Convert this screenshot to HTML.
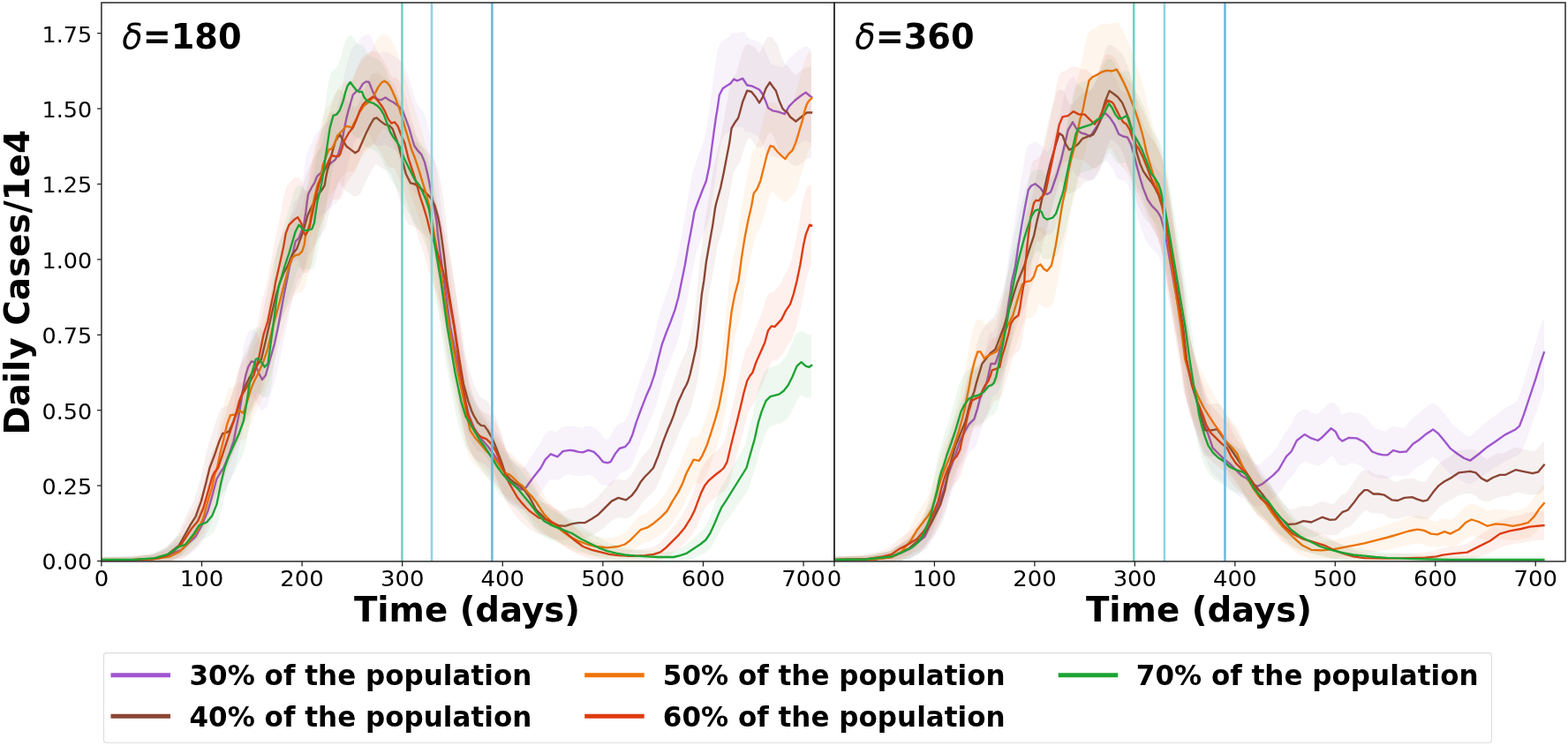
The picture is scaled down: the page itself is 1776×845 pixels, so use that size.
<!DOCTYPE html>
<html><head><meta charset="utf-8"><title>Daily Cases</title>
<style>html,body{margin:0;padding:0;background:#fff;width:1776px;height:845px;overflow:hidden}svg{display:block}</style>
</head><body>
<svg width="1776" height="845" viewBox="0 0 1776 845">
<rect width="100%" height="100%" fill="#fff"/>
<defs><clipPath id="cl"><rect x="114.92" y="3" width="830.03" height="632.9"/></clipPath><clipPath id="cr"><rect x="944.95" y="3" width="828.05" height="632.9"/></clipPath></defs>
<g clip-path="url(#cl)">
<path d="M114.9,634.5 160.0,634.0 180.0,632.3 190.0,629.5 195.3,626.6 205.3,622.8 221.6,607.8 227.9,596.5 235.4,578.9 240.4,561.4 245.4,542.5 250.5,533.8 253.2,530.0 259.6,514.5 264.6,499.6 268.3,480.9 270.8,468.5 273.3,453.6 275.8,437.4 278.3,425.0 281.0,416.0 284.7,409.5 288.0,410.0 293.4,423.2 297.0,430.0 300.9,425.0 305.9,407.0 310.9,389.6 314.6,372.2 318.3,352.3 322.0,332.4 324.5,320.0 328.0,302.0 331.0,289.6 334.7,273.4 338.5,269.7 341.5,262.0 344.5,252.0 346.4,240.0 347.8,228.3 349.2,219.8 352.8,212.7 356.3,207.0 359.1,199.9 362.0,197.0 368.6,190.8 374.8,184.6 379.8,180.9 383.5,173.4 386.0,164.7 387.9,157.2 389.7,147.3 392.2,134.9 394.7,124.9 397.2,116.2 399.8,107.3 403.6,103.6 407.3,101.1 411.0,94.9 414.7,92.4 417.9,93.0 419.7,97.3 422.2,103.6 425.9,111.0 429.7,113.5 433.4,112.3 436.5,110.4 440.9,113.5 445.8,116.0 450.8,119.7 455.8,124.7 459.5,134.6 463.2,144.6 466.5,156.0 469.2,165.0 473.6,171.2 477.3,174.9 481.0,183.6 484.1,196.1 486.6,208.5 489.1,222.2 492.2,237.1 494.7,252.0 495.8,265.0 499.0,290.0 502.9,317.5 510.0,370.0 516.0,400.0 520.5,422.0 526.0,450.0 531.0,470.0 537.0,485.0 545.0,497.0 553.0,506.0 560.0,516.0 566.0,525.0 571.0,534.0 577.2,544.6 584.7,550.8 590.9,554.5 595.9,552.0 602.1,543.3 607.0,537.1 612.5,530.0 617.6,520.6 623.8,514.3 631.4,517.4 637.6,511.2 645.2,509.9 650.2,510.5 655.2,511.8 660.2,512.4 666.5,509.9 672.7,511.8 677.8,516.8 682.8,523.1 687.8,524.3 691.6,523.1 696.6,514.3 701.6,508.0 707.9,506.2 712.9,500.5 716.6,491.7 720.4,479.2 725.4,465.4 731.7,449.1 736.7,437.8 740.5,426.5 741.4,424.0 745.8,405.8 749.6,390.7 754.6,377.0 759.6,364.4 764.6,350.6 768.4,336.8 770.9,324.3 772.2,318.0 775.9,299.8 779.7,277.2 783.5,257.2 786.6,239.6 789.7,231.0 794.7,217.8 799.8,205.3 803.5,187.7 806.0,168.9 808.5,150.1 811.0,132.5 812.3,125.0 814.8,107.8 818.6,100.2 822.3,97.7 827.4,94.6 831.1,89.6 834.9,91.5 841.2,88.9 846.2,96.5 852.4,97.7 860.0,101.5 863.7,106.5 867.5,115.3 870.0,122.2 875.0,125.3 881.3,126.6 888.8,129.1 893.8,120.3 900.1,114.0 906.4,109.0 912.6,104.6 917.7,109.0 920.2,110.3" fill="none" stroke="#a056cf" stroke-width="2.35" stroke-linejoin="round" stroke-linecap="butt"/>
<path d="M114.9,631.3 116.9,631.3 118.9,631.2 120.9,631.2 122.9,631.1 124.9,631.1 126.9,631.0 128.9,631.0 130.9,630.9 132.9,630.9 134.9,630.8 136.9,630.8 138.9,630.7 140.9,630.7 142.9,630.6 144.9,630.6 146.9,630.5 148.9,630.5 150.9,630.4 152.9,630.4 154.9,630.4 156.9,630.3 158.9,630.1 160.9,629.8 162.9,629.4 164.9,629.1 166.9,628.8 168.9,628.5 170.9,628.1 172.9,627.8 174.9,627.5 176.9,627.2 178.9,626.6 180.9,625.7 182.9,624.8 184.9,623.9 186.9,623.0 188.9,621.8 190.9,620.2 192.9,618.6 194.9,617.5 196.9,616.4 198.9,615.3 200.9,614.3 202.9,613.3 204.9,611.1 206.9,608.7 208.9,606.3 210.9,604.0 212.9,601.6 214.9,599.3 216.9,597.0 218.9,594.8 220.9,591.1 222.9,586.8 224.9,582.5 226.9,577.6 228.9,572.1 230.9,566.6 232.9,561.2 234.9,553.8 236.9,545.8 238.9,537.7 240.9,529.2 242.9,520.8 244.9,515.8 246.9,512.0 248.9,508.4 250.9,505.2 252.9,500.2 254.9,494.9 256.9,489.5 258.9,483.4 260.9,476.9 262.9,469.7 264.9,458.6 266.9,447.7 268.9,436.8 270.9,423.9 272.9,410.2 274.9,398.0 276.9,388.4 278.9,381.3 280.9,377.3 282.9,374.0 284.9,374.0 286.9,374.0 288.9,374.3 290.9,376.9 292.9,382.1 294.9,387.3 296.9,391.7 298.9,390.6 300.9,382.9 302.9,375.1 304.9,367.6 306.9,360.1 308.9,352.7 310.9,342.7 312.9,332.4 314.9,321.0 316.9,309.5 318.9,298.1 320.9,287.1 322.9,276.5 324.9,265.6 326.9,255.7 328.9,247.0 330.9,237.8 332.9,229.3 334.9,227.2 336.9,224.5 338.9,219.1 340.9,212.5 342.9,204.3 344.9,189.9 346.9,175.0 348.9,169.5 350.9,165.4 352.9,162.0 354.9,158.0 356.9,152.7 358.9,150.3 360.9,148.2 362.9,146.3 364.9,144.3 366.9,142.3 368.9,140.2 370.9,138.1 372.9,136.0 374.9,134.5 376.9,132.9 378.9,129.9 380.9,125.6 382.9,119.3 384.9,111.5 386.9,101.6 388.9,90.8 390.9,81.1 392.9,72.9 394.9,65.6 396.9,58.4 398.9,54.1 400.9,52.1 402.9,50.4 404.9,49.0 406.9,46.0 408.9,42.5 410.9,40.9 412.9,39.7 414.9,39.7 416.9,39.7 418.9,40.1 420.9,42.8 422.9,47.9 424.9,52.8 426.9,57.0 428.9,59.8 430.9,60.6 432.9,59.5 434.9,58.8 436.9,58.8 438.9,58.8 440.9,60.2 442.9,61.7 444.9,62.8 446.9,63.8 448.9,65.2 450.9,66.7 452.9,68.3 454.9,70.4 456.9,72.5 458.9,76.5 460.9,82.1 462.9,87.7 464.9,93.4 466.9,100.4 468.9,107.5 470.9,114.5 472.9,118.1 474.9,121.0 476.9,123.4 478.9,125.5 480.9,129.9 482.9,134.8 484.9,143.1 486.9,152.3 488.9,162.9 490.9,174.4 492.9,184.7 494.9,195.6 496.9,209.4 498.9,229.7 500.9,246.2 502.9,261.1 504.9,276.1 506.9,291.7 508.9,307.4 510.9,323.1 512.9,336.6 514.9,347.2 516.9,357.9 518.9,368.5 520.9,379.0 522.9,389.5 524.9,400.5 526.9,411.4 528.9,421.4 530.9,430.0 532.9,438.7 534.9,444.3 536.9,449.7 538.9,455.1 540.9,458.5 542.9,461.8 544.9,465.0 546.9,468.3 548.9,470.8 550.9,473.3 552.9,475.7 554.9,478.2 556.9,481.3 558.9,484.5 560.9,487.6 562.9,490.8 564.9,494.1 566.9,497.4 568.9,501.0 570.9,505.0 572.9,509.0 574.9,512.8 576.9,516.6 578.9,520.4 580.9,522.6 582.9,524.4 584.9,526.3 586.9,528.1 588.9,529.4 590.9,530.8 592.9,529.9 594.9,527.7 596.9,524.6 598.9,521.4 600.9,518.4 602.9,515.6 604.9,512.8 606.9,509.9 608.9,507.1 610.9,504.0 612.9,499.9 614.9,495.8 616.9,492.9 618.9,490.7 620.9,488.5 622.9,487.9 624.9,487.9 626.9,487.9 628.9,488.8 630.9,489.2 632.9,487.0 634.9,484.8 636.9,483.8 638.9,483.4 640.9,483.0 642.9,482.7 644.9,482.7 646.9,482.7 648.9,482.8 650.9,483.1 652.9,483.5 654.9,484.0 656.9,484.6 658.9,484.9 660.9,484.2 662.9,483.3 664.9,482.8 666.9,482.8 668.9,482.8 670.9,483.4 672.9,484.1 674.9,484.9 676.9,487.1 678.9,489.2 680.9,491.7 682.9,494.5 684.9,497.2 686.9,497.7 688.9,497.4 690.9,494.6 692.9,490.7 694.9,487.0 696.9,484.3 698.9,481.5 700.9,480.1 702.9,479.5 704.9,478.9 706.9,477.3 708.9,474.8 710.9,472.3 712.9,467.1 714.9,461.6 716.9,454.5 718.9,447.6 720.9,441.6 722.9,435.6 724.9,429.9 726.9,424.3 728.9,418.7 730.9,413.6 732.9,408.7 734.9,403.7 736.9,397.3 738.9,391.0 740.9,382.8 742.9,374.0 744.9,365.3 746.9,356.8 748.9,350.1 750.9,344.2 752.9,338.4 754.9,333.1 756.9,327.7 758.9,322.0 760.9,316.1 762.9,310.0 764.9,302.3 766.9,293.9 768.9,283.3 770.9,272.9 772.9,262.5 774.9,251.0 776.9,238.5 778.9,226.8 780.9,215.7 782.9,204.0 784.9,193.0 786.9,187.2 788.9,181.5 790.9,175.9 792.9,170.4 794.9,165.3 796.9,160.1 798.9,152.3 800.9,142.3 802.9,128.3 804.9,112.6 806.9,97.0 808.9,82.3 810.9,69.4 812.9,55.5 814.9,51.4 816.9,47.6 818.9,46.2 820.9,44.8 822.9,43.6 824.9,42.3 826.9,39.9 828.9,37.0 830.9,37.0 832.9,37.0 834.9,37.7 836.9,37.0 838.9,36.1 840.9,36.1 842.9,36.1 844.9,38.7 846.9,41.9 848.9,44.1 850.9,44.5 852.9,44.9 854.9,45.5 856.9,46.5 858.9,47.6 860.9,48.6 862.9,50.4 864.9,53.3 866.9,57.3 868.9,62.1 870.9,67.6 872.9,71.4 874.9,72.7 876.9,74.0 878.9,74.4 880.9,74.9 882.9,75.3 884.9,75.9 886.9,76.6 888.9,74.1 890.9,70.5 892.9,67.7 894.9,65.6 896.9,63.5 898.9,61.6 900.9,59.9 902.9,58.2 904.9,56.6 906.9,55.1 908.9,53.7 910.9,52.7 912.9,52.7 914.9,52.7 916.9,54.5 918.9,56.3 L918.9,161.6 916.9,161.6 914.9,160.3 912.9,158.7 910.9,159.3 908.9,160.7 906.9,162.1 904.9,163.7 902.9,165.2 900.9,166.9 898.9,168.8 896.9,170.7 894.9,173.3 892.9,176.7 890.9,180.0 888.9,180.0 886.9,180.0 884.9,179.6 882.9,179.0 880.9,178.3 878.9,177.7 876.9,177.3 874.9,176.9 872.9,176.5 870.9,175.3 868.9,174.1 866.9,170.7 864.9,165.7 862.9,161.3 860.9,157.6 858.9,155.0 856.9,153.3 854.9,152.3 852.9,151.4 850.9,150.4 848.9,149.9 846.9,149.6 844.9,149.2 842.9,147.2 840.9,144.3 838.9,143.5 836.9,144.3 834.9,144.3 832.9,144.3 830.9,145.3 828.9,147.5 826.9,148.7 824.9,149.8 822.9,151.1 820.9,152.4 818.9,155.8 816.9,159.7 814.9,172.3 812.9,184.1 810.9,197.5 808.9,211.7 806.9,226.0 804.9,238.8 802.9,247.8 800.9,254.9 798.9,259.5 796.9,264.2 794.9,269.2 792.9,274.2 790.9,279.3 788.9,284.5 786.9,294.5 784.9,305.0 782.9,315.0 780.9,325.4 778.9,336.7 776.9,346.9 774.9,356.2 772.9,365.3 770.9,374.7 768.9,382.2 766.9,389.0 764.9,394.4 762.9,399.6 760.9,404.6 758.9,409.3 756.9,414.0 754.9,419.1 752.9,424.2 750.9,430.1 748.9,437.5 746.9,445.1 744.9,452.7 742.9,459.8 740.9,465.2 738.9,470.7 736.9,475.0 734.9,479.2 732.9,483.6 730.9,488.4 728.9,493.1 726.9,497.9 724.9,503.0 722.9,508.0 720.9,513.8 718.9,519.8 716.9,524.4 714.9,528.7 712.9,530.7 710.9,532.8 708.9,534.1 706.9,534.6 704.9,535.1 702.9,536.3 700.9,538.5 698.9,540.8 696.9,543.8 694.9,547.0 692.9,549.3 690.9,549.8 688.9,549.9 686.9,549.9 684.9,549.9 682.9,549.5 680.9,549.1 678.9,546.9 676.9,544.6 674.9,542.6 672.9,540.8 670.9,539.1 668.9,538.4 666.9,537.8 664.9,538.5 662.9,539.2 660.9,539.3 658.9,539.3 656.9,539.3 654.9,539.1 652.9,538.8 650.9,538.4 648.9,537.9 646.9,537.6 644.9,537.5 642.9,537.8 640.9,538.2 638.9,539.0 636.9,540.8 634.9,542.6 632.9,543.8 630.9,543.8 628.9,543.8 626.9,543.0 624.9,542.3 622.9,543.8 620.9,545.6 618.9,548.0 616.9,551.3 614.9,554.6 612.9,557.1 610.9,559.4 608.9,561.7 606.9,563.9 604.9,566.1 602.9,568.5 600.9,571.0 598.9,573.5 596.9,575.1 594.9,576.0 592.9,576.9 590.9,576.9 588.9,576.9 586.9,575.9 584.9,574.8 582.9,573.8 580.9,572.3 578.9,570.9 576.9,569.4 574.9,567.7 572.9,564.7 570.9,561.7 568.9,558.6 566.9,555.4 564.9,552.2 562.9,549.3 560.9,546.6 558.9,543.9 556.9,541.3 554.9,538.7 552.9,536.1 550.9,533.6 548.9,531.5 546.9,529.5 544.9,527.4 542.9,525.4 540.9,522.7 538.9,519.9 536.9,517.2 534.9,514.4 532.9,509.8 530.9,505.2 528.9,500.5 526.9,493.2 524.9,485.8 522.9,477.4 520.9,468.0 518.9,458.5 516.9,449.4 514.9,440.3 512.9,431.1 510.9,421.8 508.9,412.4 506.9,400.6 504.9,386.7 502.9,372.9 500.9,358.9 498.9,345.7 496.9,332.3 494.9,317.5 492.9,299.3 490.9,286.9 488.9,277.0 486.9,267.8 484.9,257.4 482.9,247.8 480.9,239.4 478.9,231.9 476.9,227.4 474.9,223.5 472.9,221.6 470.9,219.4 468.9,216.7 466.9,213.5 464.9,207.1 462.9,200.6 460.9,194.2 458.9,189.1 456.9,183.9 454.9,178.8 452.9,175.1 450.9,173.2 448.9,171.3 446.9,169.9 444.9,168.5 442.9,167.2 440.9,166.3 438.9,165.3 436.9,164.0 434.9,164.3 432.9,164.9 430.9,164.9 428.9,164.9 426.9,164.8 424.9,163.5 422.9,161.0 420.9,157.2 418.9,152.7 416.9,148.0 414.9,146.3 412.9,147.7 410.9,150.9 408.9,153.7 406.9,155.0 404.9,156.5 402.9,158.4 400.9,162.3 398.9,168.9 396.9,175.5 394.9,183.1 392.9,191.9 390.9,201.8 388.9,210.8 386.9,217.8 384.9,223.6 382.9,227.5 380.9,230.2 378.9,231.6 376.9,233.0 374.9,234.9 372.9,236.8 370.9,238.7 368.9,240.5 366.9,242.3 364.9,244.1 362.9,245.9 360.9,248.1 358.9,252.9 356.9,256.6 354.9,259.7 352.9,263.4 350.9,268.3 348.9,281.8 346.9,294.7 344.9,302.1 342.9,308.0 340.9,312.9 338.9,315.3 336.9,317.2 334.9,324.8 332.9,333.0 330.9,340.8 328.9,349.7 326.9,359.4 324.9,368.8 322.9,378.5 320.9,388.6 318.9,398.7 316.9,408.8 314.9,417.7 312.9,426.5 310.9,433.0 308.9,439.5 306.9,446.1 304.9,452.7 302.9,459.4 300.9,461.8 298.9,463.9 296.9,463.9 294.9,463.9 292.9,460.4 290.9,456.6 288.9,452.1 286.9,447.5 284.9,448.0 282.9,451.4 280.9,457.6 278.9,465.8 276.9,476.3 274.9,488.0 272.9,499.0 270.9,508.1 268.9,517.3 266.9,526.5 264.9,532.5 262.9,537.8 260.9,542.9 258.9,547.2 256.9,551.5 254.9,555.6 252.9,558.1 250.9,561.0 248.9,564.1 246.9,568.0 244.9,574.7 242.9,581.3 240.9,587.5 238.9,593.5 236.9,599.0 234.9,602.9 232.9,606.8 230.9,610.7 228.9,614.1 226.9,617.0 224.9,619.8 222.9,622.1 220.9,623.5 218.9,624.9 216.9,626.3 214.9,627.7 212.9,629.0 210.9,630.3 208.9,631.5 206.9,632.6 204.9,633.1 202.9,633.6 200.9,634.1 198.9,634.5 196.9,635.0 194.9,635.6 192.9,635.9 190.9,635.9 188.9,635.9 186.9,635.9 184.9,635.9 182.9,635.9 180.9,635.9 178.9,635.9 176.9,635.9 174.9,635.9 172.9,635.9 170.9,635.9 168.9,635.9 166.9,635.9 164.9,635.9 162.9,635.9 160.9,635.9 158.9,635.9 156.9,635.9 154.9,635.9 152.9,635.9 150.9,635.9 148.9,635.9 146.9,635.9 144.9,635.9 142.9,635.9 140.9,635.9 138.9,635.9 136.9,635.9 134.9,635.9 132.9,635.9 130.9,635.9 128.9,635.9 126.9,635.9 124.9,635.9 122.9,635.9 120.9,635.9 118.9,635.9 116.9,635.9 114.9,635.9 Z" fill="#a056cf" fill-opacity="0.075" stroke="none"/>
<path d="M114.9,634.5 150.0,634.2 175.0,632.8 190.0,628.0 202.8,617.8 215.3,595.2 221.6,585.2 227.9,567.6 232.9,548.8 237.5,530.0 243.4,514.5 248.4,499.6 252.2,490.9 255.9,490.3 259.6,488.4 264.6,477.2 269.6,462.3 273.3,448.6 277.0,438.7 282.0,428.7 286.0,422.0 291.0,414.0 296.0,407.0 300.9,385.9 304.6,369.7 309.0,350.0 313.0,333.0 317.0,320.0 321.0,310.0 326.0,300.8 331.0,288.3 336.0,282.1 339.7,272.2 343.4,262.2 345.9,253.5 348.4,244.0 350.9,238.6 354.0,232.0 357.5,226.0 361.5,219.0 364.8,214.8 367.7,209.8 369.1,201.3 370.5,194.2 372.6,187.1 374.1,180.0 376.5,172.0 379.9,160.0 384.9,152.0 388.6,159.5 392.4,165.7 397.3,169.4 402.3,173.2 406.0,170.7 409.8,162.0 414.7,150.8 419.7,140.9 423.4,134.6 426.6,133.4 430.9,137.1 435.9,140.9 440.9,142.1 444.6,145.8 448.3,155.8 451.5,165.0 456.2,183.6 459.9,197.3 464.9,207.3 469.8,208.5 476.0,213.0 482.3,218.4 487.2,223.4 492.2,232.1 495.9,244.6 498.4,257.0 500.3,270.0 503.0,290.0 506.0,317.5 514.7,370.0 520.0,405.0 525.0,435.0 530.4,454.6 534.0,465.0 536.2,470.0 541.2,478.7 544.9,481.8 548.6,482.4 552.3,487.4 557.3,496.1 561.0,504.8 564.8,514.7 568.5,524.7 572.2,535.9 577.2,542.1 583.4,547.1 589.6,550.8 594.6,555.8 599.6,563.0 607.5,577.7 617.6,587.7 625.1,592.7 632.6,595.2 640.1,595.8 647.7,593.3 655.2,592.1 662.7,592.1 670.2,587.7 677.8,582.7 685.3,575.2 692.8,567.6 700.3,563.9 709.1,566.4 715.4,561.4 720.4,555.1 725.4,546.3 730.4,540.0 735.5,535.0 740.0,530.0 745.8,515.6 750.5,501.8 753.4,494.2 756.8,485.5 759.6,479.2 763.1,470.4 765.9,461.6 768.1,455.4 772.2,446.6 774.3,441.6 777.2,436.5 779.4,431.5 781.6,424.0 784.7,410.8 788.5,393.3 791.0,371.9 792.9,353.1 794.7,334.3 797.3,318.0 799.8,297.3 803.5,276.0 807.3,254.6 809.8,237.1 811.0,231.0 816.1,212.8 819.8,195.2 823.6,175.2 826.1,162.6 828.6,145.1 832.4,138.8 836.1,133.8 838.6,125.0 841.2,115.3 846.2,102.7 851.2,104.0 856.2,110.3 860.0,116.5 863.7,110.3 867.5,100.2 871.9,93.3 875.0,97.7 878.8,102.7 882.5,114.0 886.3,122.8 888.8,125.5 891.3,126.6 895.1,132.5 901.4,137.5 907.6,132.5 913.9,127.5 920.2,127.5" fill="none" stroke="#8b4535" stroke-width="2.35" stroke-linejoin="round" stroke-linecap="butt"/>
<path d="M114.9,631.4 116.9,631.3 118.9,631.3 120.9,631.2 122.9,631.2 124.9,631.2 126.9,631.1 128.9,631.1 130.9,631.0 132.9,631.0 134.9,631.0 136.9,630.9 138.9,630.9 140.9,630.8 142.9,630.8 144.9,630.8 146.9,630.7 148.9,630.6 150.9,630.4 152.9,630.1 154.9,629.9 156.9,629.7 158.9,629.4 160.9,629.2 162.9,629.0 164.9,628.8 166.9,628.6 168.9,628.4 170.9,628.2 172.9,628.0 174.9,626.9 176.9,625.8 178.9,624.8 180.9,623.7 182.9,622.8 184.9,621.8 186.9,620.8 188.9,619.3 190.9,617.0 192.9,614.8 194.9,612.7 196.9,610.6 198.9,608.5 200.9,606.3 202.9,601.7 204.9,597.2 206.9,592.7 208.9,588.3 210.9,584.0 212.9,579.7 214.9,575.8 216.9,572.1 218.9,568.4 220.9,562.9 222.9,556.5 224.9,550.1 226.9,542.6 228.9,534.2 230.9,525.7 232.9,516.6 234.9,507.5 236.9,500.7 238.9,494.9 240.9,489.1 242.9,482.8 244.9,476.2 246.9,470.1 248.9,465.1 250.9,461.7 252.9,461.4 254.9,460.6 256.9,459.5 258.9,455.9 260.9,451.1 262.9,446.0 264.9,439.5 266.9,433.0 268.9,425.6 270.9,417.6 272.9,411.4 274.9,405.6 276.9,401.2 278.9,396.9 280.9,392.9 282.9,389.3 284.9,385.8 286.9,382.4 288.9,379.0 290.9,375.9 292.9,372.9 294.9,367.1 296.9,357.9 298.9,348.7 300.9,339.4 302.9,330.0 304.9,320.5 306.9,311.0 308.9,301.9 310.9,292.9 312.9,285.9 314.9,279.0 316.9,273.7 318.9,268.4 320.9,264.4 322.9,260.5 324.9,256.0 326.9,250.7 328.9,245.4 330.9,242.7 332.9,240.1 334.9,236.1 336.9,230.5 338.9,224.8 340.9,219.1 342.9,212.2 344.9,204.5 346.9,197.4 348.9,192.8 350.9,188.3 352.9,184.2 354.9,180.6 356.9,177.0 358.9,173.3 360.9,170.3 362.9,167.6 364.9,164.0 366.9,154.9 368.9,144.8 370.9,137.2 372.9,128.5 374.9,121.4 376.9,114.0 378.9,108.7 380.9,105.3 382.9,102.0 384.9,102.0 386.9,102.0 388.9,106.2 390.9,110.3 392.9,113.7 394.9,116.7 396.9,118.3 398.9,119.9 400.9,121.4 402.9,122.3 404.9,119.4 406.9,114.6 408.9,109.8 410.9,105.0 412.9,100.3 414.9,96.1 416.9,92.0 418.9,88.2 420.9,84.6 422.9,83.2 424.9,82.8 426.9,82.8 428.9,82.8 430.9,84.6 432.9,86.4 434.9,88.0 436.9,89.5 438.9,90.6 440.9,91.1 442.9,91.6 444.9,93.7 446.9,96.3 448.9,102.0 450.9,107.7 452.9,113.8 454.9,121.4 456.9,129.7 458.9,137.8 460.9,145.5 462.9,151.5 464.9,155.7 466.9,159.9 468.9,160.4 470.9,160.9 472.9,162.0 474.9,163.5 476.9,165.1 478.9,166.7 480.9,168.5 482.9,170.3 484.9,172.2 486.9,174.4 488.9,176.5 490.9,179.9 492.9,183.6 494.9,188.5 496.9,195.6 498.9,204.3 500.9,215.8 502.9,230.6 504.9,246.2 506.9,265.4 508.9,281.8 510.9,294.6 512.9,307.4 514.9,320.2 516.9,333.2 518.9,347.3 520.9,361.4 522.9,374.9 524.9,387.8 526.9,400.7 528.9,408.7 530.9,416.6 532.9,424.0 534.9,430.3 536.9,435.9 538.9,440.4 540.9,444.2 542.9,448.0 544.9,450.1 546.9,451.9 548.9,452.3 550.9,453.0 552.9,456.0 554.9,459.2 556.9,462.9 558.9,466.7 560.9,471.6 562.9,476.8 564.9,482.5 566.9,488.2 568.9,494.1 570.9,500.3 572.9,507.0 574.9,512.3 576.9,515.0 578.9,517.8 580.9,519.8 582.9,521.6 584.9,523.4 586.9,524.8 588.9,526.1 590.9,527.5 592.9,529.4 594.9,531.7 596.9,534.1 598.9,537.3 600.9,540.6 602.9,544.4 604.9,548.7 606.9,552.9 608.9,557.2 610.9,560.1 612.9,562.3 614.9,564.6 616.9,566.9 618.9,569.2 620.9,571.0 622.9,572.6 624.9,574.2 626.9,575.7 628.9,576.6 630.9,577.4 632.9,578.2 634.9,578.9 636.9,579.1 638.9,579.2 640.9,578.5 642.9,577.7 644.9,576.9 646.9,576.4 648.9,576.0 650.9,575.6 652.9,575.2 654.9,575.2 656.9,575.2 658.9,575.2 660.9,575.0 662.9,573.7 664.9,572.3 666.9,570.9 668.9,569.5 670.9,568.0 672.9,566.4 674.9,564.9 676.9,563.0 678.9,560.6 680.9,558.3 682.9,556.0 684.9,553.7 686.9,551.4 688.9,549.1 690.9,546.9 692.9,545.7 694.9,544.6 696.9,543.5 698.9,542.9 700.9,542.9 702.9,542.9 704.9,543.6 706.9,544.2 708.9,543.9 710.9,542.1 712.9,540.3 714.9,537.7 716.9,534.9 718.9,531.8 720.9,527.8 722.9,523.9 724.9,520.8 726.9,518.0 728.9,515.3 730.9,513.2 732.9,511.0 734.9,508.6 736.9,506.1 738.9,502.3 740.9,496.8 742.9,491.3 744.9,485.3 746.9,478.9 748.9,472.6 750.9,466.9 752.9,461.2 754.9,455.7 756.9,450.8 758.9,445.5 760.9,440.1 762.9,433.4 764.9,427.0 766.9,421.5 768.9,416.8 770.9,412.0 772.9,407.3 774.9,403.5 776.9,398.8 778.9,392.1 780.9,383.6 782.9,374.4 784.9,364.5 786.9,353.0 788.9,334.7 790.9,313.8 792.9,292.5 794.9,279.2 796.9,262.6 798.9,248.0 800.9,235.8 802.9,223.9 804.9,212.0 806.9,197.9 808.9,185.4 810.9,177.7 812.9,170.2 814.9,161.7 816.9,151.7 818.9,141.1 820.9,130.1 822.9,119.4 824.9,107.2 826.9,94.2 828.9,90.7 830.9,87.4 832.9,84.6 834.9,80.0 836.9,72.5 838.9,64.8 840.9,59.1 842.9,53.8 844.9,50.6 846.9,50.6 848.9,50.6 850.9,51.2 852.9,51.7 854.9,54.0 856.9,56.6 858.9,59.6 860.9,59.8 862.9,55.0 864.9,49.5 866.9,45.5 868.9,42.2 870.9,42.1 872.9,42.1 874.9,42.1 876.9,45.1 878.9,47.8 880.9,50.7 882.9,57.1 884.9,63.2 886.9,68.0 888.9,72.1 890.9,74.3 892.9,75.2 894.9,78.0 896.9,81.2 898.9,83.1 900.9,84.7 902.9,83.8 904.9,82.1 906.9,80.5 908.9,78.8 910.9,77.2 912.9,76.3 914.9,76.3 916.9,76.3 918.9,76.3 L918.9,178.7 916.9,178.7 914.9,179.4 912.9,180.9 910.9,182.5 908.9,184.0 906.9,185.5 904.9,187.1 902.9,187.8 900.9,187.8 898.9,187.8 896.9,186.3 894.9,184.8 892.9,183.1 890.9,180.2 888.9,177.6 886.9,176.8 884.9,174.8 882.9,171.1 880.9,166.7 878.9,161.1 876.9,155.3 874.9,152.6 872.9,150.1 870.9,150.5 868.9,154.1 866.9,159.2 864.9,163.5 862.9,166.7 860.9,166.7 858.9,166.7 856.9,166.4 854.9,163.3 852.9,160.7 850.9,158.3 848.9,156.1 846.9,158.1 844.9,162.9 842.9,168.1 840.9,175.2 838.9,182.0 836.9,186.2 834.9,188.8 832.9,191.8 830.9,195.0 828.9,206.8 826.9,217.9 824.9,227.7 822.9,237.7 820.9,247.2 818.9,256.3 816.9,264.0 814.9,270.7 812.9,277.7 810.9,288.9 808.9,301.7 806.9,312.3 804.9,323.1 802.9,333.9 800.9,346.9 798.9,361.8 796.9,373.6 794.9,392.4 792.9,410.8 790.9,426.8 788.9,436.8 786.9,445.4 784.9,453.4 782.9,460.7 780.9,466.5 778.9,470.5 776.9,473.8 774.9,477.8 772.9,482.0 770.9,485.9 768.9,490.6 766.9,496.1 764.9,501.7 762.9,506.3 760.9,510.7 758.9,514.8 756.9,519.5 754.9,524.2 752.9,528.9 750.9,534.1 748.9,539.4 746.9,544.3 744.9,548.8 742.9,553.2 740.9,556.3 738.9,558.3 736.9,560.2 734.9,561.9 732.9,563.7 730.9,565.8 728.9,568.0 726.9,570.5 724.9,573.6 722.9,576.7 720.9,579.1 718.9,581.3 716.9,583.3 714.9,584.6 712.9,586.0 710.9,587.2 708.9,587.2 706.9,587.2 704.9,586.7 702.9,586.2 700.9,585.7 698.9,586.5 696.9,587.4 694.9,588.2 692.9,589.9 690.9,591.7 688.9,593.4 686.9,595.2 684.9,596.9 682.9,598.6 680.9,600.2 678.9,601.7 676.9,602.8 674.9,603.9 672.9,605.0 670.9,606.0 668.9,607.0 666.9,607.9 664.9,608.9 662.9,609.0 660.9,609.0 658.9,609.0 656.9,609.1 654.9,609.3 652.9,609.6 650.9,609.8 648.9,610.2 646.9,610.8 644.9,611.3 642.9,611.8 640.9,612.0 638.9,612.0 636.9,612.0 634.9,611.8 632.9,611.7 630.9,611.6 628.9,611.1 626.9,610.5 624.9,610.0 622.9,609.4 620.9,608.3 618.9,607.2 616.9,606.1 614.9,604.8 612.9,603.1 610.9,601.5 608.9,599.8 606.9,598.1 604.9,596.0 602.9,592.8 600.9,589.6 598.9,586.4 596.9,583.4 594.9,580.9 592.9,578.4 590.9,576.5 588.9,574.8 586.9,573.3 584.9,572.2 582.9,571.2 580.9,570.0 578.9,568.6 576.9,567.2 574.9,565.6 572.9,563.5 570.9,561.3 568.9,557.0 566.9,551.6 564.9,546.6 562.9,541.8 560.9,537.0 558.9,532.4 556.9,528.1 554.9,524.1 552.9,520.9 550.9,517.7 548.9,515.1 546.9,512.6 544.9,512.0 542.9,511.7 540.9,510.1 538.9,508.4 536.9,505.2 534.9,502.0 532.9,498.2 530.9,493.4 528.9,488.1 526.9,481.7 524.9,475.0 522.9,468.1 520.9,457.0 518.9,445.9 516.9,434.1 514.9,421.8 512.9,409.4 510.9,398.0 508.9,386.7 506.9,375.4 504.9,364.1 502.9,349.4 500.9,332.3 498.9,318.3 496.9,305.1 494.9,294.8 492.9,286.9 490.9,280.5 488.9,276.1 486.9,272.8 484.9,269.7 482.9,267.7 480.9,265.8 478.9,264.1 476.9,262.5 474.9,260.8 472.9,259.3 470.9,258.0 468.9,256.6 466.9,255.6 464.9,255.1 462.9,254.7 460.9,250.9 458.9,247.1 456.9,241.7 454.9,234.6 452.9,227.2 450.9,219.7 448.9,212.8 446.9,207.3 444.9,202.1 442.9,196.9 440.9,194.5 438.9,192.6 436.9,192.1 434.9,191.7 432.9,190.7 430.9,189.3 428.9,187.8 426.9,186.2 424.9,186.3 422.9,189.5 420.9,193.0 418.9,196.7 416.9,200.5 414.9,204.8 412.9,209.2 410.9,213.5 408.9,217.9 406.9,220.6 404.9,221.9 402.9,221.9 400.9,221.9 398.9,221.2 396.9,219.8 394.9,218.3 392.9,216.9 390.9,215.5 388.9,212.8 386.9,209.7 384.9,205.9 382.9,208.1 380.9,213.0 378.9,219.8 376.9,226.2 374.9,234.1 372.9,240.9 370.9,250.1 368.9,258.4 366.9,261.6 364.9,264.1 362.9,266.8 360.9,270.1 358.9,273.4 356.9,276.7 354.9,280.4 352.9,284.4 350.9,288.5 348.9,294.9 346.9,301.8 344.9,308.0 342.9,313.1 340.9,318.2 338.9,323.3 336.9,326.8 334.9,329.2 332.9,331.7 330.9,336.4 328.9,341.1 326.9,345.1 324.9,348.6 322.9,352.1 320.9,356.8 318.9,361.6 316.9,367.7 314.9,373.9 312.9,381.9 310.9,389.9 308.9,398.3 306.9,406.7 304.9,414.9 302.9,423.1 300.9,431.1 298.9,439.1 296.9,444.1 294.9,446.7 292.9,449.4 290.9,452.3 288.9,455.3 286.9,458.3 284.9,461.5 282.9,464.9 280.9,468.6 278.9,472.3 276.9,477.3 274.9,482.6 272.9,489.4 270.9,495.7 268.9,501.2 266.9,506.7 264.9,511.0 262.9,515.0 260.9,518.0 258.9,519.0 256.9,519.6 254.9,519.9 252.9,522.7 250.9,526.8 248.9,531.9 246.9,537.3 244.9,542.5 242.9,547.2 240.9,551.9 238.9,557.4 236.9,564.7 234.9,571.9 232.9,578.5 230.9,585.0 228.9,590.7 226.9,595.5 224.9,600.2 222.9,604.2 220.9,606.9 218.9,609.5 216.9,612.1 214.9,615.1 212.9,618.0 210.9,620.8 208.9,623.6 206.9,626.3 204.9,629.0 202.9,630.2 200.9,631.3 198.9,632.3 196.9,633.4 194.9,634.4 192.9,635.3 190.9,635.9 188.9,635.9 186.9,635.9 184.9,635.9 182.9,635.9 180.9,635.9 178.9,635.9 176.9,635.9 174.9,635.9 172.9,635.9 170.9,635.9 168.9,635.9 166.9,635.9 164.9,635.9 162.9,635.9 160.9,635.9 158.9,635.9 156.9,635.9 154.9,635.9 152.9,635.9 150.9,635.9 148.9,635.9 146.9,635.9 144.9,635.9 142.9,635.9 140.9,635.9 138.9,635.9 136.9,635.9 134.9,635.9 132.9,635.9 130.9,635.9 128.9,635.9 126.9,635.9 124.9,635.9 122.9,635.9 120.9,635.9 118.9,635.9 116.9,635.9 114.9,635.9 Z" fill="#8b4535" fill-opacity="0.075" stroke="none"/>
<path d="M114.9,634.5 150.0,634.2 175.0,633.0 192.8,630.3 202.8,625.3 212.8,615.3 224.1,600.2 230.4,586.4 235.4,567.6 240.4,551.3 242.9,538.8 245.9,530.0 249.7,512.0 253.4,497.1 257.1,480.9 260.9,470.4 264.6,469.7 267.1,470.4 270.8,464.8 275.8,467.9 279.5,456.1 284.5,439.9 288.2,431.2 291.5,425.0 298.4,409.5 303.4,394.6 308.4,372.2 313.3,354.8 318.3,336.2 322.4,320.0 327.3,302.0 331.0,292.1 334.7,289.0 338.5,288.3 342.2,284.6 344.7,277.2 345.9,267.2 348.4,261.0 350.9,252.3 352.8,240.0 356.3,222.6 359.9,208.4 363.6,199.5 365.5,187.1 368.0,181.0 372.3,169.7 376.0,168.4 378.5,163.4 382.3,153.5 387.2,148.5 392.2,142.9 395.9,143.6 398.4,145.0 399.8,142.1 403.6,134.6 407.3,127.2 412.3,119.7 417.2,116.0 421.0,112.3 424.7,106.0 428.4,98.6 432.2,93.6 435.3,91.8 438.4,93.6 441.5,97.3 444.6,103.6 448.3,112.3 452.0,122.2 455.8,134.6 459.5,147.1 463.2,159.5 466.0,169.0 469.8,178.7 474.8,193.6 478.5,206.0 482.3,218.4 486.0,232.1 488.5,245.8 491.0,259.5 493.0,272.0 496.5,292.0 500.5,317.5 508.5,370.0 518.6,422.2 525.5,454.6 530.0,476.0 532.5,487.4 537.4,494.9 543.6,502.3 549.9,509.8 556.1,516.0 562.3,522.2 567.3,529.7 572.2,535.9 577.2,537.7 582.2,542.1 587.2,547.1 592.1,550.8 597.1,557.0 602.1,562.0 607.5,569.0 616.3,582.7 625.1,591.5 635.1,600.2 645.2,607.8 655.2,612.8 665.2,616.5 675.3,619.0 687.8,620.3 700.3,619.0 707.9,616.5 712.9,612.8 719.2,606.5 725.4,600.2 732.9,597.7 740.5,592.7 748.0,586.4 755.5,578.9 761.8,567.6 768.1,557.6 773.1,547.6 776.8,537.5 780.6,530.0 785.6,520.6 791.9,521.8 795.7,515.6 800.7,504.3 805.7,489.2 810.7,472.9 814.5,459.1 818.2,440.3 821.1,424.0 823.6,399.5 826.1,374.4 828.6,353.1 832.4,333.1 836.5,318.0 839.9,292.3 843.7,268.4 847.4,249.6 851.2,233.3 853.7,219.1 857.5,214.0 861.2,205.3 865.0,190.2 868.7,175.2 872.5,165.1 876.3,166.4 881.3,172.7 885.1,176.4 889.4,180.2 892.6,175.2 897.6,170.2 901.4,161.4 905.1,148.8 908.9,136.3 911.4,125.3 913.9,117.8 916.4,114.0 920.2,110.3" fill="none" stroke="#ef7404" stroke-width="2.35" stroke-linejoin="round" stroke-linecap="butt"/>
<path d="M114.9,631.4 116.9,631.3 118.9,631.3 120.9,631.2 122.9,631.2 124.9,631.2 126.9,631.1 128.9,631.1 130.9,631.0 132.9,631.0 134.9,631.0 136.9,630.9 138.9,630.9 140.9,630.8 142.9,630.8 144.9,630.8 146.9,630.7 148.9,630.6 150.9,630.4 152.9,630.2 154.9,630.0 156.9,629.8 158.9,629.6 160.9,629.4 162.9,629.2 164.9,629.0 166.9,628.9 168.9,628.7 170.9,628.5 172.9,628.3 174.9,627.8 176.9,627.3 178.9,626.7 180.9,626.2 182.9,625.7 184.9,625.2 186.9,624.7 188.9,624.2 190.9,623.7 192.9,622.2 194.9,620.7 196.9,619.2 198.9,617.8 200.9,616.3 202.9,613.6 204.9,610.9 206.9,608.3 208.9,605.7 210.9,603.1 212.9,599.8 214.9,596.5 216.9,593.2 218.9,589.9 220.9,586.7 222.9,582.7 224.9,577.5 226.9,572.4 228.9,566.3 230.9,557.7 232.9,549.1 234.9,541.4 236.9,534.0 238.9,525.7 240.9,514.5 242.9,508.0 244.9,499.5 246.9,489.1 248.9,479.6 250.9,470.8 252.9,461.4 254.9,451.9 256.9,445.5 258.9,439.5 260.9,439.1 262.9,438.9 264.9,438.9 266.9,436.6 268.9,433.5 270.9,433.5 272.9,433.5 274.9,433.0 276.9,426.1 278.9,419.2 280.9,412.2 282.9,405.6 284.9,400.5 286.9,395.8 288.9,391.8 290.9,387.2 292.9,382.4 294.9,377.6 296.9,372.4 298.9,366.0 300.9,359.6 302.9,350.8 304.9,341.3 306.9,332.2 308.9,324.7 310.9,317.1 312.9,309.3 314.9,301.4 316.9,293.4 318.9,285.0 320.9,276.8 322.9,269.0 324.9,261.2 326.9,255.1 328.9,249.5 330.9,247.5 332.9,245.9 334.9,245.5 336.9,244.8 338.9,242.7 340.9,239.1 342.9,231.7 344.9,220.3 346.9,214.6 348.9,207.2 350.9,193.8 352.9,183.3 354.9,173.5 356.9,165.2 358.9,158.5 360.9,153.5 362.9,142.8 364.9,135.1 366.9,129.9 368.9,124.3 370.9,120.3 372.9,119.5 374.9,117.2 376.9,112.8 378.9,107.3 380.9,102.9 382.9,100.8 384.9,98.6 386.9,96.3 388.9,94.0 390.9,92.6 392.9,92.6 394.9,92.6 396.9,93.0 398.9,89.3 400.9,85.2 402.9,81.0 404.9,76.9 406.9,73.5 408.9,70.4 410.9,67.7 412.9,66.1 414.9,64.6 416.9,62.6 418.9,60.6 420.9,57.1 422.9,53.5 424.9,49.3 426.9,45.5 428.9,42.7 430.9,40.5 432.9,39.3 434.9,39.3 436.9,39.3 438.9,40.0 440.9,41.5 442.9,44.0 444.9,47.8 446.9,52.1 448.9,57.0 450.9,62.1 452.9,67.7 454.9,73.9 456.9,80.7 458.9,87.6 460.9,94.7 462.9,101.7 464.9,108.8 466.9,115.8 468.9,122.2 470.9,127.5 472.9,133.4 474.9,139.6 476.9,145.9 478.9,152.9 480.9,159.9 482.9,166.8 484.9,173.9 486.9,181.7 488.9,191.2 490.9,202.7 492.9,214.2 494.9,227.3 496.9,239.4 498.9,251.8 500.9,265.3 502.9,278.8 504.9,292.7 506.9,306.7 508.9,320.6 510.9,334.0 512.9,345.0 514.9,356.0 516.9,367.1 518.9,378.2 520.9,389.1 522.9,399.2 524.9,409.3 526.9,419.4 528.9,429.6 530.9,439.9 532.9,450.1 534.9,458.7 536.9,462.0 538.9,465.4 540.9,468.2 542.9,470.8 544.9,473.4 546.9,476.0 548.9,478.6 550.9,481.2 552.9,483.6 554.9,485.8 556.9,488.0 558.9,490.2 560.9,492.4 562.9,494.6 564.9,497.1 566.9,500.5 568.9,503.8 570.9,506.7 572.9,509.5 574.9,511.6 576.9,512.4 578.9,513.2 580.9,515.0 582.9,516.9 584.9,519.0 586.9,521.2 588.9,523.5 590.9,525.2 592.9,526.9 594.9,529.1 596.9,531.8 598.9,534.6 600.9,536.9 602.9,539.2 604.9,541.7 606.9,544.7 608.9,547.6 610.9,551.0 612.9,554.5 614.9,558.1 616.9,561.7 618.9,564.9 620.9,567.2 622.9,569.6 624.9,571.9 626.9,574.2 628.9,576.3 630.9,578.4 632.9,580.4 634.9,582.5 636.9,584.6 638.9,586.4 640.9,588.2 642.9,590.0 644.9,591.9 646.9,593.7 648.9,595.0 650.9,596.3 652.9,597.5 654.9,598.7 656.9,600.0 658.9,601.0 660.9,601.9 662.9,602.8 664.9,603.8 666.9,604.7 668.9,605.4 670.9,606.0 672.9,606.6 674.9,607.3 676.9,607.9 678.9,608.3 680.9,608.5 682.9,608.8 684.9,609.1 686.9,609.4 688.9,609.3 690.9,609.1 692.9,608.8 694.9,608.5 696.9,608.2 698.9,607.8 700.9,606.9 702.9,606.1 704.9,605.3 706.9,603.9 708.9,602.0 710.9,600.2 712.9,597.7 714.9,595.2 716.9,592.8 718.9,590.3 720.9,587.8 722.9,585.4 724.9,584.2 726.9,583.4 728.9,582.6 730.9,581.8 732.9,580.2 734.9,578.7 736.9,577.1 738.9,575.5 740.9,573.5 742.9,571.6 744.9,569.6 746.9,567.5 748.9,565.2 750.9,562.8 752.9,560.5 754.9,557.0 756.9,552.8 758.9,548.7 760.9,544.9 762.9,541.3 764.9,537.7 766.9,533.8 768.9,529.3 770.9,524.8 772.9,518.9 774.9,512.9 776.9,508.5 778.9,504.2 780.9,500.0 782.9,495.8 784.9,494.7 786.9,494.7 788.9,494.7 790.9,493.9 792.9,490.3 794.9,485.9 796.9,480.9 798.9,475.8 800.9,469.2 802.9,462.6 804.9,455.7 806.9,448.6 808.9,441.5 810.9,433.6 812.9,425.1 814.9,414.1 816.9,402.8 818.9,390.7 820.9,370.6 822.9,349.3 824.9,329.2 826.9,312.1 828.9,301.0 830.9,290.6 832.9,282.8 834.9,273.4 836.9,257.4 838.9,242.8 840.9,229.5 842.9,217.8 844.9,207.1 846.9,197.6 848.9,188.6 850.9,177.1 852.9,170.6 854.9,167.8 856.9,163.5 858.9,158.6 860.9,150.7 862.9,142.4 864.9,133.9 866.9,125.7 868.9,120.1 870.9,115.8 872.9,115.8 874.9,115.8 876.9,116.5 878.9,117.8 880.9,120.5 882.9,123.1 884.9,125.3 886.9,127.3 888.9,129.0 890.9,125.9 892.9,123.8 894.9,121.7 896.9,117.9 898.9,113.0 900.9,106.4 902.9,99.3 904.9,92.4 906.9,85.5 908.9,76.3 910.9,69.3 912.9,64.6 914.9,61.7 916.9,59.7 918.9,59.7 L918.9,165.3 916.9,168.0 914.9,172.3 912.9,178.7 910.9,187.1 908.9,193.3 906.9,199.6 904.9,206.1 902.9,212.1 900.9,216.5 898.9,220.1 896.9,222.0 894.9,223.9 892.9,226.7 890.9,228.5 888.9,228.5 886.9,228.5 884.9,226.8 882.9,225.1 880.9,223.3 878.9,221.3 876.9,218.9 874.9,216.5 872.9,218.6 870.9,223.6 868.9,231.1 866.9,238.8 864.9,246.4 862.9,253.5 860.9,257.9 858.9,261.8 856.9,264.4 854.9,270.2 852.9,280.6 850.9,288.7 848.9,297.2 846.9,306.8 844.9,317.4 842.9,329.3 840.9,342.3 838.9,356.6 836.9,365.0 834.9,371.9 832.9,381.0 830.9,390.9 828.9,406.0 826.9,423.6 824.9,442.1 822.9,459.5 820.9,469.9 818.9,479.7 816.9,489.0 814.9,496.2 812.9,502.9 810.9,508.9 808.9,514.9 806.9,520.6 804.9,526.1 802.9,531.6 800.9,535.8 798.9,539.9 796.9,543.5 794.9,546.4 792.9,547.7 790.9,547.7 788.9,547.7 786.9,548.0 784.9,551.4 782.9,554.7 780.9,558.2 778.9,561.7 776.9,566.5 774.9,571.2 772.9,574.7 770.9,578.2 768.9,581.3 766.9,584.0 764.9,586.8 762.9,589.7 760.9,592.8 758.9,595.8 756.9,598.5 754.9,600.2 752.9,601.8 750.9,603.5 748.9,605.1 746.9,606.5 744.9,607.8 742.9,609.2 740.9,610.4 738.9,611.5 736.9,612.5 734.9,613.6 732.9,614.1 730.9,614.7 728.9,615.2 726.9,616.0 724.9,617.6 722.9,619.3 720.9,620.8 718.9,622.4 716.9,623.9 714.9,625.4 712.9,626.5 710.9,627.6 708.9,628.4 706.9,628.9 704.9,629.3 702.9,629.8 700.9,630.0 698.9,630.2 696.9,630.3 694.9,630.5 692.9,630.6 690.9,630.8 688.9,630.8 686.9,630.8 684.9,630.8 682.9,630.6 680.9,630.5 678.9,630.4 676.9,630.2 674.9,630.1 672.9,629.9 670.9,629.5 668.9,629.2 666.9,628.8 664.9,628.5 662.9,628.1 660.9,627.5 658.9,627.0 656.9,626.5 654.9,625.9 652.9,625.3 650.9,624.6 648.9,623.8 646.9,623.0 644.9,622.3 642.9,621.4 640.9,620.3 638.9,619.1 636.9,617.9 634.9,616.7 632.9,615.5 630.9,614.1 628.9,612.7 626.9,611.2 624.9,609.8 622.9,608.4 620.9,606.7 618.9,605.0 616.9,603.4 614.9,601.7 612.9,599.3 610.9,596.7 608.9,594.0 606.9,591.4 604.9,588.8 602.9,586.6 600.9,584.3 598.9,582.4 596.9,580.7 594.9,578.9 592.9,576.7 590.9,574.5 588.9,572.9 586.9,571.5 584.9,570.1 582.9,568.4 580.9,566.6 578.9,565.0 576.9,563.4 574.9,562.0 572.9,561.3 570.9,560.7 568.9,559.0 566.9,556.8 564.9,554.4 562.9,551.7 560.9,549.1 558.9,547.0 556.9,545.2 554.9,543.4 552.9,541.6 550.9,539.8 548.9,538.0 546.9,536.0 544.9,533.9 542.9,531.7 540.9,529.6 538.9,527.4 536.9,525.2 534.9,522.9 532.9,520.1 530.9,517.3 528.9,510.1 526.9,501.6 524.9,492.9 522.9,484.2 520.9,475.5 518.9,466.8 516.9,458.1 514.9,448.7 512.9,439.1 510.9,429.4 508.9,419.8 506.9,410.1 504.9,398.4 502.9,386.1 500.9,373.8 498.9,361.4 496.9,349.3 494.9,337.3 492.9,326.3 490.9,315.4 488.9,303.7 486.9,293.3 484.9,282.9 482.9,274.4 480.9,267.3 478.9,260.9 476.9,254.7 474.9,248.3 472.9,242.0 470.9,236.3 468.9,230.6 466.9,225.3 464.9,220.4 462.9,214.7 460.9,208.2 458.9,201.8 456.9,195.4 454.9,189.0 452.9,182.6 450.9,176.4 448.9,170.8 446.9,165.7 444.9,161.0 442.9,156.5 440.9,152.5 438.9,149.1 436.9,146.8 434.9,145.9 432.9,147.9 430.9,150.4 428.9,153.9 426.9,157.7 424.9,161.1 422.9,164.2 420.9,166.1 418.9,167.9 416.9,169.3 414.9,170.8 412.9,173.2 410.9,176.1 408.9,179.1 406.9,183.0 404.9,186.8 402.9,190.5 400.9,194.4 398.9,194.6 396.9,194.6 394.9,194.6 392.9,194.8 390.9,196.9 388.9,199.0 386.9,200.9 384.9,202.9 382.9,206.9 380.9,211.9 378.9,216.0 376.9,218.0 374.9,218.7 372.9,222.4 370.9,227.4 368.9,232.2 366.9,239.2 364.9,248.9 362.9,253.4 360.9,259.5 358.9,267.0 356.9,275.8 354.9,285.2 352.9,297.4 350.9,304.0 348.9,309.1 346.9,319.4 344.9,326.0 342.9,329.1 340.9,331.0 338.9,331.7 336.9,332.0 334.9,333.5 332.9,335.3 330.9,340.3 328.9,345.7 326.9,352.6 324.9,359.6 322.9,366.9 320.9,374.3 318.9,381.4 316.9,388.4 314.9,395.3 312.9,402.0 310.9,408.6 308.9,416.5 306.9,424.9 304.9,432.6 302.9,438.1 300.9,443.7 298.9,448.2 296.9,452.3 294.9,456.5 292.9,460.5 290.9,463.9 288.9,468.0 286.9,472.3 284.9,478.0 282.9,484.0 280.9,489.9 278.9,495.7 276.9,498.5 274.9,498.5 272.9,498.5 270.9,498.8 268.9,501.2 266.9,501.2 264.9,501.2 262.9,501.3 260.9,506.3 258.9,511.7 256.9,519.6 254.9,527.4 252.9,534.7 250.9,542.5 248.9,551.0 246.9,557.8 244.9,563.1 242.9,571.9 240.9,578.4 238.9,584.1 236.9,589.9 234.9,596.3 232.9,602.7 230.9,607.0 228.9,610.6 226.9,614.2 224.9,616.9 222.9,619.0 220.9,621.1 218.9,623.2 216.9,625.2 214.9,627.2 212.9,628.7 210.9,630.1 208.9,631.5 206.9,632.8 204.9,634.1 202.9,634.7 200.9,635.3 198.9,635.8 196.9,635.9 194.9,635.9 192.9,635.9 190.9,635.9 188.9,635.9 186.9,635.9 184.9,635.9 182.9,635.9 180.9,635.9 178.9,635.9 176.9,635.9 174.9,635.9 172.9,635.9 170.9,635.9 168.9,635.9 166.9,635.9 164.9,635.9 162.9,635.9 160.9,635.9 158.9,635.9 156.9,635.9 154.9,635.9 152.9,635.9 150.9,635.9 148.9,635.9 146.9,635.9 144.9,635.9 142.9,635.9 140.9,635.9 138.9,635.9 136.9,635.9 134.9,635.9 132.9,635.9 130.9,635.9 128.9,635.9 126.9,635.9 124.9,635.9 122.9,635.9 120.9,635.9 118.9,635.9 116.9,635.9 114.9,635.9 Z" fill="#ef7404" fill-opacity="0.075" stroke="none"/>
<path d="M114.9,634.5 150.0,634.2 175.0,633.0 190.0,629.0 197.0,624.0 205.3,616.5 217.8,597.7 224.1,590.2 230.4,575.2 235.4,557.6 240.4,540.0 242.9,535.0 247.0,530.0 252.2,514.5 257.1,499.6 262.1,484.7 267.1,469.7 270.8,454.8 273.3,448.6 279.5,438.7 284.5,430.0 287.5,425.0 293.4,404.5 298.4,379.7 303.4,363.5 307.1,344.9 310.9,327.5 312.0,320.0 317.3,297.0 321.1,279.6 323.6,264.7 327.3,254.8 333.5,248.6 337.2,246.1 341.0,252.3 343.4,262.2 345.9,266.0 348.4,262.2 350.9,256.0 352.5,248.0 354.2,240.0 357.7,222.6 361.3,208.4 365.5,197.8 369.1,189.2 373.6,179.6 376.0,175.9 379.8,177.1 383.5,177.1 385.5,174.0 389.9,159.5 394.9,150.8 399.8,144.6 403.6,135.9 407.3,125.9 411.0,118.5 414.7,114.7 418.5,112.3 422.2,109.8 425.3,111.0 428.4,114.7 432.2,119.7 435.9,125.9 439.6,134.6 443.3,139.6 447.1,138.4 450.8,143.3 454.5,153.3 458.3,162.0 462.4,178.7 466.1,189.9 469.8,201.0 472.9,212.2 476.0,223.4 479.8,234.6 483.5,247.0 487.2,262.0 491.0,272.0 496.7,290.0 504.8,317.5 514.2,370.0 521.7,422.2 527.3,454.6 530.0,470.0 535.0,482.4 539.9,491.1 544.9,494.9 551.1,497.3 556.1,502.3 561.0,509.8 564.8,518.5 568.5,528.4 572.2,537.1 576.0,545.8 580.9,554.5 585.9,563.2 590.9,569.4 595.9,575.0 600.0,578.9 610.0,586.4 620.1,588.9 630.1,594.0 640.1,602.7 650.2,611.5 660.2,619.0 670.2,622.8 680.3,625.3 690.3,627.8 700.3,629.1 710.4,629.7 720.4,629.7 730.4,629.1 740.5,627.8 748.0,625.3 754.3,620.3 761.8,612.8 769.3,605.3 775.6,597.7 781.9,587.7 786.9,577.7 790.6,567.6 794.4,557.6 798.2,550.1 803.2,543.8 810.7,537.5 816.0,533.5 819.8,530.0 823.6,523.1 827.4,506.8 831.1,491.7 834.9,476.7 838.6,461.6 842.4,445.3 846.2,431.5 849.5,425.5 852.4,422.0 856.2,410.8 861.2,399.5 866.2,388.2 870.0,374.4 873.8,369.4 877.5,370.1 885.1,361.9 890.1,351.9 895.1,344.3 898.8,333.1 902.6,318.0 906.4,299.8 910.1,277.2 912.6,265.9 917.0,254.6 920.2,255.9" fill="none" stroke="#df3b12" stroke-width="2.35" stroke-linejoin="round" stroke-linecap="butt"/>
<path d="M114.9,631.4 116.9,631.3 118.9,631.3 120.9,631.2 122.9,631.2 124.9,631.2 126.9,631.1 128.9,631.1 130.9,631.0 132.9,631.0 134.9,631.0 136.9,630.9 138.9,630.9 140.9,630.8 142.9,630.8 144.9,630.8 146.9,630.7 148.9,630.6 150.9,630.4 152.9,630.2 154.9,630.0 156.9,629.8 158.9,629.6 160.9,629.4 162.9,629.2 164.9,629.0 166.9,628.9 168.9,628.7 170.9,628.5 172.9,628.3 174.9,627.4 176.9,626.5 178.9,625.6 180.9,624.7 182.9,623.9 184.9,623.1 186.9,622.2 188.9,620.8 190.9,618.8 192.9,616.8 194.9,614.8 196.9,612.4 198.9,610.0 200.9,607.6 202.9,605.3 204.9,601.8 206.9,598.0 208.9,594.3 210.9,590.7 212.9,587.0 214.9,583.4 216.9,580.3 218.9,577.4 220.9,574.6 222.9,570.7 224.9,565.2 226.9,559.7 228.9,553.6 230.9,545.5 232.9,537.6 234.9,529.7 236.9,521.8 238.9,514.8 240.9,510.3 242.9,507.6 244.9,504.9 246.9,498.5 248.9,491.9 250.9,485.3 252.9,478.7 254.9,472.0 256.9,465.5 258.9,459.0 260.9,452.5 262.9,445.9 264.9,439.4 266.9,430.9 268.9,422.4 270.9,417.0 272.9,413.2 274.9,409.8 276.9,406.3 278.9,402.7 280.9,398.9 282.9,395.2 284.9,391.7 286.9,385.4 288.9,377.9 290.9,370.5 292.9,360.7 294.9,350.1 296.9,340.4 298.9,333.5 300.9,326.6 302.9,316.9 304.9,306.2 306.9,296.4 308.9,286.6 310.9,274.6 312.9,265.4 314.9,256.2 316.9,246.6 318.9,237.0 320.9,224.7 322.9,216.6 324.9,211.0 326.9,208.2 328.9,206.1 330.9,204.0 332.9,202.3 334.9,200.9 336.9,200.9 338.9,200.9 340.9,203.6 342.9,207.1 344.9,215.5 346.9,216.3 348.9,211.1 350.9,200.7 352.9,190.6 354.9,180.2 356.9,171.0 358.9,162.7 360.9,156.8 362.9,151.5 364.9,146.4 366.9,141.4 368.9,136.9 370.9,132.4 372.9,128.8 374.9,127.3 376.9,127.3 378.9,127.3 380.9,127.9 382.9,126.0 384.9,120.2 386.9,113.3 388.9,108.0 390.9,104.3 392.9,100.7 394.9,98.1 396.9,95.4 398.9,91.6 400.9,86.8 402.9,81.4 404.9,75.8 406.9,71.3 408.9,67.1 410.9,64.9 412.9,62.8 414.9,61.5 416.9,60.2 418.9,58.8 420.9,58.1 422.9,58.1 424.9,58.1 426.9,58.9 428.9,61.1 430.9,63.6 432.9,66.4 434.9,69.4 436.9,72.9 438.9,77.1 440.9,82.0 442.9,85.6 444.9,87.8 446.9,87.8 448.9,87.8 450.9,90.2 452.9,93.1 454.9,98.8 456.9,104.3 458.9,109.1 460.9,115.0 462.9,123.5 464.9,131.5 466.9,137.9 468.9,144.2 470.9,150.5 472.9,157.5 474.9,165.1 476.9,172.7 478.9,179.6 480.9,185.8 482.9,192.5 484.9,199.5 486.9,207.6 488.9,216.2 490.9,222.2 492.9,227.7 494.9,234.3 496.9,241.0 498.9,247.7 500.9,254.9 502.9,262.0 504.9,269.2 506.9,276.6 508.9,288.5 510.9,300.3 512.9,312.2 514.9,324.1 516.9,337.0 518.9,351.8 520.9,366.7 522.9,381.6 524.9,395.0 526.9,407.5 528.9,419.9 530.9,432.3 532.9,441.5 534.9,446.9 536.9,452.3 538.9,456.2 540.9,460.1 542.9,462.9 544.9,464.5 546.9,466.2 548.9,467.0 550.9,467.9 552.9,468.7 554.9,470.8 556.9,473.0 558.9,475.6 560.9,479.0 562.9,482.3 564.9,487.3 566.9,492.4 568.9,498.3 570.9,504.0 572.9,509.3 574.9,514.4 576.9,519.5 578.9,524.1 580.9,528.1 582.9,532.1 584.9,536.0 586.9,540.0 588.9,543.3 590.9,546.1 592.9,549.0 594.9,551.5 596.9,554.1 598.9,556.5 600.9,558.6 602.9,560.6 604.9,562.3 606.9,564.1 608.9,565.8 610.9,567.6 612.9,568.8 614.9,569.4 616.9,569.9 618.9,570.5 620.9,571.1 622.9,571.9 624.9,573.1 626.9,574.3 628.9,575.5 630.9,576.7 632.9,578.2 634.9,580.3 636.9,582.4 638.9,584.4 640.9,586.5 642.9,588.6 644.9,590.7 646.9,592.9 648.9,595.0 650.9,597.1 652.9,599.2 654.9,601.1 656.9,603.0 658.9,604.9 660.9,606.8 662.9,608.4 664.9,609.4 666.9,610.4 668.9,611.4 670.9,612.4 672.9,613.3 674.9,614.0 676.9,614.6 678.9,615.3 680.9,616.0 682.9,616.7 684.9,617.4 686.9,618.1 688.9,618.8 690.9,619.5 692.9,620.1 694.9,620.5 696.9,620.9 698.9,621.3 700.9,621.7 702.9,622.0 704.9,622.2 706.9,622.4 708.9,622.5 710.9,622.7 712.9,622.9 714.9,622.9 716.9,622.9 718.9,622.8 720.9,622.6 722.9,622.5 724.9,622.3 726.9,622.1 728.9,621.9 730.9,621.5 732.9,621.1 734.9,620.7 736.9,620.3 738.9,619.8 740.9,618.9 742.9,617.9 744.9,617.0 746.9,615.5 748.9,613.3 750.9,611.2 752.9,609.0 754.9,606.4 756.9,603.8 758.9,601.3 760.9,598.8 762.9,596.3 764.9,593.9 766.9,591.4 768.9,588.6 770.9,585.7 772.9,582.8 774.9,579.4 776.9,575.6 778.9,571.9 780.9,567.7 782.9,563.1 784.9,558.5 786.9,552.2 788.9,546.0 790.9,540.0 792.9,534.5 794.9,530.0 796.9,526.2 798.9,523.4 800.9,520.5 802.9,518.5 804.9,516.7 806.9,514.8 808.9,512.9 810.9,511.3 812.9,509.6 814.9,507.7 816.9,505.7 818.9,502.6 820.9,498.5 822.9,491.0 824.9,481.6 826.9,472.5 828.9,463.6 830.9,455.0 832.9,446.4 834.9,437.5 836.9,428.6 838.9,419.4 840.9,410.5 842.9,402.6 844.9,396.2 846.9,392.3 848.9,389.3 850.9,385.8 852.9,379.5 854.9,373.7 856.9,368.8 858.9,364.0 860.9,359.2 862.9,354.3 864.9,348.5 866.9,340.7 868.9,335.2 870.9,332.4 872.9,331.4 874.9,331.4 876.9,330.3 878.9,328.0 880.9,325.7 882.9,323.4 884.9,319.3 886.9,315.1 888.9,311.2 890.9,308.0 892.9,304.8 894.9,298.7 896.9,292.2 898.9,283.7 900.9,275.1 902.9,264.9 904.9,254.1 906.9,241.2 908.9,229.7 910.9,220.7 912.9,215.3 914.9,209.9 916.9,209.9 918.9,209.9 L918.9,300.3 916.9,304.7 914.9,309.5 912.9,317.5 910.9,327.9 908.9,339.4 906.9,349.0 904.9,358.1 902.9,365.8 900.9,373.2 898.9,379.0 896.9,384.4 894.9,387.3 892.9,390.1 890.9,393.5 888.9,397.3 886.9,400.8 884.9,402.9 882.9,404.9 880.9,406.9 878.9,408.2 876.9,408.2 874.9,408.8 872.9,411.2 870.9,416.1 868.9,422.8 866.9,427.9 864.9,432.2 862.9,436.4 860.9,440.6 858.9,444.8 856.9,449.8 854.9,455.3 852.9,458.3 850.9,460.9 848.9,464.3 846.9,469.8 844.9,476.5 842.9,484.1 840.9,492.0 838.9,499.6 836.9,507.0 834.9,514.2 832.9,521.4 830.9,528.8 828.9,536.3 826.9,544.0 824.9,550.2 822.9,553.4 820.9,556.0 818.9,557.6 816.9,559.1 814.9,560.4 812.9,561.8 810.9,563.2 808.9,564.7 806.9,566.2 804.9,567.8 802.9,570.0 800.9,572.3 798.9,575.3 796.9,578.7 794.9,583.0 792.9,587.6 790.9,592.3 788.9,596.9 786.9,600.3 784.9,603.7 782.9,606.7 780.9,609.3 778.9,611.9 776.9,614.3 774.9,616.2 772.9,618.1 770.9,620.0 768.9,621.5 766.9,623.1 764.9,624.6 762.9,626.1 760.9,627.6 758.9,629.0 756.9,630.4 754.9,631.6 752.9,632.7 750.9,633.7 748.9,634.3 746.9,634.7 744.9,635.1 742.9,635.5 740.9,635.7 738.9,635.8 736.9,635.9 734.9,635.9 732.9,635.9 730.9,635.9 728.9,635.9 726.9,635.9 724.9,635.9 722.9,635.9 720.9,635.9 718.9,635.9 716.9,635.9 714.9,635.9 712.9,635.9 710.9,635.9 708.9,635.9 706.9,635.9 704.9,635.9 702.9,635.9 700.9,635.9 698.9,635.9 696.9,635.9 694.9,635.9 692.9,635.9 690.9,635.8 688.9,635.6 686.9,635.4 684.9,635.1 682.9,634.8 680.9,634.5 678.9,634.2 676.9,633.9 674.9,633.6 672.9,633.3 670.9,633.0 668.9,632.6 666.9,632.2 664.9,631.7 662.9,631.2 660.9,630.7 658.9,630.1 656.9,629.3 654.9,628.2 652.9,627.1 650.9,626.0 648.9,624.9 646.9,623.6 644.9,622.3 642.9,620.9 640.9,619.5 638.9,618.2 636.9,616.8 634.9,615.4 632.9,614.0 630.9,612.6 628.9,611.1 626.9,610.1 624.9,609.2 622.9,608.4 620.9,607.5 618.9,606.7 616.9,606.1 614.9,605.7 612.9,605.3 610.9,604.9 608.9,604.5 606.9,603.6 604.9,602.3 602.9,601.1 600.9,599.8 598.9,598.5 596.9,597.1 594.9,595.5 592.9,593.7 590.9,591.8 588.9,589.8 586.9,587.7 584.9,585.6 582.9,583.0 580.9,579.9 578.9,576.9 576.9,573.8 574.9,570.7 572.9,567.0 570.9,563.0 568.9,558.8 566.9,554.6 564.9,550.0 562.9,545.2 560.9,541.0 558.9,537.0 556.9,534.2 554.9,531.4 552.9,529.2 550.9,527.4 548.9,525.7 546.9,525.0 544.9,524.3 542.9,523.6 540.9,522.2 538.9,520.8 536.9,518.5 534.9,515.3 532.9,512.0 530.9,507.5 528.9,502.9 526.9,495.1 524.9,484.6 522.9,474.0 520.9,463.3 518.9,451.7 516.9,438.7 514.9,425.8 512.9,412.8 510.9,401.4 508.9,391.0 506.9,380.5 504.9,370.0 502.9,359.5 500.9,352.9 498.9,346.5 496.9,340.1 494.9,333.7 492.9,327.7 490.9,321.7 488.9,315.8 486.9,310.8 484.9,305.4 482.9,297.7 480.9,290.4 478.9,284.1 476.9,278.1 474.9,272.5 472.9,266.2 470.9,259.3 468.9,252.5 466.9,246.1 464.9,240.4 462.9,234.7 460.9,228.9 458.9,221.7 456.9,213.9 454.9,208.5 452.9,204.2 450.9,199.2 448.9,194.0 446.9,191.3 444.9,189.7 442.9,189.7 440.9,189.7 438.9,187.1 436.9,183.9 434.9,179.4 432.9,175.5 430.9,172.3 428.9,169.6 426.9,167.1 424.9,164.7 422.9,162.8 420.9,163.9 418.9,165.1 416.9,166.3 414.9,168.2 412.9,170.3 410.9,174.1 408.9,178.2 406.9,183.3 404.9,188.2 402.9,192.6 400.9,196.1 398.9,198.5 396.9,200.9 394.9,204.2 392.9,207.5 390.9,212.3 388.9,218.6 386.9,223.9 384.9,226.0 382.9,226.0 380.9,226.0 378.9,226.0 376.9,226.4 374.9,229.8 372.9,233.8 370.9,237.9 368.9,242.5 366.9,247.1 364.9,251.9 362.9,257.2 360.9,264.7 358.9,273.0 356.9,282.4 354.9,291.5 352.9,300.9 350.9,305.6 348.9,308.9 346.9,308.9 344.9,308.9 342.9,308.9 340.9,304.8 338.9,297.2 336.9,294.1 334.9,294.4 332.9,296.3 330.9,298.2 328.9,300.8 326.9,305.8 324.9,313.1 322.9,324.1 320.9,332.7 318.9,341.3 316.9,349.4 314.9,357.6 312.9,368.4 310.9,377.0 308.9,385.6 306.9,395.1 304.9,403.6 302.9,409.7 300.9,415.8 298.9,424.2 296.9,433.5 294.9,442.0 292.9,448.5 290.9,454.9 288.9,460.3 286.9,463.4 284.9,466.6 282.9,469.8 280.9,473.0 278.9,475.9 276.9,478.9 274.9,482.1 272.9,486.7 270.9,494.0 268.9,501.2 266.9,506.7 264.9,512.1 262.9,517.6 260.9,523.0 258.9,528.4 256.9,533.9 254.9,539.4 252.9,544.8 250.9,550.2 248.9,555.3 246.9,557.5 244.9,559.7 242.9,563.2 240.9,568.8 238.9,575.0 236.9,581.1 234.9,587.3 232.9,593.3 230.9,597.9 228.9,601.9 226.9,605.9 224.9,608.6 222.9,610.6 220.9,612.5 218.9,614.7 216.9,617.1 214.9,619.5 212.9,621.8 210.9,624.1 208.9,626.4 206.9,628.4 204.9,629.7 202.9,631.0 200.9,632.2 198.9,633.3 196.9,634.2 194.9,635.1 192.9,635.9 190.9,635.9 188.9,635.9 186.9,635.9 184.9,635.9 182.9,635.9 180.9,635.9 178.9,635.9 176.9,635.9 174.9,635.9 172.9,635.9 170.9,635.9 168.9,635.9 166.9,635.9 164.9,635.9 162.9,635.9 160.9,635.9 158.9,635.9 156.9,635.9 154.9,635.9 152.9,635.9 150.9,635.9 148.9,635.9 146.9,635.9 144.9,635.9 142.9,635.9 140.9,635.9 138.9,635.9 136.9,635.9 134.9,635.9 132.9,635.9 130.9,635.9 128.9,635.9 126.9,635.9 124.9,635.9 122.9,635.9 120.9,635.9 118.9,635.9 116.9,635.9 114.9,635.9 Z" fill="#df3b12" fill-opacity="0.075" stroke="none"/>
<path d="M114.9,634.0 152.6,633.9 175.2,632.2 190.3,627.8 202.8,619.3 210.3,616.5 219.1,605.3 225.4,595.2 234.2,591.5 240.4,583.9 245.4,571.4 248.0,558.8 250.5,546.3 254.4,530.0 259.6,515.7 264.6,504.6 270.8,490.9 275.8,477.2 278.3,462.3 280.7,447.4 282.6,435.0 284.6,425.0 289.7,407.0 292.2,405.8 297.2,412.0 299.7,415.7 303.4,412.0 305.9,394.6 308.4,375.9 310.9,357.3 313.3,338.6 315.8,323.7 317.1,320.0 322.3,302.0 327.3,287.1 331.0,274.7 334.7,262.2 338.5,254.8 342.2,258.5 344.7,261.0 348.4,261.0 353.4,259.1 355.9,252.3 357.7,239.9 359.6,227.4 362.1,217.5 364.1,208.4 366.1,197.0 368.3,180.0 370.0,169.4 373.7,144.6 377.5,130.9 381.2,129.7 384.9,124.7 388.6,114.7 391.1,104.8 393.6,97.3 396.7,93.0 399.8,97.3 403.6,102.3 407.3,104.2 409.8,103.6 412.3,109.8 416.0,114.7 419.7,116.0 423.4,117.2 427.2,119.7 430.9,123.4 434.6,129.7 438.4,139.6 442.1,149.6 445.8,155.8 449.6,160.7 453.3,167.0 457.4,178.7 463.6,191.1 469.8,203.5 474.8,209.7 478.5,217.2 482.3,225.9 486.0,237.1 488.5,252.0 490.5,265.0 494.5,290.0 499.2,317.5 506.5,370.0 515.5,422.2 522.3,454.6 527.5,472.0 532.5,480.0 537.4,488.6 543.6,498.6 549.9,507.3 556.1,517.2 562.3,527.2 568.5,535.9 574.7,543.3 580.9,548.3 587.2,554.5 593.4,562.0 599.6,569.4 607.5,580.2 616.3,590.2 625.1,595.2 637.6,600.2 647.7,604.0 657.7,610.3 667.7,615.3 677.8,620.3 687.8,624.1 697.8,626.6 707.9,628.5 720.4,629.7 732.9,630.3 745.5,631.0 763.1,631.0 770.6,629.1 778.1,626.6 785.6,621.6 793.2,616.5 799.4,611.5 804.4,604.0 809.5,592.7 813.2,583.9 817.0,575.2 822.0,567.6 833.0,550.0 845.5,530.0 849.9,514.3 854.9,496.7 858.7,479.2 862.5,466.6 867.5,454.1 872.5,449.1 882.5,446.6 887.6,442.8 892.6,436.5 897.6,426.5 902.6,414.6 907.6,410.2 912.6,414.6 916.4,415.8 920.2,413.3" fill="none" stroke="#1ca434" stroke-width="2.35" stroke-linejoin="round" stroke-linecap="butt"/>
<path d="M114.9,630.3 116.9,630.3 118.9,630.2 120.9,630.2 122.9,630.2 124.9,630.2 126.9,630.2 128.9,630.2 130.9,630.2 132.9,630.2 134.9,630.2 136.9,630.1 138.9,630.1 140.9,630.1 142.9,630.1 144.9,630.1 146.9,630.1 148.9,630.1 150.9,630.0 152.9,629.7 154.9,629.4 156.9,629.1 158.9,628.8 160.9,628.6 162.9,628.3 164.9,628.0 166.9,627.7 168.9,627.5 170.9,627.2 172.9,626.9 174.9,626.1 176.9,625.1 178.9,624.2 180.9,623.3 182.9,622.4 184.9,621.5 186.9,620.6 188.9,619.4 190.9,617.5 192.9,615.6 194.9,613.8 196.9,611.9 198.9,610.1 200.9,608.4 202.9,607.4 204.9,606.5 206.9,605.5 208.9,603.9 210.9,600.7 212.9,597.5 214.9,594.3 216.9,591.2 218.9,587.4 220.9,583.6 222.9,579.8 224.9,578.1 226.9,577.1 228.9,576.1 230.9,575.1 232.9,573.5 234.9,570.6 236.9,567.8 238.9,564.2 240.9,558.4 242.9,552.7 244.9,543.0 246.9,531.9 248.9,521.0 250.9,511.7 252.9,503.3 254.9,497.2 256.9,491.1 258.9,485.8 260.9,480.9 262.9,476.1 264.9,471.2 266.9,466.4 268.9,461.5 270.9,455.6 272.9,449.6 274.9,439.8 276.9,426.7 278.9,413.3 280.9,399.7 282.9,389.4 284.9,381.9 286.9,374.3 288.9,370.7 290.9,370.7 292.9,370.7 294.9,370.9 296.9,373.6 298.9,376.2 300.9,377.2 302.9,365.5 304.9,350.0 306.9,334.1 308.9,318.3 310.9,301.7 312.9,288.3 314.9,279.3 316.9,272.1 318.9,264.8 320.9,257.8 322.9,251.5 324.9,245.2 326.9,238.3 328.9,231.2 330.9,224.1 332.9,217.2 334.9,213.1 336.9,210.3 338.9,210.3 340.9,210.3 342.9,212.4 344.9,214.5 346.9,216.2 348.9,215.4 350.9,214.6 352.9,210.1 354.9,200.0 356.9,185.9 358.9,175.6 360.9,166.8 362.9,156.3 364.9,142.6 366.9,127.4 368.9,113.9 370.9,99.8 372.9,89.7 374.9,82.1 376.9,79.4 378.9,78.7 380.9,76.2 382.9,73.4 384.9,67.8 386.9,61.7 388.9,53.4 390.9,47.0 392.9,42.9 394.9,40.6 396.9,40.6 398.9,40.6 400.9,43.5 402.9,46.3 404.9,49.0 406.9,50.7 408.9,51.6 410.9,51.6 412.9,54.2 414.9,58.7 416.9,61.4 418.9,63.3 420.9,64.0 422.9,64.7 424.9,65.4 426.9,66.6 428.9,68.0 430.9,70.0 432.9,72.0 434.9,75.6 436.9,79.4 438.9,84.9 440.9,90.4 442.9,96.1 444.9,100.8 446.9,104.4 448.9,107.4 450.9,110.1 452.9,113.4 454.9,116.9 456.9,122.4 458.9,128.4 460.9,133.1 462.9,137.3 464.9,141.5 466.9,145.6 468.9,149.8 470.9,154.0 472.9,157.4 474.9,160.0 476.9,162.7 478.9,166.9 480.9,171.3 482.9,176.1 484.9,181.4 486.9,187.7 488.9,196.9 490.9,209.7 492.9,223.2 494.9,236.4 496.9,249.5 498.9,261.8 500.9,274.2 502.9,289.0 504.9,304.3 506.9,319.5 508.9,334.3 510.9,346.6 512.9,359.0 514.9,371.4 516.9,383.8 518.9,394.7 520.9,405.0 522.9,415.2 524.9,424.6 526.9,431.9 528.9,439.1 530.9,443.7 532.9,447.2 534.9,450.7 536.9,454.5 538.9,458.4 540.9,462.0 542.9,465.5 544.9,469.0 546.9,472.2 548.9,475.2 550.9,478.2 552.9,481.5 554.9,485.0 556.9,488.5 558.9,492.1 560.9,495.6 562.9,499.2 564.9,502.6 566.9,505.7 568.9,508.8 570.9,511.9 572.9,514.5 574.9,517.2 576.9,519.7 578.9,521.5 580.9,523.3 582.9,525.1 584.9,527.4 586.9,529.6 588.9,531.8 590.9,534.4 592.9,537.1 594.9,539.9 596.9,542.6 598.9,545.3 600.9,548.0 602.9,551.0 604.9,554.1 606.9,557.2 608.9,560.4 610.9,563.2 612.9,565.8 614.9,568.4 616.9,571.1 618.9,573.4 620.9,574.7 622.9,576.0 624.9,577.4 626.9,578.7 628.9,579.7 630.9,580.6 632.9,581.6 634.9,582.5 636.9,583.5 638.9,584.5 640.9,585.4 642.9,586.3 644.9,587.2 646.9,588.1 648.9,589.0 650.9,590.3 652.9,591.8 654.9,593.3 656.9,594.9 658.9,596.4 660.9,597.8 662.9,599.0 664.9,600.3 666.9,601.5 668.9,602.8 670.9,604.1 672.9,605.3 674.9,606.6 676.9,607.9 678.9,609.2 680.9,610.3 682.9,611.3 684.9,612.3 686.9,613.3 688.9,614.4 690.9,615.2 692.9,615.9 694.9,616.6 696.9,617.3 698.9,618.0 700.9,618.6 702.9,619.1 704.9,619.7 706.9,620.2 708.9,620.8 710.9,621.2 712.9,621.5 714.9,621.8 716.9,622.1 718.9,622.4 720.9,622.6 722.9,622.9 724.9,623.0 726.9,623.2 728.9,623.3 730.9,623.5 732.9,623.6 734.9,623.8 736.9,624.0 738.9,624.1 740.9,624.3 742.9,624.5 744.9,624.7 746.9,624.8 748.9,624.9 750.9,624.9 752.9,624.9 754.9,624.9 756.9,624.9 758.9,624.9 760.9,624.9 762.9,624.2 764.9,623.4 766.9,622.6 768.9,621.8 770.9,620.8 772.9,619.8 774.9,618.9 776.9,617.6 778.9,615.7 780.9,613.9 782.9,612.1 784.9,610.3 786.9,608.6 788.9,606.8 790.9,605.1 792.9,603.1 794.9,601.1 796.9,599.0 798.9,595.8 800.9,592.1 802.9,588.0 804.9,582.7 806.9,577.5 808.9,572.0 810.9,566.4 812.9,561.1 814.9,555.9 816.9,552.3 818.9,548.8 820.9,545.3 822.9,541.6 824.9,538.0 826.9,534.4 828.9,530.8 830.9,527.2 832.9,523.6 834.9,520.1 836.9,516.5 838.9,512.9 840.9,509.4 842.9,505.8 844.9,499.2 846.9,491.4 848.9,483.6 850.9,475.9 852.9,468.2 854.9,458.1 856.9,448.4 858.9,441.2 860.9,434.3 862.9,428.9 864.9,423.5 866.9,420.4 868.9,418.2 870.9,416.4 872.9,415.9 874.9,415.3 876.9,414.8 878.9,414.2 880.9,413.5 882.9,411.9 884.9,410.3 886.9,408.0 888.9,405.2 890.9,402.3 892.9,398.0 894.9,393.7 896.9,388.9 898.9,383.8 900.9,379.1 902.9,377.3 904.9,375.4 906.9,375.4 908.9,375.4 910.9,375.9 912.9,377.8 914.9,379.5 916.9,378.9 918.9,378.9 L918.9,450.6 916.9,450.6 914.9,450.6 912.9,450.5 910.9,449.9 908.9,448.4 906.9,447.9 904.9,449.5 902.9,453.5 900.9,457.9 898.9,462.1 896.9,465.8 894.9,469.5 892.9,472.0 890.9,474.4 888.9,476.4 886.9,477.7 884.9,479.1 882.9,479.8 880.9,480.2 878.9,480.7 876.9,481.1 874.9,481.6 872.9,483.2 870.9,485.0 868.9,487.7 866.9,492.3 864.9,496.9 862.9,502.6 860.9,508.7 858.9,516.9 856.9,525.2 854.9,531.6 852.9,538.0 850.9,544.4 848.9,550.8 846.9,556.1 844.9,558.9 842.9,561.8 840.9,564.6 838.9,567.4 836.9,570.3 834.9,573.1 832.9,575.9 830.9,578.7 828.9,581.5 826.9,584.3 824.9,587.0 822.9,589.7 820.9,592.3 818.9,595.0 816.9,598.9 814.9,602.8 812.9,606.8 810.9,610.6 808.9,614.2 806.9,617.8 804.9,620.4 802.9,622.7 800.9,624.8 798.9,626.0 796.9,627.2 794.9,628.3 792.9,629.3 790.9,630.2 788.9,631.1 786.9,632.0 784.9,632.9 782.9,633.8 780.9,634.6 778.9,635.1 776.9,635.5 774.9,635.9 772.9,635.9 770.9,635.9 768.9,635.9 766.9,635.9 764.9,635.9 762.9,635.9 760.9,635.9 758.9,635.9 756.9,635.9 754.9,635.9 752.9,635.9 750.9,635.9 748.9,635.9 746.9,635.9 744.9,635.9 742.9,635.9 740.9,635.9 738.9,635.9 736.9,635.9 734.9,635.9 732.9,635.9 730.9,635.9 728.9,635.9 726.9,635.9 724.9,635.9 722.9,635.9 720.9,635.9 718.9,635.9 716.9,635.9 714.9,635.9 712.9,635.9 710.9,635.9 708.9,635.9 706.9,635.9 704.9,635.8 702.9,635.6 700.9,635.4 698.9,635.2 696.9,635.0 694.9,634.8 692.9,634.5 690.9,634.2 688.9,633.9 686.9,633.5 684.9,633.1 682.9,632.7 680.9,632.2 678.9,631.7 676.9,631.1 674.9,630.5 672.9,629.9 670.9,629.1 668.9,628.4 666.9,627.7 664.9,627.0 662.9,626.3 660.9,625.5 658.9,624.8 656.9,624.0 654.9,623.2 652.9,622.2 650.9,621.2 648.9,620.2 646.9,619.2 644.9,618.4 642.9,617.8 640.9,617.2 638.9,616.6 636.9,616.0 634.9,615.4 632.9,614.7 630.9,614.1 628.9,613.4 626.9,612.8 624.9,612.1 622.9,611.5 620.9,610.5 618.9,609.6 616.9,608.7 614.9,607.7 612.9,606.1 610.9,604.2 608.9,602.3 606.9,600.4 604.9,598.4 602.9,596.0 600.9,593.7 598.9,591.4 596.9,589.1 594.9,587.1 592.9,585.0 590.9,582.9 588.9,580.8 586.9,578.7 584.9,576.6 582.9,574.9 580.9,573.2 578.9,571.5 576.9,570.0 574.9,568.6 572.9,567.2 570.9,565.1 568.9,563.0 566.9,560.9 564.9,558.5 562.9,556.0 560.9,553.5 558.9,550.7 556.9,547.8 554.9,544.9 552.9,542.0 550.9,539.2 548.9,536.3 546.9,533.6 544.9,531.1 542.9,528.6 540.9,525.9 538.9,523.0 536.9,520.1 534.9,517.1 532.9,513.9 530.9,510.7 528.9,507.7 526.9,504.8 524.9,500.9 522.9,494.7 520.9,488.6 518.9,480.6 516.9,471.8 514.9,463.0 512.9,453.6 510.9,442.8 508.9,432.0 506.9,421.2 504.9,410.4 502.9,397.4 500.9,384.0 498.9,370.4 496.9,357.3 494.9,346.3 492.9,335.2 490.9,323.6 488.9,311.8 486.9,299.5 484.9,288.1 482.9,279.8 480.9,274.1 478.9,269.3 476.9,265.0 474.9,261.0 472.9,257.2 470.9,254.7 468.9,252.4 466.9,249.4 464.9,245.6 462.9,241.8 460.9,237.9 458.9,234.1 456.9,230.3 454.9,226.1 452.9,220.7 450.9,215.7 448.9,212.4 446.9,209.5 444.9,207.0 442.9,204.2 440.9,201.0 438.9,196.7 436.9,191.5 434.9,186.5 432.9,181.5 430.9,178.0 428.9,174.8 426.9,172.8 424.9,171.0 422.9,169.8 420.9,168.7 418.9,168.1 416.9,167.4 414.9,166.7 412.9,165.1 410.9,162.5 408.9,158.4 406.9,156.2 404.9,156.2 402.9,155.2 400.9,153.7 398.9,151.2 396.9,148.6 394.9,151.8 392.9,157.7 390.9,165.3 388.9,170.8 386.9,176.0 384.9,178.6 382.9,180.9 380.9,181.5 378.9,184.0 376.9,190.9 374.9,200.1 372.9,212.9 370.9,225.2 368.9,239.0 366.9,251.4 364.9,260.9 362.9,268.9 360.9,278.1 358.9,290.8 356.9,299.9 354.9,304.0 352.9,304.7 350.9,305.4 348.9,305.6 346.9,305.6 344.9,305.6 342.9,305.6 340.9,303.9 338.9,302.7 336.9,306.4 334.9,312.5 332.9,318.9 330.9,325.2 328.9,331.4 326.9,337.0 324.9,342.7 322.9,348.9 320.9,355.4 318.9,361.8 316.9,369.8 314.9,381.7 312.9,396.3 310.9,410.2 308.9,424.2 306.9,437.7 304.9,447.8 302.9,449.7 300.9,449.7 298.9,449.7 296.9,449.7 294.9,447.0 292.9,444.7 290.9,445.3 288.9,451.9 286.9,458.4 284.9,467.3 282.9,478.9 280.9,490.4 278.9,501.5 276.9,509.7 274.9,514.7 272.9,519.7 270.9,523.8 268.9,527.8 266.9,531.8 264.9,535.8 262.9,539.8 260.9,544.1 258.9,549.1 256.9,554.0 254.9,560.8 252.9,568.2 250.9,576.7 248.9,585.3 246.9,592.6 244.9,596.9 242.9,601.1 240.9,603.7 238.9,605.8 236.9,607.8 234.9,609.0 232.9,609.7 230.9,610.4 228.9,611.0 226.9,612.2 224.9,614.8 222.9,617.4 220.9,619.9 218.9,621.9 216.9,623.8 214.9,625.7 212.9,627.6 210.9,628.5 208.9,629.1 206.9,629.6 204.9,630.1 202.9,631.0 200.9,632.0 198.9,632.9 196.9,633.7 194.9,634.6 192.9,635.3 190.9,635.8 188.9,635.9 186.9,635.9 184.9,635.9 182.9,635.9 180.9,635.9 178.9,635.9 176.9,635.9 174.9,635.9 172.9,635.9 170.9,635.9 168.9,635.9 166.9,635.9 164.9,635.9 162.9,635.9 160.9,635.9 158.9,635.9 156.9,635.9 154.9,635.9 152.9,635.9 150.9,635.9 148.9,635.9 146.9,635.9 144.9,635.9 142.9,635.9 140.9,635.9 138.9,635.9 136.9,635.9 134.9,635.9 132.9,635.9 130.9,635.9 128.9,635.9 126.9,635.9 124.9,635.9 122.9,635.9 120.9,635.9 118.9,635.9 116.9,635.9 114.9,635.9 Z" fill="#1ca434" fill-opacity="0.075" stroke="none"/>
</g>
<g clip-path="url(#cr)">
<path d="M945.0,634.3 990.0,633.5 1010.0,631.0 1030.0,622.0 1047.6,607.8 1058.0,585.0 1064.0,568.0 1069.0,555.1 1073.0,540.0 1076.7,530.0 1082.3,514.5 1087.3,499.6 1092.3,489.6 1097.2,480.9 1103.4,474.7 1107.2,462.3 1109.7,452.3 1112.2,446.1 1114.6,441.2 1117.1,434.9 1119.5,425.0 1122.3,412.0 1127.3,412.0 1131.0,402.0 1135.0,385.0 1138.5,369.7 1142.2,344.9 1144.7,330.0 1145.7,320.0 1149.9,302.0 1153.6,277.2 1157.3,254.8 1161.1,233.6 1164.8,215.0 1168.0,210.5 1172.4,208.2 1178.6,213.2 1182.0,218.0 1186.0,220.0 1189.5,218.0 1191.1,215.0 1197.3,197.0 1202.3,179.6 1206.0,163.4 1209.7,147.3 1215.0,138.3 1219.9,147.0 1224.9,150.7 1229.9,152.0 1234.9,154.5 1239.8,147.0 1244.8,139.6 1249.8,129.6 1252.3,128.4 1257.2,133.3 1262.2,140.8 1267.2,152.0 1272.2,154.5 1277.1,155.7 1280.9,163.2 1283.6,172.4 1287.4,187.3 1291.1,201.0 1294.8,213.4 1299.8,225.9 1304.8,233.3 1311.0,239.6 1314.7,245.8 1317.2,254.5 1319.7,265.0 1338.5,370.0 1343.0,407.0 1350.0,436.0 1356.0,456.0 1359.9,470.0 1363.7,479.9 1368.6,492.4 1373.6,507.3 1379.8,513.5 1386.0,519.7 1392.3,524.7 1399.7,532.2 1405.9,538.4 1412.2,542.1 1418.4,548.3 1424.6,550.8 1429.6,548.3 1435.8,543.3 1442.0,538.4 1448.2,532.2 1453.2,523.5 1456.9,517.2 1462.6,511.5 1468.8,499.0 1477.6,492.1 1485.2,496.4 1492.7,499.0 1497.7,495.2 1502.7,490.2 1507.7,485.2 1512.7,488.9 1516.5,496.4 1520.3,499.6 1527.8,495.8 1536.6,496.4 1544.1,500.2 1549.1,505.2 1554.1,511.5 1560.4,514.0 1566.7,515.3 1571.7,515.3 1578.0,510.2 1585.5,512.1 1593.0,511.5 1600.5,502.7 1608.1,497.7 1615.6,491.4 1623.1,486.4 1629.4,491.4 1635.7,499.0 1643.2,508.4 1650.7,514.0 1658.2,519.0 1665.1,521.7 1674.7,514.5 1684.4,506.4 1694.0,500.0 1704.4,492.6 1716.0,486.8 1721.0,482.7 1726.0,469.4 1732.6,449.5 1739.2,429.7 1744.2,413.1 1749.2,398.2" fill="none" stroke="#a056cf" stroke-width="2.35" stroke-linejoin="round" stroke-linecap="butt"/>
<path d="M945.0,630.9 947.0,630.8 949.0,630.7 951.0,630.6 953.0,630.5 955.0,630.5 957.0,630.4 959.0,630.3 961.0,630.2 963.0,630.2 965.0,630.1 967.0,630.0 969.0,629.9 971.0,629.9 973.0,629.8 975.0,629.7 977.0,629.7 979.0,629.6 981.0,629.5 983.0,629.4 985.0,629.4 987.0,629.3 989.0,629.0 991.0,628.6 993.0,628.1 995.0,627.7 997.0,627.2 999.0,626.8 1001.0,626.4 1003.0,625.9 1005.0,625.5 1007.0,625.1 1009.0,624.2 1011.0,622.8 1013.0,621.5 1015.0,620.1 1017.0,618.8 1019.0,617.6 1021.0,616.3 1023.0,615.1 1025.0,613.8 1027.0,612.6 1029.0,611.0 1031.0,608.9 1033.0,606.8 1035.0,604.7 1037.0,602.7 1039.0,600.6 1041.0,598.6 1043.0,596.6 1045.0,594.6 1047.0,590.4 1049.0,585.1 1051.0,579.9 1053.0,574.7 1055.0,569.6 1057.0,563.8 1059.0,557.2 1061.0,550.8 1063.0,544.6 1065.0,538.7 1067.0,532.9 1069.0,524.5 1071.0,516.1 1073.0,510.0 1075.0,504.0 1077.0,497.9 1079.0,491.8 1081.0,485.5 1083.0,479.0 1085.0,472.5 1087.0,467.7 1089.0,463.4 1091.0,459.2 1093.0,455.3 1095.0,451.4 1097.0,449.0 1099.0,446.9 1101.0,444.7 1103.0,438.7 1105.0,431.7 1107.0,423.2 1109.0,416.6 1111.0,411.6 1113.0,407.0 1115.0,401.6 1117.0,393.0 1119.0,383.4 1121.0,376.6 1123.0,376.6 1125.0,376.6 1127.0,371.9 1129.0,366.1 1131.0,357.1 1133.0,348.0 1135.0,338.7 1137.0,328.3 1139.0,314.0 1141.0,300.4 1143.0,286.6 1145.0,273.0 1147.0,264.0 1149.0,252.2 1151.0,238.1 1153.0,224.9 1155.0,212.1 1157.0,200.2 1159.0,188.4 1161.0,177.8 1163.0,167.8 1165.0,164.8 1167.0,162.8 1169.0,161.7 1171.0,161.3 1173.0,161.3 1175.0,161.3 1177.0,163.0 1179.0,164.7 1181.0,166.6 1183.0,169.6 1185.0,171.7 1187.0,171.5 1189.0,168.3 1191.0,162.4 1193.0,156.3 1195.0,150.2 1197.0,143.1 1199.0,135.8 1201.0,127.9 1203.0,118.7 1205.0,109.6 1207.0,100.5 1209.0,94.8 1211.0,91.3 1213.0,87.7 1215.0,87.7 1217.0,87.7 1219.0,91.2 1221.0,95.0 1223.0,97.5 1225.0,99.1 1227.0,100.6 1229.0,101.2 1231.0,101.7 1233.0,102.5 1235.0,101.3 1237.0,98.1 1239.0,94.9 1241.0,91.8 1243.0,88.7 1245.0,84.5 1247.0,80.3 1249.0,77.9 1251.0,77.9 1253.0,77.9 1255.0,78.0 1257.0,80.0 1259.0,82.1 1261.0,85.1 1263.0,88.3 1265.0,92.0 1267.0,96.7 1269.0,101.4 1271.0,102.9 1273.0,103.9 1275.0,104.8 1277.0,105.3 1279.0,105.8 1281.0,109.7 1283.0,113.9 1285.0,121.0 1287.0,128.9 1289.0,137.1 1291.0,145.0 1293.0,152.7 1295.0,159.8 1297.0,166.7 1299.0,172.0 1301.0,177.2 1303.0,181.2 1305.0,184.4 1307.0,187.4 1309.0,189.5 1311.0,191.7 1313.0,193.8 1315.0,197.3 1317.0,201.3 1319.0,208.6 1321.0,217.3 1323.0,228.0 1325.0,239.8 1327.0,251.5 1329.0,263.4 1331.0,275.2 1333.0,287.0 1335.0,298.8 1337.0,310.7 1339.0,322.6 1341.0,335.7 1343.0,353.3 1345.0,370.8 1347.0,379.9 1349.0,388.8 1351.0,397.7 1353.0,405.8 1355.0,413.0 1357.0,420.2 1359.0,427.6 1361.0,435.4 1363.0,442.1 1365.0,447.7 1367.0,453.3 1369.0,458.9 1371.0,464.6 1373.0,471.1 1375.0,477.6 1377.0,481.2 1379.0,483.4 1381.0,485.6 1383.0,487.8 1385.0,490.0 1387.0,492.2 1389.0,494.2 1391.0,496.0 1393.0,497.7 1395.0,499.6 1397.0,501.9 1399.0,504.1 1401.0,506.4 1403.0,508.6 1405.0,510.8 1407.0,513.0 1409.0,514.8 1411.0,516.1 1413.0,517.4 1415.0,519.1 1417.0,521.3 1419.0,523.5 1421.0,525.4 1423.0,526.3 1425.0,526.6 1427.0,525.5 1429.0,523.9 1431.0,522.1 1433.0,520.3 1435.0,518.5 1437.0,516.8 1439.0,515.0 1441.0,513.0 1443.0,510.8 1445.0,508.6 1447.0,505.8 1449.0,501.9 1451.0,498.1 1453.0,494.3 1455.0,490.6 1457.0,488.4 1459.0,486.2 1461.0,483.6 1463.0,479.2 1465.0,474.8 1467.0,470.5 1469.0,468.8 1471.0,467.1 1473.0,465.4 1475.0,463.7 1477.0,463.7 1479.0,463.7 1481.0,464.0 1483.0,465.2 1485.0,466.4 1487.0,467.7 1489.0,468.5 1491.0,469.3 1493.0,468.8 1495.0,467.1 1497.0,465.2 1499.0,463.0 1501.0,460.8 1503.0,458.6 1505.0,456.4 1507.0,456.4 1509.0,456.4 1511.0,456.6 1513.0,458.2 1515.0,460.2 1517.0,464.5 1519.0,468.2 1521.0,469.9 1523.0,468.8 1525.0,467.6 1527.0,467.3 1529.0,467.3 1531.0,467.3 1533.0,467.4 1535.0,467.6 1537.0,467.7 1539.0,468.0 1541.0,469.1 1543.0,470.2 1545.0,471.3 1547.0,472.9 1549.0,475.1 1551.0,477.3 1553.0,480.0 1555.0,482.8 1557.0,484.7 1559.0,485.6 1561.0,486.5 1563.0,487.2 1565.0,487.7 1567.0,488.2 1569.0,488.6 1571.0,487.4 1573.0,485.7 1575.0,483.9 1577.0,483.2 1579.0,483.2 1581.0,483.2 1583.0,483.8 1585.0,484.3 1587.0,484.7 1589.0,484.6 1591.0,484.4 1593.0,481.9 1595.0,479.3 1597.0,476.7 1599.0,474.4 1601.0,473.0 1603.0,471.5 1605.0,470.1 1607.0,468.5 1609.0,466.6 1611.0,464.8 1613.0,463.0 1615.0,461.4 1617.0,459.9 1619.0,458.5 1621.0,457.0 1623.0,457.0 1625.0,457.0 1627.0,458.5 1629.0,460.3 1631.0,462.0 1633.0,464.4 1635.0,467.0 1637.0,469.7 1639.0,472.4 1641.0,475.1 1643.0,477.9 1645.0,480.6 1647.0,482.4 1649.0,484.0 1651.0,485.7 1653.0,487.3 1655.0,488.8 1657.0,490.2 1659.0,491.7 1661.0,492.9 1663.0,493.8 1665.0,494.1 1667.0,492.4 1669.0,490.8 1671.0,489.1 1673.0,487.4 1675.0,485.6 1677.0,483.8 1679.0,481.9 1681.0,480.1 1683.0,478.4 1685.0,476.9 1687.0,475.5 1689.0,474.0 1691.0,472.5 1693.0,471.0 1695.0,469.5 1697.0,467.9 1699.0,466.4 1701.0,464.8 1703.0,463.4 1705.0,462.3 1707.0,461.2 1709.0,460.1 1711.0,459.0 1713.0,457.9 1715.0,456.5 1717.0,454.7 1719.0,452.9 1721.0,447.3 1723.0,441.5 1725.0,435.4 1727.0,428.8 1729.0,422.3 1731.0,415.8 1733.0,409.3 1735.0,402.9 1737.0,396.4 1739.0,389.4 1741.0,382.3 1743.0,375.4 1745.0,369.0 1747.0,362.7 1749.0,362.7 L1749.0,440.8 1747.0,446.3 1745.0,452.2 1743.0,458.4 1741.0,464.5 1739.0,470.0 1737.0,475.6 1735.0,481.1 1733.0,486.6 1731.0,492.2 1729.0,497.7 1727.0,502.9 1725.0,507.8 1723.0,512.5 1721.0,514.0 1719.0,515.5 1717.0,516.7 1715.0,517.6 1713.0,518.5 1711.0,519.4 1709.0,520.4 1707.0,521.3 1705.0,522.5 1703.0,523.7 1701.0,525.0 1699.0,526.3 1697.0,527.6 1695.0,528.9 1693.0,530.1 1691.0,531.3 1689.0,532.5 1687.0,533.7 1685.0,535.1 1683.0,536.6 1681.0,538.1 1679.0,539.6 1677.0,541.1 1675.0,542.5 1673.0,543.9 1671.0,545.2 1669.0,546.6 1667.0,547.7 1665.0,547.7 1663.0,547.7 1661.0,547.0 1659.0,546.3 1657.0,545.6 1655.0,544.6 1653.0,543.4 1651.0,542.2 1649.0,541.0 1647.0,539.7 1645.0,538.4 1643.0,537.0 1641.0,535.5 1639.0,533.3 1637.0,531.0 1635.0,528.7 1633.0,526.5 1631.0,524.3 1629.0,522.1 1627.0,520.1 1625.0,518.7 1623.0,517.2 1621.0,518.4 1619.0,519.6 1617.0,520.9 1615.0,522.4 1613.0,524.0 1611.0,525.5 1609.0,526.8 1607.0,528.0 1605.0,529.2 1603.0,530.4 1601.0,532.3 1599.0,534.4 1597.0,536.6 1595.0,538.6 1593.0,538.8 1591.0,538.9 1589.0,539.1 1587.0,539.1 1585.0,539.1 1583.0,539.0 1581.0,538.6 1579.0,538.2 1577.0,539.7 1575.0,541.1 1573.0,542.0 1571.0,542.0 1569.0,542.0 1567.0,542.0 1565.0,542.0 1563.0,541.7 1561.0,541.4 1559.0,541.0 1557.0,540.4 1555.0,539.6 1553.0,538.9 1551.0,537.3 1549.0,535.0 1547.0,532.8 1545.0,531.0 1543.0,529.2 1541.0,527.9 1539.0,527.0 1537.0,526.0 1535.0,525.1 1533.0,524.9 1531.0,524.7 1529.0,524.8 1527.0,525.7 1525.0,526.7 1523.0,527.6 1521.0,527.6 1519.0,527.6 1517.0,526.8 1515.0,525.3 1513.0,522.2 1511.0,518.6 1509.0,517.0 1507.0,517.3 1505.0,519.1 1503.0,520.9 1501.0,522.7 1499.0,524.4 1497.0,525.8 1495.0,527.2 1493.0,527.2 1491.0,527.2 1489.0,526.8 1487.0,526.1 1485.0,525.5 1483.0,524.8 1481.0,523.8 1479.0,522.8 1477.0,522.9 1475.0,524.4 1473.0,525.8 1471.0,527.2 1469.0,530.7 1467.0,534.4 1465.0,538.0 1463.0,540.1 1461.0,541.9 1459.0,543.7 1457.0,546.7 1455.0,549.8 1453.0,552.9 1451.0,556.0 1449.0,558.3 1447.0,560.1 1445.0,561.9 1443.0,563.4 1441.0,564.8 1439.0,566.2 1437.0,567.6 1435.0,569.1 1433.0,570.5 1431.0,571.7 1429.0,572.6 1427.0,573.5 1425.0,573.5 1423.0,573.5 1421.0,573.1 1419.0,572.4 1417.0,571.6 1415.0,570.2 1413.0,568.4 1411.0,566.6 1409.0,565.3 1407.0,564.3 1405.0,563.2 1403.0,561.9 1401.0,560.1 1399.0,558.3 1397.0,556.5 1395.0,554.7 1393.0,552.9 1391.0,551.1 1389.0,549.5 1387.0,548.1 1385.0,546.7 1383.0,545.1 1381.0,543.3 1379.0,541.5 1377.0,539.7 1375.0,537.9 1373.0,536.1 1371.0,533.1 1369.0,527.7 1367.0,522.3 1365.0,517.5 1363.0,512.9 1361.0,508.2 1359.0,503.4 1357.0,497.8 1355.0,491.2 1353.0,484.8 1351.0,478.7 1349.0,472.5 1347.0,465.6 1345.0,457.9 1343.0,450.2 1341.0,442.3 1339.0,427.0 1337.0,411.7 1335.0,400.1 1333.0,389.6 1331.0,379.2 1329.0,368.7 1327.0,358.2 1325.0,347.6 1323.0,337.1 1321.0,326.6 1319.0,316.0 1317.0,306.4 1315.0,298.6 1313.0,292.0 1311.0,288.4 1309.0,285.3 1307.0,283.4 1305.0,281.4 1303.0,279.5 1301.0,276.8 1299.0,274.0 1297.0,270.3 1295.0,265.6 1293.0,260.8 1291.0,254.6 1289.0,248.2 1287.0,241.1 1285.0,234.0 1283.0,226.5 1281.0,219.4 1279.0,212.9 1277.0,209.1 1275.0,205.5 1273.0,205.1 1271.0,204.6 1269.0,203.8 1267.0,202.9 1265.0,201.5 1263.0,197.2 1261.0,193.0 1259.0,189.6 1257.0,186.7 1255.0,184.0 1253.0,182.1 1251.0,182.3 1249.0,186.1 1247.0,189.9 1245.0,192.8 1243.0,195.7 1241.0,198.5 1239.0,201.4 1237.0,204.4 1235.0,204.4 1233.0,204.4 1231.0,203.5 1229.0,202.5 1227.0,201.8 1225.0,201.3 1223.0,200.8 1221.0,199.4 1219.0,198.0 1217.0,195.7 1215.0,192.3 1213.0,195.5 1211.0,200.7 1209.0,209.0 1207.0,217.3 1205.0,225.6 1203.0,232.8 1201.0,239.4 1199.0,245.9 1197.0,251.4 1195.0,256.9 1193.0,262.3 1191.0,265.1 1189.0,266.2 1187.0,266.2 1185.0,266.2 1183.0,266.2 1181.0,265.3 1179.0,263.4 1177.0,260.8 1175.0,259.0 1173.0,257.5 1171.0,257.2 1169.0,259.1 1167.0,261.8 1165.0,270.8 1163.0,280.4 1161.0,291.0 1159.0,301.7 1157.0,313.2 1155.0,325.0 1153.0,337.7 1151.0,348.2 1149.0,356.3 1147.0,368.4 1145.0,380.5 1143.0,392.6 1141.0,405.1 1139.0,414.3 1137.0,422.4 1135.0,430.3 1133.0,438.2 1131.0,443.2 1129.0,447.4 1127.0,447.4 1125.0,447.4 1123.0,453.2 1121.0,461.5 1119.0,468.9 1117.0,473.6 1115.0,477.5 1113.0,481.8 1111.0,487.4 1109.0,494.6 1107.0,500.6 1105.0,505.6 1103.0,507.4 1101.0,509.3 1099.0,511.3 1097.0,514.5 1095.0,517.7 1093.0,521.2 1091.0,524.9 1089.0,528.8 1087.0,534.2 1085.0,539.6 1083.0,544.7 1081.0,549.7 1079.0,554.6 1077.0,559.4 1075.0,564.3 1073.0,571.0 1071.0,577.5 1069.0,582.0 1067.0,586.5 1065.0,591.2 1063.0,596.0 1061.0,600.8 1059.0,605.0 1057.0,608.7 1055.0,612.3 1053.0,615.8 1051.0,619.3 1049.0,622.0 1047.0,623.3 1045.0,624.5 1043.0,625.7 1041.0,626.9 1039.0,628.1 1037.0,629.2 1035.0,630.4 1033.0,631.5 1031.0,632.3 1029.0,632.9 1027.0,633.5 1025.0,634.0 1023.0,634.6 1021.0,635.1 1019.0,635.6 1017.0,635.9 1015.0,635.9 1013.0,635.9 1011.0,635.9 1009.0,635.9 1007.0,635.9 1005.0,635.9 1003.0,635.9 1001.0,635.9 999.0,635.9 997.0,635.9 995.0,635.9 993.0,635.9 991.0,635.9 989.0,635.9 987.0,635.9 985.0,635.9 983.0,635.9 981.0,635.9 979.0,635.9 977.0,635.9 975.0,635.9 973.0,635.9 971.0,635.9 969.0,635.9 967.0,635.9 965.0,635.9 963.0,635.9 961.0,635.9 959.0,635.9 957.0,635.9 955.0,635.9 953.0,635.9 951.0,635.9 949.0,635.9 947.0,635.9 945.0,635.9 Z" fill="#a056cf" fill-opacity="0.075" stroke="none"/>
<path d="M945.0,634.3 990.0,633.5 1010.0,630.5 1030.0,621.0 1045.0,608.0 1055.0,592.0 1060.0,582.0 1065.2,571.4 1070.2,555.1 1072.7,542.5 1075.0,530.0 1082.3,504.6 1088.5,489.6 1093.5,477.2 1097.2,462.3 1101.0,449.9 1103.4,443.6 1105.9,433.7 1108.5,425.0 1112.4,412.0 1117.3,405.8 1122.3,399.6 1127.3,395.8 1129.8,389.6 1133.5,379.7 1137.2,369.7 1141.0,357.3 1144.7,344.9 1148.4,332.4 1152.3,320.0 1159.8,302.0 1166.0,282.1 1171.0,267.2 1174.7,249.8 1177.2,239.9 1179.7,227.4 1182.3,217.0 1186.0,200.0 1189.8,184.6 1196.0,163.4 1199.8,151.0 1203.5,153.5 1207.2,163.4 1211.0,169.7 1215.9,167.2 1220.9,163.4 1225.9,157.2 1232.1,154.7 1238.3,152.3 1242.0,146.0 1245.8,137.3 1249.0,124.0 1252.3,113.4 1256.6,102.9 1261.0,106.0 1265.9,109.7 1270.9,115.9 1274.6,124.6 1278.4,134.6 1282.1,147.0 1285.5,159.0 1287.4,172.4 1291.1,184.9 1294.8,193.6 1299.8,201.0 1304.8,207.2 1308.5,213.4 1312.2,220.9 1316.5,235.0 1319.5,250.0 1322.5,265.0 1340.0,370.0 1344.0,407.0 1350.0,436.0 1356.0,455.0 1360.0,470.0 1364.9,487.4 1372.4,487.4 1378.6,486.2 1385.0,495.0 1395.0,510.0 1405.0,525.0 1412.0,536.0 1420.0,548.0 1430.0,560.0 1440.0,574.0 1450.0,586.0 1458.9,594.0 1467.7,593.3 1476.4,590.2 1485.2,591.5 1497.8,585.8 1506.5,588.9 1512.8,588.3 1520.3,580.2 1526.6,577.7 1532.9,570.1 1539.2,561.4 1545.4,555.1 1549.2,555.1 1555.5,559.5 1561.7,559.5 1568.0,560.7 1576.8,566.4 1583.1,567.0 1590.6,563.9 1599.4,563.2 1605.6,565.7 1611.9,567.6 1616.9,566.4 1623.2,557.6 1629.5,550.1 1635.7,545.5 1642.5,541.9 1652.2,535.4 1665.1,533.8 1671.5,535.4 1678.0,541.9 1684.4,545.1 1690.8,541.0 1698.9,537.8 1705.3,537.8 1716.6,532.2 1724.6,533.8 1735.9,536.2 1742.3,534.6 1749.6,525.8" fill="none" stroke="#8b4535" stroke-width="2.35" stroke-linejoin="round" stroke-linecap="butt"/>
<path d="M945.0,630.9 947.0,630.8 949.0,630.7 951.0,630.6 953.0,630.5 955.0,630.5 957.0,630.4 959.0,630.3 961.0,630.2 963.0,630.2 965.0,630.1 967.0,630.0 969.0,629.9 971.0,629.9 973.0,629.8 975.0,629.7 977.0,629.7 979.0,629.6 981.0,629.5 983.0,629.4 985.0,629.4 987.0,629.3 989.0,629.0 991.0,628.4 993.0,627.9 995.0,627.3 997.0,626.8 999.0,626.3 1001.0,625.8 1003.0,625.3 1005.0,624.8 1007.0,624.4 1009.0,623.4 1011.0,622.0 1013.0,620.5 1015.0,619.2 1017.0,617.8 1019.0,616.5 1021.0,615.2 1023.0,613.9 1025.0,612.6 1027.0,611.3 1029.0,609.6 1031.0,607.3 1033.0,605.1 1035.0,602.9 1037.0,600.7 1039.0,598.6 1041.0,596.4 1043.0,594.3 1045.0,590.4 1047.0,586.6 1049.0,582.7 1051.0,578.9 1053.0,575.2 1055.0,570.5 1057.0,565.8 1059.0,561.2 1061.0,556.5 1063.0,551.8 1065.0,544.7 1067.0,537.4 1069.0,528.5 1071.0,517.2 1073.0,505.1 1075.0,497.3 1077.0,489.6 1079.0,482.0 1081.0,475.1 1083.0,469.8 1085.0,464.5 1087.0,459.2 1089.0,453.8 1091.0,448.4 1093.0,440.6 1095.0,431.9 1097.0,424.6 1099.0,417.6 1101.0,411.9 1103.0,404.0 1105.0,396.1 1107.0,389.0 1109.0,381.8 1111.0,375.9 1113.0,373.2 1115.0,370.5 1117.0,367.8 1119.0,365.2 1121.0,362.8 1123.0,361.2 1125.0,359.6 1127.0,354.9 1129.0,349.4 1131.0,343.7 1133.0,337.9 1135.0,332.2 1137.0,325.4 1139.0,318.5 1141.0,311.3 1143.0,304.2 1145.0,297.0 1147.0,290.0 1149.0,283.2 1151.0,277.1 1153.0,272.0 1155.0,266.9 1157.0,261.8 1159.0,255.8 1161.0,249.0 1163.0,242.2 1165.0,235.7 1167.0,229.4 1169.0,223.1 1171.0,213.3 1173.0,203.6 1175.0,195.2 1177.0,185.0 1179.0,175.8 1181.0,167.0 1183.0,157.3 1185.0,148.2 1187.0,139.7 1189.0,132.0 1191.0,124.8 1193.0,117.7 1195.0,110.6 1197.0,103.8 1199.0,101.7 1201.0,101.7 1203.0,101.7 1205.0,103.1 1207.0,107.6 1209.0,113.2 1211.0,116.9 1213.0,118.4 1215.0,117.0 1217.0,115.4 1219.0,113.8 1221.0,111.2 1223.0,108.6 1225.0,107.0 1227.0,106.1 1229.0,105.3 1231.0,104.4 1233.0,103.6 1235.0,102.8 1237.0,101.1 1239.0,97.5 1241.0,93.4 1243.0,88.6 1245.0,81.6 1247.0,72.9 1249.0,66.1 1251.0,59.9 1253.0,54.8 1255.0,50.9 1257.0,50.9 1259.0,50.9 1261.0,52.4 1263.0,53.8 1265.0,55.4 1267.0,57.0 1269.0,59.1 1271.0,61.7 1273.0,64.3 1275.0,69.2 1277.0,74.3 1279.0,79.8 1281.0,85.7 1283.0,92.7 1285.0,99.9 1287.0,107.3 1289.0,120.0 1291.0,128.8 1293.0,135.9 1295.0,141.0 1297.0,145.8 1299.0,148.9 1301.0,152.0 1303.0,154.8 1305.0,157.4 1307.0,160.1 1309.0,163.6 1311.0,167.3 1313.0,171.5 1315.0,176.8 1317.0,183.7 1319.0,191.4 1321.0,201.9 1323.0,212.4 1325.0,223.5 1327.0,236.1 1329.0,248.8 1331.0,261.5 1333.0,274.2 1335.0,286.9 1337.0,299.6 1339.0,312.3 1341.0,325.1 1343.0,341.2 1345.0,360.9 1347.0,376.2 1349.0,386.6 1351.0,396.9 1353.0,405.6 1355.0,412.5 1357.0,419.3 1359.0,426.7 1361.0,434.8 1363.0,442.8 1365.0,450.5 1367.0,458.0 1369.0,458.0 1371.0,457.9 1373.0,457.5 1375.0,457.1 1377.0,457.1 1379.0,457.1 1381.0,457.2 1383.0,460.2 1385.0,463.2 1387.0,466.2 1389.0,469.5 1391.0,472.8 1393.0,476.1 1395.0,479.4 1397.0,482.6 1399.0,485.9 1401.0,489.2 1403.0,492.5 1405.0,495.8 1407.0,499.2 1409.0,502.6 1411.0,506.1 1413.0,509.6 1415.0,513.0 1417.0,516.4 1419.0,519.7 1421.0,523.0 1423.0,526.1 1425.0,528.8 1427.0,531.5 1429.0,534.2 1431.0,536.9 1433.0,539.8 1435.0,543.0 1437.0,546.2 1439.0,549.3 1441.0,552.5 1443.0,555.5 1445.0,558.3 1447.0,561.0 1449.0,563.8 1451.0,566.6 1453.0,569.0 1455.0,571.1 1457.0,573.2 1459.0,575.4 1461.0,577.0 1463.0,576.9 1465.0,576.7 1467.0,576.1 1469.0,575.2 1471.0,574.4 1473.0,573.6 1475.0,573.1 1477.0,573.1 1479.0,573.1 1481.0,573.4 1483.0,573.7 1485.0,573.6 1487.0,572.5 1489.0,571.4 1491.0,570.4 1493.0,569.3 1495.0,568.3 1497.0,568.3 1499.0,568.3 1501.0,568.3 1503.0,569.1 1505.0,570.0 1507.0,570.8 1509.0,570.9 1511.0,570.5 1513.0,568.0 1515.0,565.5 1517.0,563.0 1519.0,561.0 1521.0,560.1 1523.0,559.2 1525.0,558.0 1527.0,555.2 1529.0,552.4 1531.0,549.7 1533.0,546.5 1535.0,543.4 1537.0,540.3 1539.0,537.9 1541.0,535.6 1543.0,533.3 1545.0,532.8 1547.0,532.8 1549.0,532.8 1551.0,532.8 1553.0,534.2 1555.0,535.7 1557.0,537.3 1559.0,537.7 1561.0,537.7 1563.0,537.7 1565.0,538.0 1567.0,538.4 1569.0,538.9 1571.0,539.8 1573.0,541.3 1575.0,542.7 1577.0,544.2 1579.0,545.6 1581.0,545.8 1583.0,545.4 1585.0,544.4 1587.0,543.5 1589.0,542.7 1591.0,542.5 1593.0,542.3 1595.0,542.1 1597.0,542.0 1599.0,542.0 1601.0,542.0 1603.0,542.6 1605.0,543.5 1607.0,544.5 1609.0,545.2 1611.0,545.9 1613.0,546.1 1615.0,545.5 1617.0,542.3 1619.0,539.1 1621.0,536.0 1623.0,533.2 1625.0,530.6 1627.0,527.9 1629.0,526.0 1631.0,524.3 1633.0,522.6 1635.0,521.3 1637.0,520.1 1639.0,518.9 1641.0,517.7 1643.0,516.2 1645.0,514.7 1647.0,513.2 1649.0,511.7 1651.0,510.7 1653.0,510.4 1655.0,510.1 1657.0,509.8 1659.0,509.6 1661.0,509.3 1663.0,509.0 1665.0,509.0 1667.0,509.0 1669.0,509.5 1671.0,510.1 1673.0,510.6 1675.0,512.4 1677.0,514.6 1679.0,516.8 1681.0,518.5 1683.0,519.6 1685.0,519.7 1687.0,518.3 1689.0,516.9 1691.0,516.0 1693.0,515.2 1695.0,514.3 1697.0,513.4 1699.0,513.4 1701.0,513.4 1703.0,513.4 1705.0,512.5 1707.0,511.4 1709.0,510.3 1711.0,509.2 1713.0,508.1 1715.0,507.3 1717.0,507.3 1719.0,507.3 1721.0,507.7 1723.0,508.2 1725.0,508.6 1727.0,509.1 1729.0,509.5 1731.0,510.0 1733.0,510.5 1735.0,511.0 1737.0,510.8 1739.0,510.3 1741.0,509.0 1743.0,506.3 1745.0,503.7 1747.0,501.0 1749.0,501.0 L1749.0,554.3 1747.0,556.5 1745.0,558.6 1743.0,559.6 1741.0,560.1 1739.0,560.5 1737.0,560.6 1735.0,560.6 1733.0,560.6 1731.0,560.2 1729.0,559.8 1727.0,559.4 1725.0,559.1 1723.0,558.7 1721.0,558.3 1719.0,558.0 1717.0,557.9 1715.0,558.8 1713.0,559.7 1711.0,560.6 1709.0,561.4 1707.0,562.2 1705.0,562.2 1703.0,562.2 1701.0,562.2 1699.0,562.9 1697.0,563.6 1695.0,564.3 1693.0,565.0 1691.0,566.1 1689.0,567.2 1687.0,568.3 1685.0,568.3 1683.0,568.3 1681.0,568.0 1679.0,567.1 1677.0,566.2 1675.0,564.9 1673.0,563.1 1671.0,561.3 1669.0,559.9 1667.0,559.5 1665.0,559.0 1663.0,559.1 1661.0,559.3 1659.0,559.5 1657.0,559.7 1655.0,560.0 1653.0,560.8 1651.0,562.0 1649.0,563.2 1647.0,564.3 1645.0,565.5 1643.0,566.5 1641.0,567.5 1639.0,568.4 1637.0,569.5 1635.0,570.8 1633.0,572.1 1631.0,573.6 1629.0,575.7 1627.0,577.8 1625.0,579.9 1623.0,582.3 1621.0,584.8 1619.0,587.2 1617.0,587.7 1615.0,588.1 1613.0,588.1 1611.0,588.1 1609.0,588.0 1607.0,587.5 1605.0,587.0 1603.0,586.4 1601.0,585.7 1599.0,585.0 1597.0,584.8 1595.0,584.9 1593.0,585.1 1591.0,585.7 1589.0,586.4 1587.0,587.1 1585.0,587.8 1583.0,587.8 1581.0,587.8 1579.0,587.6 1577.0,587.4 1575.0,587.3 1573.0,586.2 1571.0,585.1 1569.0,584.0 1567.0,582.8 1565.0,582.1 1563.0,581.8 1561.0,581.5 1559.0,581.3 1557.0,581.3 1555.0,581.3 1553.0,580.9 1551.0,579.7 1549.0,578.5 1547.0,577.8 1545.0,579.6 1543.0,581.4 1541.0,583.2 1539.0,585.6 1537.0,588.0 1535.0,590.4 1533.0,592.5 1531.0,594.5 1529.0,596.6 1527.0,597.5 1525.0,598.2 1523.0,598.8 1521.0,600.3 1519.0,602.1 1517.0,603.9 1515.0,605.7 1513.0,606.0 1511.0,606.2 1509.0,606.3 1507.0,606.3 1505.0,606.3 1503.0,605.9 1501.0,605.3 1499.0,604.7 1497.0,604.9 1495.0,605.6 1493.0,606.4 1491.0,607.1 1489.0,607.9 1487.0,608.5 1485.0,608.5 1483.0,608.5 1481.0,608.2 1479.0,608.0 1477.0,607.9 1475.0,608.5 1473.0,609.0 1471.0,609.6 1469.0,610.1 1467.0,610.2 1465.0,610.3 1463.0,610.4 1461.0,610.6 1459.0,610.6 1457.0,610.6 1455.0,609.1 1453.0,607.6 1451.0,606.2 1449.0,604.7 1447.0,602.9 1445.0,600.9 1443.0,598.8 1441.0,596.8 1439.0,594.8 1437.0,592.5 1435.0,590.1 1433.0,587.7 1431.0,585.3 1429.0,582.9 1427.0,580.6 1425.0,578.5 1423.0,576.4 1421.0,574.3 1419.0,572.2 1417.0,569.8 1415.0,567.2 1413.0,564.5 1411.0,561.8 1409.0,559.1 1407.0,556.3 1405.0,553.5 1403.0,550.7 1401.0,548.0 1399.0,545.3 1397.0,542.6 1395.0,539.9 1393.0,537.2 1391.0,534.5 1389.0,531.8 1387.0,529.1 1385.0,526.4 1383.0,523.6 1381.0,521.1 1379.0,518.6 1377.0,516.3 1375.0,516.7 1373.0,516.8 1371.0,516.8 1369.0,516.8 1367.0,516.8 1365.0,516.8 1363.0,516.8 1361.0,510.5 1359.0,504.0 1357.0,497.3 1355.0,490.4 1353.0,484.1 1351.0,478.2 1349.0,472.4 1347.0,464.9 1345.0,456.0 1343.0,447.0 1341.0,433.7 1339.0,416.4 1337.0,402.3 1335.0,391.1 1333.0,379.8 1331.0,368.5 1329.0,357.2 1327.0,345.9 1325.0,334.6 1323.0,323.3 1321.0,311.9 1319.0,302.1 1317.0,292.6 1315.0,283.1 1313.0,276.2 1311.0,269.9 1309.0,265.2 1307.0,261.3 1305.0,258.0 1303.0,254.8 1301.0,252.4 1299.0,250.0 1297.0,247.5 1295.0,244.7 1293.0,241.9 1291.0,237.5 1289.0,232.9 1287.0,226.5 1285.0,218.5 1283.0,206.9 1281.0,200.1 1279.0,193.6 1277.0,187.2 1275.0,181.8 1273.0,176.8 1271.0,172.2 1269.0,167.7 1267.0,165.3 1265.0,162.9 1263.0,161.0 1261.0,159.5 1259.0,158.1 1257.0,159.0 1255.0,163.7 1253.0,169.3 1251.0,175.5 1249.0,183.5 1247.0,189.9 1245.0,194.2 1243.0,198.0 1241.0,201.3 1239.0,202.8 1237.0,203.6 1235.0,204.3 1233.0,205.1 1231.0,205.8 1229.0,206.6 1227.0,208.1 1225.0,210.5 1223.0,212.8 1221.0,214.3 1219.0,215.8 1217.0,217.0 1215.0,218.0 1213.0,218.8 1211.0,218.8 1209.0,218.8 1207.0,215.7 1205.0,212.3 1203.0,207.2 1201.0,203.7 1199.0,210.0 1197.0,216.3 1195.0,222.8 1193.0,229.4 1191.0,236.4 1189.0,244.1 1187.0,252.3 1185.0,261.1 1183.0,269.0 1181.0,277.3 1179.0,286.6 1177.0,294.1 1175.0,302.8 1173.0,311.6 1171.0,317.3 1169.0,322.9 1167.0,328.7 1165.0,334.8 1163.0,340.9 1161.0,346.3 1159.0,350.8 1157.0,355.3 1155.0,359.8 1153.0,365.3 1151.0,371.3 1149.0,377.6 1147.0,383.9 1145.0,390.2 1143.0,396.5 1141.0,402.6 1139.0,408.6 1137.0,413.6 1135.0,418.7 1133.0,423.6 1131.0,428.5 1129.0,432.5 1127.0,434.0 1125.0,435.4 1123.0,437.4 1121.0,439.7 1119.0,442.0 1117.0,444.4 1115.0,446.7 1113.0,451.8 1111.0,458.0 1109.0,464.2 1107.0,471.0 1105.0,477.7 1103.0,482.6 1101.0,488.6 1099.0,494.8 1097.0,502.1 1095.0,508.7 1093.0,513.3 1091.0,517.8 1089.0,522.2 1087.0,526.6 1085.0,531.0 1083.0,536.6 1081.0,542.9 1079.0,549.2 1077.0,555.5 1075.0,565.1 1073.0,574.1 1071.0,581.0 1069.0,586.6 1067.0,592.0 1065.0,595.5 1063.0,598.9 1061.0,602.4 1059.0,605.7 1057.0,609.0 1055.0,611.6 1053.0,614.2 1051.0,616.8 1049.0,619.3 1047.0,621.8 1045.0,623.1 1043.0,624.5 1041.0,625.8 1039.0,627.1 1037.0,628.3 1035.0,629.6 1033.0,630.8 1031.0,631.7 1029.0,632.3 1027.0,632.9 1025.0,633.5 1023.0,634.1 1021.0,634.7 1019.0,635.2 1017.0,635.8 1015.0,635.9 1013.0,635.9 1011.0,635.9 1009.0,635.9 1007.0,635.9 1005.0,635.9 1003.0,635.9 1001.0,635.9 999.0,635.9 997.0,635.9 995.0,635.9 993.0,635.9 991.0,635.9 989.0,635.9 987.0,635.9 985.0,635.9 983.0,635.9 981.0,635.9 979.0,635.9 977.0,635.9 975.0,635.9 973.0,635.9 971.0,635.9 969.0,635.9 967.0,635.9 965.0,635.9 963.0,635.9 961.0,635.9 959.0,635.9 957.0,635.9 955.0,635.9 953.0,635.9 951.0,635.9 949.0,635.9 947.0,635.9 945.0,635.9 Z" fill="#8b4535" fill-opacity="0.075" stroke="none"/>
<path d="M945.0,634.3 990.0,633.5 1010.0,631.0 1020.0,626.0 1031.3,612.8 1038.8,600.2 1046.4,590.2 1051.4,583.9 1055.2,577.7 1060.2,562.6 1063.9,548.8 1067.7,537.5 1070.5,530.0 1076.1,517.0 1081.1,503.3 1086.0,488.4 1089.8,474.7 1092.9,462.3 1094.7,452.3 1096.6,443.6 1098.5,433.7 1100.0,425.0 1103.7,409.5 1107.4,398.3 1110.5,398.3 1114.9,405.8 1118.6,403.3 1123.6,400.8 1128.5,398.3 1132.3,392.1 1137.2,377.2 1142.2,367.2 1147.2,357.3 1150.9,344.9 1154.6,332.4 1157.7,322.5 1160.5,319.5 1167.3,318.2 1171.0,313.2 1174.7,302.0 1178.5,299.5 1182.2,304.5 1185.9,307.0 1190.9,300.8 1193.4,289.6 1195.9,277.2 1198.4,262.2 1200.9,246.1 1203.3,231.2 1205.8,220.0 1207.1,215.0 1209.7,197.0 1213.4,179.6 1217.2,165.9 1220.9,147.3 1223.4,134.9 1226.2,125.9 1229.9,107.2 1233.6,91.1 1237.3,87.3 1242.3,84.9 1247.3,81.8 1253.5,79.9 1259.7,80.5 1264.7,78.6 1268.4,84.9 1273.4,94.8 1278.4,106.0 1282.1,115.9 1285.8,125.9 1289.6,137.1 1293.3,149.5 1295.5,158.0 1298.6,172.4 1302.3,184.9 1306.0,197.3 1309.7,208.5 1313.5,219.7 1316.0,230.9 1318.4,244.5 1320.9,259.4 1322.0,265.0 1337.5,370.0 1342.4,407.3 1349.9,432.2 1357.3,449.6 1363.6,462.0 1368.6,470.0 1374.9,479.9 1382.3,489.9 1388.5,499.8 1394.7,506.0 1401.0,513.5 1404.7,522.2 1409.7,533.4 1414.6,544.6 1419.6,553.3 1425.8,562.0 1432.0,568.2 1440.1,580.2 1452.6,596.5 1465.2,609.0 1475.2,617.8 1485.2,622.8 1497.8,623.4 1510.3,622.2 1520.3,620.3 1532.9,617.8 1545.4,615.3 1558.0,612.2 1570.5,609.0 1583.1,605.3 1595.6,601.5 1605.6,599.6 1613.1,600.9 1620.7,604.6 1628.2,605.4 1636.1,602.2 1642.5,604.6 1652.2,599.8 1660.2,591.8 1666.7,588.5 1674.7,591.0 1684.4,595.8 1694.0,593.4 1703.7,594.2 1713.4,595.8 1723.0,594.2 1731.1,591.8 1737.5,585.3 1744.0,575.7 1749.6,569.2" fill="none" stroke="#ef7404" stroke-width="2.35" stroke-linejoin="round" stroke-linecap="butt"/>
<path d="M945.0,630.9 947.0,630.8 949.0,630.7 951.0,630.6 953.0,630.5 955.0,630.5 957.0,630.4 959.0,630.3 961.0,630.2 963.0,630.2 965.0,630.1 967.0,630.0 969.0,629.9 971.0,629.9 973.0,629.8 975.0,629.7 977.0,629.7 979.0,629.6 981.0,629.5 983.0,629.4 985.0,629.4 987.0,629.3 989.0,629.0 991.0,628.6 993.0,628.1 995.0,627.7 997.0,627.2 999.0,626.8 1001.0,626.4 1003.0,625.9 1005.0,625.5 1007.0,625.1 1009.0,624.1 1011.0,622.6 1013.0,621.1 1015.0,619.6 1017.0,618.2 1019.0,615.9 1021.0,612.7 1023.0,609.6 1025.0,606.6 1027.0,603.6 1029.0,600.7 1031.0,596.7 1033.0,592.6 1035.0,588.5 1037.0,584.6 1039.0,581.4 1041.0,578.3 1043.0,575.2 1045.0,572.1 1047.0,569.2 1049.0,566.3 1051.0,562.7 1053.0,558.9 1055.0,552.4 1057.0,545.5 1059.0,538.1 1061.0,529.7 1063.0,522.2 1065.0,515.6 1067.0,509.4 1069.0,503.6 1071.0,498.5 1073.0,493.4 1075.0,487.9 1077.0,481.8 1079.0,475.8 1081.0,469.2 1083.0,462.6 1085.0,455.4 1087.0,447.5 1089.0,439.2 1091.0,430.5 1093.0,418.7 1095.0,408.6 1097.0,397.1 1099.0,386.3 1101.0,377.3 1103.0,369.9 1105.0,363.4 1107.0,362.0 1109.0,362.0 1111.0,362.0 1113.0,362.8 1115.0,366.4 1117.0,367.1 1119.0,366.1 1121.0,365.0 1123.0,363.9 1125.0,362.8 1127.0,361.2 1129.0,357.7 1131.0,353.2 1133.0,346.8 1135.0,340.3 1137.0,335.7 1139.0,331.5 1141.0,327.2 1143.0,323.0 1145.0,318.8 1147.0,312.0 1149.0,304.9 1151.0,297.8 1153.0,290.7 1155.0,283.9 1157.0,279.9 1159.0,278.1 1161.0,277.7 1163.0,277.3 1165.0,276.9 1167.0,274.4 1169.0,271.6 1171.0,265.3 1173.0,259.5 1175.0,258.1 1177.0,257.7 1179.0,257.7 1181.0,257.7 1183.0,260.5 1185.0,262.8 1187.0,260.9 1189.0,258.2 1191.0,248.7 1193.0,238.4 1195.0,226.8 1197.0,213.9 1199.0,200.4 1201.0,187.3 1203.0,177.3 1205.0,168.6 1207.0,154.6 1209.0,142.9 1211.0,133.1 1213.0,125.0 1215.0,117.5 1217.0,107.3 1219.0,96.8 1221.0,86.4 1223.0,78.9 1225.0,70.7 1227.0,60.1 1229.0,50.4 1231.0,41.3 1233.0,36.9 1235.0,34.7 1237.0,33.5 1239.0,32.5 1241.0,31.4 1243.0,30.1 1245.0,28.8 1247.0,28.1 1249.0,27.4 1251.0,26.8 1253.0,26.8 1255.0,26.8 1257.0,26.8 1259.0,26.8 1261.0,26.0 1263.0,25.7 1265.0,25.7 1267.0,25.7 1269.0,29.3 1271.0,33.0 1273.0,37.1 1275.0,41.2 1277.0,45.8 1279.0,50.5 1281.0,55.4 1283.0,61.0 1285.0,66.6 1287.0,72.3 1289.0,78.2 1291.0,84.4 1293.0,91.1 1295.0,98.1 1297.0,106.0 1299.0,115.3 1301.0,124.6 1303.0,131.6 1305.0,138.7 1307.0,145.7 1309.0,152.4 1311.0,158.8 1313.0,165.0 1315.0,171.2 1317.0,179.8 1319.0,190.4 1321.0,202.5 1323.0,215.0 1325.0,227.4 1327.0,241.7 1329.0,256.0 1331.0,270.3 1333.0,284.7 1335.0,299.0 1337.0,313.4 1339.0,327.8 1341.0,343.5 1343.0,359.8 1345.0,373.6 1347.0,380.7 1349.0,387.8 1351.0,394.9 1353.0,401.0 1355.0,406.0 1357.0,411.1 1359.0,416.2 1361.0,420.6 1363.0,424.8 1365.0,429.1 1367.0,432.8 1369.0,436.2 1371.0,439.7 1373.0,443.1 1375.0,446.5 1377.0,449.9 1379.0,452.9 1381.0,455.8 1383.0,458.8 1385.0,461.9 1387.0,465.4 1389.0,468.8 1391.0,472.0 1393.0,474.2 1395.0,476.4 1397.0,478.7 1399.0,481.3 1401.0,483.9 1403.0,486.5 1405.0,491.6 1407.0,496.8 1409.0,501.7 1411.0,506.7 1413.0,511.7 1415.0,516.8 1417.0,521.7 1419.0,525.6 1421.0,529.5 1423.0,532.9 1425.0,536.0 1427.0,539.2 1429.0,541.9 1431.0,544.1 1433.0,546.4 1435.0,549.2 1437.0,552.6 1439.0,556.0 1441.0,559.4 1443.0,562.6 1445.0,565.6 1447.0,568.7 1449.0,571.7 1451.0,574.8 1453.0,577.8 1455.0,580.8 1457.0,583.2 1459.0,585.5 1461.0,587.9 1463.0,590.3 1465.0,592.7 1467.0,595.1 1469.0,597.4 1471.0,599.5 1473.0,601.7 1475.0,604.0 1477.0,606.2 1479.0,607.6 1481.0,608.9 1483.0,610.2 1485.0,611.6 1487.0,612.9 1489.0,613.2 1491.0,613.3 1493.0,613.4 1495.0,613.6 1497.0,613.7 1499.0,613.5 1501.0,613.2 1503.0,613.0 1505.0,612.7 1507.0,612.4 1509.0,612.1 1511.0,611.6 1513.0,611.1 1515.0,610.6 1517.0,610.1 1519.0,609.6 1521.0,609.1 1523.0,608.5 1525.0,608.0 1527.0,607.5 1529.0,607.0 1531.0,606.5 1533.0,606.0 1535.0,605.5 1537.0,605.0 1539.0,604.4 1541.0,603.9 1543.0,603.4 1545.0,602.8 1547.0,602.2 1549.0,601.6 1551.0,601.0 1553.0,600.4 1555.0,599.7 1557.0,599.1 1559.0,598.5 1561.0,597.8 1563.0,597.2 1565.0,596.6 1567.0,595.9 1569.0,595.3 1571.0,594.6 1573.0,593.9 1575.0,593.1 1577.0,592.4 1579.0,591.7 1581.0,591.0 1583.0,590.3 1585.0,589.5 1587.0,588.8 1589.0,588.0 1591.0,587.3 1593.0,586.6 1595.0,586.0 1597.0,585.6 1599.0,585.1 1601.0,584.7 1603.0,584.2 1605.0,584.2 1607.0,584.2 1609.0,584.4 1611.0,584.8 1613.0,585.2 1615.0,585.6 1617.0,586.7 1619.0,587.9 1621.0,589.1 1623.0,590.1 1625.0,590.4 1627.0,590.6 1629.0,589.7 1631.0,588.7 1633.0,587.7 1635.0,587.6 1637.0,587.6 1639.0,587.6 1641.0,588.5 1643.0,588.6 1645.0,587.4 1647.0,586.2 1649.0,585.0 1651.0,583.4 1653.0,581.0 1655.0,578.7 1657.0,576.3 1659.0,574.4 1661.0,573.2 1663.0,572.0 1665.0,571.1 1667.0,571.1 1669.0,571.1 1671.0,571.8 1673.0,572.5 1675.0,573.3 1677.0,574.0 1679.0,575.2 1681.0,576.4 1683.0,577.5 1685.0,578.7 1687.0,578.2 1689.0,577.6 1691.0,577.0 1693.0,576.8 1695.0,576.8 1697.0,576.8 1699.0,577.0 1701.0,577.2 1703.0,577.4 1705.0,577.6 1707.0,577.9 1709.0,578.3 1711.0,578.7 1713.0,579.1 1715.0,578.9 1717.0,578.5 1719.0,578.1 1721.0,577.7 1723.0,577.0 1725.0,576.3 1727.0,575.6 1729.0,574.9 1731.0,572.6 1733.0,570.3 1735.0,567.9 1737.0,564.8 1739.0,561.3 1741.0,557.9 1743.0,554.9 1745.0,552.2 1747.0,549.6 1749.0,549.6 L1749.0,592.3 1747.0,594.3 1745.0,596.6 1743.0,599.1 1741.0,601.6 1739.0,603.8 1737.0,605.5 1735.0,607.2 1733.0,608.8 1731.0,609.3 1729.0,609.8 1727.0,610.3 1725.0,610.7 1723.0,611.0 1721.0,611.3 1719.0,611.6 1717.0,611.8 1715.0,612.0 1713.0,612.0 1711.0,612.0 1709.0,611.7 1707.0,611.4 1705.0,611.2 1703.0,610.9 1701.0,610.7 1699.0,610.6 1697.0,610.4 1695.0,610.3 1693.0,610.7 1691.0,611.1 1689.0,611.5 1687.0,611.9 1685.0,611.9 1683.0,611.9 1681.0,611.5 1679.0,610.7 1677.0,609.8 1675.0,609.0 1673.0,608.2 1671.0,607.7 1669.0,607.1 1667.0,606.8 1665.0,607.6 1663.0,608.5 1661.0,609.8 1659.0,611.4 1657.0,613.1 1655.0,614.7 1653.0,615.8 1651.0,616.6 1649.0,617.4 1647.0,618.2 1645.0,618.9 1643.0,618.9 1641.0,618.9 1639.0,618.7 1637.0,618.1 1635.0,618.2 1633.0,618.9 1631.0,619.5 1629.0,619.6 1627.0,619.6 1625.0,619.6 1623.0,619.5 1621.0,619.3 1619.0,619.1 1617.0,618.4 1615.0,617.7 1613.0,616.9 1611.0,616.2 1609.0,615.9 1607.0,615.6 1605.0,615.5 1603.0,615.8 1601.0,616.1 1599.0,616.4 1597.0,616.8 1595.0,617.3 1593.0,617.8 1591.0,618.3 1589.0,618.7 1587.0,619.2 1585.0,619.7 1583.0,620.2 1581.0,620.6 1579.0,621.1 1577.0,621.5 1575.0,622.0 1573.0,622.4 1571.0,622.9 1569.0,623.2 1567.0,623.6 1565.0,624.0 1563.0,624.4 1561.0,624.8 1559.0,625.2 1557.0,625.5 1555.0,625.9 1553.0,626.3 1551.0,626.6 1549.0,627.0 1547.0,627.4 1545.0,627.6 1543.0,627.9 1541.0,628.2 1539.0,628.5 1537.0,628.8 1535.0,629.1 1533.0,629.4 1531.0,629.7 1529.0,629.9 1527.0,630.2 1525.0,630.5 1523.0,630.8 1521.0,631.0 1519.0,631.3 1517.0,631.5 1515.0,631.8 1513.0,632.1 1511.0,632.2 1509.0,632.3 1507.0,632.5 1505.0,632.6 1503.0,632.7 1501.0,632.8 1499.0,632.9 1497.0,632.9 1495.0,632.9 1493.0,632.8 1491.0,632.8 1489.0,632.7 1487.0,632.6 1485.0,632.6 1483.0,632.4 1481.0,631.8 1479.0,631.1 1477.0,630.4 1475.0,629.7 1473.0,628.9 1471.0,627.7 1469.0,626.4 1467.0,625.1 1465.0,623.7 1463.0,622.4 1461.0,620.8 1459.0,619.3 1457.0,617.7 1455.0,616.1 1453.0,614.5 1451.0,612.9 1449.0,610.9 1447.0,608.7 1445.0,606.6 1443.0,604.4 1441.0,602.2 1439.0,600.0 1437.0,597.6 1435.0,595.1 1433.0,592.6 1431.0,590.0 1429.0,587.9 1427.0,586.2 1425.0,584.4 1423.0,582.4 1421.0,580.0 1419.0,577.5 1417.0,574.9 1415.0,571.8 1413.0,568.7 1411.0,564.9 1409.0,560.8 1407.0,556.8 1405.0,552.8 1403.0,548.7 1401.0,544.6 1399.0,540.4 1397.0,538.2 1395.0,536.1 1393.0,533.9 1391.0,532.1 1389.0,530.3 1387.0,528.5 1385.0,525.8 1383.0,522.9 1381.0,520.0 1379.0,517.4 1377.0,514.9 1375.0,512.5 1373.0,510.0 1371.0,507.1 1369.0,504.3 1367.0,501.4 1365.0,498.5 1363.0,495.5 1361.0,492.4 1359.0,488.8 1357.0,485.1 1355.0,481.4 1353.0,477.1 1351.0,472.7 1349.0,468.4 1347.0,463.2 1345.0,457.0 1343.0,450.9 1341.0,444.7 1339.0,432.7 1337.0,418.5 1335.0,404.7 1333.0,392.0 1331.0,379.3 1329.0,366.6 1327.0,353.8 1325.0,341.1 1323.0,328.3 1321.0,315.5 1319.0,304.3 1317.0,293.1 1315.0,282.2 1313.0,272.6 1311.0,264.9 1309.0,259.3 1307.0,253.7 1305.0,247.9 1303.0,241.8 1301.0,235.5 1299.0,229.0 1297.0,222.6 1295.0,214.2 1293.0,205.7 1291.0,198.5 1289.0,192.1 1287.0,186.0 1285.0,180.4 1283.0,174.9 1281.0,169.8 1279.0,164.7 1277.0,159.5 1275.0,155.0 1273.0,150.7 1271.0,146.6 1269.0,142.8 1267.0,139.0 1265.0,135.6 1263.0,133.3 1261.0,133.7 1259.0,133.7 1257.0,133.7 1255.0,133.5 1253.0,133.9 1251.0,134.5 1249.0,135.2 1247.0,136.4 1245.0,137.6 1243.0,138.6 1241.0,139.5 1239.0,140.6 1237.0,142.6 1235.0,146.6 1233.0,154.9 1231.0,163.9 1229.0,173.5 1227.0,181.0 1225.0,187.9 1223.0,197.3 1221.0,206.9 1219.0,216.1 1217.0,223.0 1215.0,230.4 1213.0,239.3 1211.0,249.8 1209.0,262.5 1207.0,270.4 1205.0,279.4 1203.0,291.2 1201.0,303.4 1199.0,315.0 1197.0,325.4 1195.0,334.5 1193.0,343.0 1191.0,345.5 1189.0,347.8 1187.0,348.4 1185.0,348.4 1183.0,348.4 1181.0,347.2 1179.0,345.1 1177.0,344.2 1175.0,349.3 1173.0,355.0 1171.0,357.5 1169.0,359.7 1167.0,360.0 1165.0,360.4 1163.0,360.7 1161.0,362.4 1159.0,365.9 1157.0,371.9 1155.0,378.2 1153.0,384.5 1151.0,390.8 1149.0,396.8 1147.0,400.5 1145.0,404.2 1143.0,407.9 1141.0,411.7 1139.0,415.7 1137.0,421.3 1135.0,427.0 1133.0,430.9 1131.0,433.9 1129.0,435.4 1127.0,436.3 1125.0,437.3 1123.0,438.2 1121.0,439.1 1119.0,440.3 1117.0,441.6 1115.0,441.6 1113.0,441.6 1111.0,438.5 1109.0,435.9 1107.0,441.5 1105.0,448.0 1103.0,455.7 1101.0,465.1 1099.0,474.9 1097.0,483.6 1095.0,493.6 1093.0,501.0 1091.0,508.0 1089.0,514.6 1087.0,520.6 1085.0,526.1 1083.0,531.6 1081.0,536.5 1079.0,541.5 1077.0,546.0 1075.0,550.1 1073.0,554.3 1071.0,558.9 1069.0,563.9 1067.0,569.1 1065.0,575.0 1063.0,581.5 1061.0,587.2 1059.0,592.4 1057.0,597.3 1055.0,600.1 1053.0,602.7 1051.0,604.8 1049.0,606.9 1047.0,609.0 1045.0,611.2 1043.0,613.3 1041.0,615.5 1039.0,618.1 1037.0,620.7 1035.0,623.3 1033.0,625.7 1031.0,627.5 1029.0,629.2 1027.0,630.8 1025.0,632.4 1023.0,633.9 1021.0,634.8 1019.0,635.4 1017.0,635.9 1015.0,635.9 1013.0,635.9 1011.0,635.9 1009.0,635.9 1007.0,635.9 1005.0,635.9 1003.0,635.9 1001.0,635.9 999.0,635.9 997.0,635.9 995.0,635.9 993.0,635.9 991.0,635.9 989.0,635.9 987.0,635.9 985.0,635.9 983.0,635.9 981.0,635.9 979.0,635.9 977.0,635.9 975.0,635.9 973.0,635.9 971.0,635.9 969.0,635.9 967.0,635.9 965.0,635.9 963.0,635.9 961.0,635.9 959.0,635.9 957.0,635.9 955.0,635.9 953.0,635.9 951.0,635.9 949.0,635.9 947.0,635.9 945.0,635.9 Z" fill="#ef7404" fill-opacity="0.075" stroke="none"/>
<path d="M945.0,634.0 980.0,633.3 1000.0,630.5 1010.0,627.8 1018.8,621.6 1028.8,616.5 1038.8,610.3 1046.4,601.5 1052.6,591.5 1057.7,580.2 1062.7,567.6 1066.4,552.6 1070.2,540.0 1074.0,530.0 1079.8,520.7 1083.6,517.0 1087.3,509.5 1089.8,497.1 1093.5,482.2 1097.2,466.0 1101.0,453.6 1105.9,451.1 1109.7,449.9 1112.2,443.6 1115.9,436.2 1119.6,431.2 1122.0,425.0 1123.6,419.4 1127.3,418.2 1132.3,415.7 1134.7,404.5 1138.5,392.1 1142.2,378.4 1144.7,367.2 1148.4,361.0 1153.4,357.3 1155.3,348.6 1157.1,336.2 1159.0,325.0 1160.2,320.0 1161.1,302.0 1163.6,277.2 1167.3,246.1 1171.0,229.9 1173.5,226.8 1176.6,227.4 1179.1,223.7 1182.2,221.2 1184.8,215.0 1188.6,197.0 1192.3,179.6 1196.0,159.7 1199.8,141.1 1203.5,132.4 1209.7,131.1 1215.9,126.2 1222.2,129.6 1228.6,129.6 1234.9,135.8 1239.8,140.8 1244.8,134.6 1249.8,123.4 1254.5,113.7 1258.2,115.0 1261.0,117.2 1264.7,124.6 1268.4,132.1 1272.2,138.3 1275.9,140.8 1279.6,147.0 1284.5,161.0 1289.9,168.7 1294.8,178.6 1299.8,191.1 1303.5,201.0 1307.3,209.7 1312.2,219.7 1316.0,229.6 1318.4,239.6 1320.9,252.0 1322.5,265.0 1339.3,370.0 1343.7,407.3 1349.9,434.6 1356.1,454.5 1362.4,470.0 1366.2,481.2 1371.1,489.9 1377.3,496.1 1383.6,502.3 1389.8,507.3 1394.7,517.2 1399.7,524.7 1405.9,530.9 1412.2,537.1 1417.1,544.6 1422.1,553.3 1427.5,563.9 1436.3,571.4 1445.1,583.9 1455.1,596.5 1465.2,605.3 1475.2,610.3 1487.7,614.0 1500.3,617.8 1510.3,622.8 1520.3,626.6 1532.9,630.3 1545.4,632.2 1570.5,632.6 1595.6,632.2 1614.4,631.6 1626.9,630.3 1634.0,628.6 1645.8,627.2 1661.9,625.6 1674.7,619.1 1687.6,612.7 1698.9,604.6 1710.1,601.4 1723.0,599.0 1732.7,596.6 1749.6,595.0" fill="none" stroke="#df3b12" stroke-width="2.35" stroke-linejoin="round" stroke-linecap="butt"/>
<path d="M945.0,630.2 947.0,630.1 949.0,630.0 951.0,629.9 953.0,629.9 955.0,629.8 957.0,629.7 959.0,629.6 961.0,629.5 963.0,629.5 965.0,629.4 967.0,629.3 969.0,629.2 971.0,629.2 973.0,629.1 975.0,629.0 977.0,628.9 979.0,628.6 981.0,628.1 983.0,627.6 985.0,627.1 987.0,626.6 989.0,626.2 991.0,625.7 993.0,625.2 995.0,624.8 997.0,624.3 999.0,623.7 1001.0,622.9 1003.0,622.0 1005.0,621.2 1007.0,620.4 1009.0,619.1 1011.0,617.1 1013.0,615.1 1015.0,613.2 1017.0,611.4 1019.0,610.0 1021.0,608.7 1023.0,607.4 1025.0,606.0 1027.0,604.7 1029.0,603.1 1031.0,601.6 1033.0,600.0 1035.0,598.5 1037.0,596.8 1039.0,594.0 1041.0,591.2 1043.0,588.4 1045.0,585.3 1047.0,581.4 1049.0,577.6 1051.0,573.6 1053.0,568.4 1055.0,563.3 1057.0,557.7 1059.0,551.9 1061.0,545.8 1063.0,536.6 1065.0,527.9 1067.0,520.5 1069.0,513.7 1071.0,507.8 1073.0,503.1 1075.0,499.5 1077.0,496.0 1079.0,493.3 1081.0,491.1 1083.0,487.4 1085.0,483.0 1087.0,473.2 1089.0,463.5 1091.0,454.8 1093.0,445.5 1095.0,436.0 1097.0,428.6 1099.0,421.5 1101.0,420.3 1103.0,419.2 1105.0,418.3 1107.0,417.6 1109.0,414.0 1111.0,409.0 1113.0,404.7 1115.0,401.1 1117.0,398.2 1119.0,393.5 1121.0,387.0 1123.0,384.1 1125.0,383.4 1127.0,382.4 1129.0,381.3 1131.0,377.4 1133.0,367.7 1135.0,360.8 1137.0,353.6 1139.0,345.7 1141.0,337.2 1143.0,328.4 1145.0,324.8 1147.0,321.8 1149.0,320.2 1151.0,318.6 1153.0,310.7 1155.0,297.0 1157.0,284.3 1159.0,262.8 1161.0,240.3 1163.0,221.5 1165.0,203.8 1167.0,193.1 1169.0,183.9 1171.0,181.1 1173.0,180.7 1175.0,180.5 1177.0,177.4 1179.0,175.6 1181.0,172.6 1183.0,167.3 1185.0,157.3 1187.0,147.4 1189.0,137.5 1191.0,127.2 1193.0,115.9 1195.0,105.1 1197.0,94.9 1199.0,87.7 1201.0,82.8 1203.0,81.1 1205.0,80.7 1207.0,80.3 1209.0,79.1 1211.0,77.4 1213.0,75.8 1215.0,75.6 1217.0,75.6 1219.0,75.6 1221.0,76.7 1223.0,77.8 1225.0,78.5 1227.0,78.5 1229.0,78.5 1231.0,78.9 1233.0,80.9 1235.0,83.0 1237.0,85.1 1239.0,87.2 1241.0,86.2 1243.0,83.4 1245.0,78.7 1247.0,74.0 1249.0,69.6 1251.0,65.3 1253.0,62.1 1255.0,62.1 1257.0,62.1 1259.0,62.8 1261.0,63.9 1263.0,65.5 1265.0,69.6 1267.0,73.8 1269.0,78.1 1271.0,82.1 1273.0,85.5 1275.0,88.2 1277.0,89.6 1279.0,92.1 1281.0,95.6 1283.0,100.8 1285.0,106.7 1287.0,112.1 1289.0,115.0 1291.0,118.0 1293.0,121.7 1295.0,125.9 1297.0,130.2 1299.0,135.4 1301.0,140.7 1303.0,146.1 1305.0,151.8 1307.0,156.8 1309.0,161.6 1311.0,166.0 1313.0,170.3 1315.0,175.0 1317.0,180.5 1319.0,187.5 1321.0,196.7 1323.0,207.3 1325.0,223.6 1327.0,236.8 1329.0,250.0 1331.0,263.2 1333.0,276.4 1335.0,289.6 1337.0,302.9 1339.0,316.2 1341.0,329.5 1343.0,346.7 1345.0,364.8 1347.0,377.5 1349.0,386.9 1351.0,396.4 1353.0,404.5 1355.0,411.4 1357.0,418.4 1359.0,424.6 1361.0,429.9 1363.0,435.2 1365.0,440.9 1367.0,447.3 1369.0,452.7 1371.0,456.6 1373.0,460.4 1375.0,462.8 1377.0,464.9 1379.0,467.1 1381.0,469.3 1383.0,471.4 1385.0,473.6 1387.0,475.5 1389.0,477.2 1391.0,479.0 1393.0,482.3 1395.0,486.8 1397.0,491.1 1399.0,494.4 1401.0,497.7 1403.0,500.3 1405.0,502.5 1407.0,504.7 1409.0,506.9 1411.0,509.1 1413.0,511.3 1415.0,513.9 1417.0,517.3 1419.0,520.8 1421.0,524.6 1423.0,528.5 1425.0,532.6 1427.0,537.1 1429.0,541.5 1431.0,544.1 1433.0,546.0 1435.0,548.0 1437.0,549.9 1439.0,552.3 1441.0,555.5 1443.0,558.8 1445.0,562.1 1447.0,565.4 1449.0,568.3 1451.0,571.3 1453.0,574.2 1455.0,577.2 1457.0,580.2 1459.0,582.3 1461.0,584.4 1463.0,586.5 1465.0,588.6 1467.0,590.7 1469.0,592.0 1471.0,593.2 1473.0,594.4 1475.0,595.7 1477.0,596.9 1479.0,597.7 1481.0,598.4 1483.0,599.2 1485.0,599.9 1487.0,600.6 1489.0,601.4 1491.0,602.1 1493.0,602.9 1495.0,603.7 1497.0,604.4 1499.0,605.2 1501.0,606.0 1503.0,606.9 1505.0,608.2 1507.0,609.5 1509.0,610.8 1511.0,612.2 1513.0,613.4 1515.0,614.4 1517.0,615.5 1519.0,616.5 1521.0,617.6 1523.0,618.6 1525.0,619.4 1527.0,620.3 1529.0,621.1 1531.0,622.0 1533.0,622.9 1535.0,623.8 1537.0,624.3 1539.0,624.8 1541.0,625.3 1543.0,625.8 1545.0,626.3 1547.0,626.8 1549.0,626.9 1551.0,627.0 1553.0,627.0 1555.0,627.1 1557.0,627.2 1559.0,627.2 1561.0,627.3 1563.0,627.3 1565.0,627.4 1567.0,627.4 1569.0,627.5 1571.0,627.5 1573.0,627.5 1575.0,627.4 1577.0,627.4 1579.0,627.3 1581.0,627.2 1583.0,627.2 1585.0,627.1 1587.0,627.1 1589.0,627.0 1591.0,627.0 1593.0,626.9 1595.0,626.8 1597.0,626.7 1599.0,626.6 1601.0,626.5 1603.0,626.4 1605.0,626.3 1607.0,626.2 1609.0,626.1 1611.0,626.0 1613.0,625.8 1615.0,625.4 1617.0,625.1 1619.0,624.8 1621.0,624.4 1623.0,624.1 1625.0,623.8 1627.0,623.0 1629.0,622.3 1631.0,621.6 1633.0,621.0 1635.0,620.7 1637.0,620.3 1639.0,620.0 1641.0,619.7 1643.0,619.3 1645.0,619.0 1647.0,618.7 1649.0,618.4 1651.0,618.2 1653.0,617.9 1655.0,617.6 1657.0,617.3 1659.0,617.0 1661.0,616.2 1663.0,614.8 1665.0,613.4 1667.0,612.0 1669.0,610.7 1671.0,609.3 1673.0,608.0 1675.0,606.7 1677.0,605.5 1679.0,604.2 1681.0,602.9 1683.0,601.7 1685.0,600.4 1687.0,598.8 1689.0,597.1 1691.0,595.3 1693.0,593.5 1695.0,591.8 1697.0,590.1 1699.0,589.4 1701.0,588.7 1703.0,588.0 1705.0,587.3 1707.0,586.6 1709.0,586.0 1711.0,585.6 1713.0,585.1 1715.0,584.7 1717.0,584.3 1719.0,583.8 1721.0,583.4 1723.0,582.8 1725.0,582.2 1727.0,581.6 1729.0,581.0 1731.0,580.5 1733.0,580.2 1735.0,580.0 1737.0,579.8 1739.0,579.6 1741.0,579.3 1743.0,579.1 1745.0,578.9 1747.0,578.7 1749.0,578.7 L1749.0,611.6 1747.0,611.8 1745.0,611.9 1743.0,612.1 1741.0,612.2 1739.0,612.4 1737.0,612.5 1735.0,612.7 1733.0,613.1 1731.0,613.5 1729.0,613.9 1727.0,614.3 1725.0,614.7 1723.0,615.0 1721.0,615.3 1719.0,615.6 1717.0,615.9 1715.0,616.1 1713.0,616.4 1711.0,616.8 1709.0,617.3 1707.0,617.7 1705.0,618.2 1703.0,618.7 1701.0,619.1 1699.0,620.2 1697.0,621.3 1695.0,622.4 1693.0,623.5 1691.0,624.6 1689.0,625.6 1687.0,626.3 1685.0,627.1 1683.0,627.8 1681.0,628.5 1679.0,629.2 1677.0,629.9 1675.0,630.6 1673.0,631.3 1671.0,632.0 1669.0,632.7 1667.0,633.3 1665.0,634.0 1663.0,634.4 1661.0,634.5 1659.0,634.6 1657.0,634.7 1655.0,634.8 1653.0,634.9 1651.0,635.1 1649.0,635.2 1647.0,635.3 1645.0,635.4 1643.0,635.6 1641.0,635.7 1639.0,635.8 1637.0,635.9 1635.0,635.9 1633.0,635.9 1631.0,635.9 1629.0,635.9 1627.0,635.9 1625.0,635.9 1623.0,635.9 1621.0,635.9 1619.0,635.9 1617.0,635.9 1615.0,635.9 1613.0,635.9 1611.0,635.9 1609.0,635.9 1607.0,635.9 1605.0,635.9 1603.0,635.9 1601.0,635.9 1599.0,635.9 1597.0,635.9 1595.0,635.9 1593.0,635.9 1591.0,635.9 1589.0,635.9 1587.0,635.9 1585.0,635.9 1583.0,635.9 1581.0,635.9 1579.0,635.9 1577.0,635.9 1575.0,635.9 1573.0,635.9 1571.0,635.9 1569.0,635.9 1567.0,635.9 1565.0,635.9 1563.0,635.9 1561.0,635.9 1559.0,635.9 1557.0,635.9 1555.0,635.9 1553.0,635.9 1551.0,635.9 1549.0,635.9 1547.0,635.9 1545.0,635.9 1543.0,635.9 1541.0,635.9 1539.0,635.9 1537.0,635.9 1535.0,635.9 1533.0,635.9 1531.0,635.9 1529.0,635.9 1527.0,635.9 1525.0,635.9 1523.0,635.7 1521.0,635.3 1519.0,635.0 1517.0,634.6 1515.0,634.1 1513.0,633.7 1511.0,633.2 1509.0,632.7 1507.0,632.1 1505.0,631.4 1503.0,630.7 1501.0,630.0 1499.0,629.3 1497.0,628.8 1495.0,628.4 1493.0,627.9 1491.0,627.5 1489.0,627.1 1487.0,626.6 1485.0,626.2 1483.0,625.7 1481.0,625.3 1479.0,624.8 1477.0,624.4 1475.0,623.9 1473.0,623.4 1471.0,622.7 1469.0,621.9 1467.0,621.1 1465.0,620.4 1463.0,619.5 1461.0,618.1 1459.0,616.7 1457.0,615.3 1455.0,613.9 1453.0,612.5 1451.0,610.4 1449.0,608.3 1447.0,606.2 1445.0,604.1 1443.0,602.0 1441.0,599.6 1439.0,597.2 1437.0,594.8 1435.0,592.4 1433.0,590.6 1431.0,589.1 1429.0,587.6 1427.0,586.2 1425.0,584.2 1423.0,580.7 1421.0,577.3 1419.0,574.1 1417.0,571.0 1415.0,568.0 1413.0,565.3 1411.0,562.6 1409.0,560.5 1407.0,558.7 1405.0,556.9 1403.0,555.2 1401.0,553.4 1399.0,551.6 1397.0,549.5 1395.0,546.8 1393.0,544.1 1391.0,540.6 1389.0,536.9 1387.0,534.2 1385.0,532.8 1383.0,531.3 1381.0,529.7 1379.0,528.0 1377.0,526.2 1375.0,524.4 1373.0,522.6 1371.0,520.7 1369.0,518.8 1367.0,515.6 1365.0,512.3 1363.0,507.8 1361.0,502.4 1359.0,497.6 1357.0,493.1 1355.0,488.6 1353.0,483.3 1351.0,477.3 1349.0,471.4 1347.0,464.4 1345.0,456.3 1343.0,448.1 1341.0,437.1 1339.0,421.3 1337.0,406.2 1335.0,394.5 1333.0,382.7 1331.0,371.0 1329.0,359.2 1327.0,347.5 1325.0,335.7 1323.0,323.9 1321.0,312.1 1319.0,297.5 1317.0,287.9 1315.0,279.6 1313.0,273.3 1311.0,268.3 1309.0,264.0 1307.0,260.2 1305.0,256.2 1303.0,251.8 1301.0,247.3 1299.0,242.2 1297.0,237.3 1295.0,232.5 1293.0,227.7 1291.0,223.8 1289.0,220.0 1287.0,216.7 1285.0,214.0 1283.0,211.2 1281.0,206.4 1279.0,201.0 1277.0,196.2 1275.0,193.0 1273.0,190.7 1271.0,189.5 1269.0,187.0 1267.0,183.9 1265.0,180.3 1263.0,176.4 1261.0,172.6 1259.0,168.8 1257.0,167.3 1255.0,168.5 1253.0,172.5 1251.0,176.6 1249.0,180.8 1247.0,185.1 1245.0,187.6 1243.0,190.0 1241.0,190.5 1239.0,190.5 1237.0,190.5 1235.0,188.6 1233.0,186.6 1231.0,184.8 1229.0,182.9 1227.0,181.0 1225.0,180.7 1223.0,180.7 1221.0,180.7 1219.0,180.0 1217.0,179.0 1215.0,179.7 1213.0,181.2 1211.0,182.3 1209.0,182.7 1207.0,183.1 1205.0,184.6 1203.0,189.1 1201.0,195.6 1199.0,205.0 1197.0,214.8 1195.0,225.0 1193.0,234.4 1191.0,243.3 1189.0,252.3 1187.0,261.3 1185.0,266.2 1183.0,268.8 1181.0,270.5 1179.0,273.3 1177.0,273.5 1175.0,273.8 1173.0,276.3 1171.0,284.7 1169.0,294.3 1167.0,310.2 1165.0,327.0 1163.0,347.2 1161.0,366.3 1159.0,377.5 1157.0,389.7 1155.0,396.6 1153.0,398.0 1151.0,399.4 1149.0,402.1 1147.0,405.2 1145.0,412.9 1143.0,420.4 1141.0,427.3 1139.0,433.6 1137.0,439.6 1135.0,448.0 1133.0,451.4 1131.0,452.4 1129.0,453.2 1127.0,453.8 1125.0,456.3 1123.0,461.9 1121.0,466.0 1119.0,468.5 1117.0,471.5 1115.0,475.2 1113.0,479.5 1111.0,482.6 1109.0,483.2 1107.0,484.0 1105.0,484.9 1103.0,486.0 1101.0,492.0 1099.0,498.2 1097.0,506.2 1095.0,514.1 1093.0,521.4 1091.0,529.4 1089.0,537.5 1087.0,541.1 1085.0,544.1 1083.0,545.9 1081.0,548.1 1079.0,551.0 1077.0,553.9 1075.0,557.7 1073.0,562.4 1071.0,567.8 1069.0,573.6 1067.0,580.4 1065.0,587.4 1063.0,592.1 1061.0,596.4 1059.0,600.5 1057.0,604.2 1055.0,607.9 1053.0,610.7 1051.0,613.3 1049.0,615.9 1047.0,618.0 1045.0,619.8 1043.0,621.6 1041.0,623.4 1039.0,624.4 1037.0,625.4 1035.0,626.3 1033.0,627.2 1031.0,628.1 1029.0,628.8 1027.0,629.6 1025.0,630.3 1023.0,631.0 1021.0,631.7 1019.0,632.6 1017.0,633.5 1015.0,634.4 1013.0,635.2 1011.0,635.7 1009.0,635.9 1007.0,635.9 1005.0,635.9 1003.0,635.9 1001.0,635.9 999.0,635.9 997.0,635.9 995.0,635.9 993.0,635.9 991.0,635.9 989.0,635.9 987.0,635.9 985.0,635.9 983.0,635.9 981.0,635.9 979.0,635.9 977.0,635.9 975.0,635.9 973.0,635.9 971.0,635.9 969.0,635.9 967.0,635.9 965.0,635.9 963.0,635.9 961.0,635.9 959.0,635.9 957.0,635.9 955.0,635.9 953.0,635.9 951.0,635.9 949.0,635.9 947.0,635.9 945.0,635.9 Z" fill="#df3b12" fill-opacity="0.075" stroke="none"/>
<path d="M945.0,634.0 980.0,633.5 1000.0,631.5 1010.0,630.3 1022.5,625.3 1032.6,620.3 1040.1,614.0 1045.1,606.5 1050.1,595.2 1053.9,585.2 1057.7,570.1 1061.4,555.1 1063.9,542.5 1066.4,533.8 1068.0,530.0 1072.4,515.7 1077.3,502.1 1082.3,487.1 1086.0,474.7 1088.5,466.0 1092.3,458.6 1097.2,451.7 1102.2,449.2 1107.2,448.0 1110.9,446.1 1114.6,443.6 1119.6,437.4 1123.3,436.2 1125.8,433.7 1128.5,426.0 1132.3,407.0 1136.0,389.6 1139.7,369.7 1142.2,354.8 1144.7,338.6 1147.2,325.0 1148.2,320.0 1153.6,294.6 1159.8,270.9 1164.8,254.8 1168.5,244.8 1172.3,238.6 1176.0,237.4 1179.7,239.9 1182.2,246.1 1185.9,248.6 1192.2,246.7 1195.9,242.3 1198.4,234.9 1200.9,227.4 1203.3,220.0 1204.7,215.0 1208.5,197.0 1212.2,179.6 1215.9,163.4 1218.4,152.3 1221.2,145.8 1228.6,143.3 1236.1,140.8 1242.3,135.8 1247.3,133.3 1252.3,124.6 1256.0,117.2 1259.7,122.2 1263.4,129.6 1267.2,134.6 1272.2,133.3 1276.5,130.9 1279.6,140.8 1284.6,153.2 1288.6,160.0 1293.6,169.9 1298.6,182.4 1303.5,196.0 1308.5,202.3 1312.2,208.5 1314.7,215.9 1317.2,227.1 1319.7,238.3 1322.2,252.0 1324.5,265.0 1342.4,370.0 1347.4,407.3 1352.4,438.4 1356.1,457.0 1358.1,470.0 1361.2,482.4 1364.9,494.9 1368.6,504.8 1373.6,512.3 1379.8,518.5 1386.0,522.2 1392.3,528.4 1399.7,532.2 1407.2,534.6 1412.2,538.4 1415.9,545.8 1420.9,554.5 1427.1,561.0 1436.3,567.6 1445.1,580.2 1453.9,590.2 1462.6,600.2 1472.7,607.8 1482.7,612.8 1495.3,619.0 1507.8,622.8 1520.3,626.0 1532.9,628.5 1545.4,629.7 1558.0,631.0 1570.5,631.8 1595.6,632.8 1620.7,633.5 1642.0,633.9 1749.6,634.0" fill="none" stroke="#1ca434" stroke-width="2.35" stroke-linejoin="round" stroke-linecap="butt"/>
<path d="M945.0,630.2 947.0,630.2 949.0,630.1 951.0,630.0 953.0,630.0 955.0,629.9 957.0,629.9 959.0,629.8 961.0,629.7 963.0,629.7 965.0,629.6 967.0,629.6 969.0,629.5 971.0,629.5 973.0,629.4 975.0,629.4 977.0,629.3 979.0,629.1 981.0,628.7 983.0,628.3 985.0,628.0 987.0,627.6 989.0,627.3 991.0,626.9 993.0,626.6 995.0,626.2 997.0,625.9 999.0,625.5 1001.0,625.1 1003.0,624.7 1005.0,624.4 1007.0,624.0 1009.0,623.2 1011.0,622.0 1013.0,620.8 1015.0,619.6 1017.0,618.5 1019.0,617.4 1021.0,616.2 1023.0,614.8 1025.0,613.5 1027.0,612.1 1029.0,610.8 1031.0,609.4 1033.0,607.2 1035.0,605.0 1037.0,602.9 1039.0,600.1 1041.0,596.3 1043.0,592.7 1045.0,587.3 1047.0,581.9 1049.0,576.2 1051.0,570.0 1053.0,562.3 1055.0,553.2 1057.0,544.0 1059.0,534.8 1061.0,524.0 1063.0,514.6 1065.0,507.5 1067.0,501.4 1069.0,494.2 1071.0,487.3 1073.0,481.2 1075.0,475.1 1077.0,468.7 1079.0,462.1 1081.0,455.3 1083.0,448.0 1085.0,440.6 1087.0,433.8 1089.0,429.6 1091.0,425.8 1093.0,422.7 1095.0,419.7 1097.0,418.4 1099.0,417.3 1101.0,416.4 1103.0,415.9 1105.0,415.4 1107.0,414.4 1109.0,413.2 1111.0,411.8 1113.0,410.1 1115.0,407.4 1117.0,404.8 1119.0,403.4 1121.0,402.7 1123.0,400.8 1125.0,396.4 1127.0,389.2 1129.0,378.5 1131.0,368.0 1133.0,358.0 1135.0,347.2 1137.0,335.8 1139.0,323.5 1141.0,310.5 1143.0,297.0 1145.0,285.4 1147.0,275.0 1149.0,265.0 1151.0,255.1 1153.0,246.4 1155.0,238.3 1157.0,230.3 1159.0,222.9 1161.0,216.1 1163.0,209.4 1165.0,203.7 1167.0,198.6 1169.0,195.1 1171.0,192.6 1173.0,191.9 1175.0,191.9 1177.0,191.9 1179.0,192.2 1181.0,193.6 1183.0,197.4 1185.0,201.2 1187.0,202.4 1189.0,201.7 1191.0,200.4 1193.0,197.9 1195.0,193.4 1197.0,187.2 1199.0,180.9 1201.0,174.4 1203.0,166.8 1205.0,156.8 1207.0,146.9 1209.0,137.0 1211.0,127.4 1213.0,118.2 1215.0,109.0 1217.0,100.9 1219.0,96.1 1221.0,94.9 1223.0,94.1 1225.0,93.4 1227.0,92.7 1229.0,92.0 1231.0,91.3 1233.0,90.6 1235.0,89.5 1237.0,87.8 1239.0,86.1 1241.0,84.7 1243.0,83.6 1245.0,82.6 1247.0,79.4 1249.0,75.8 1251.0,71.9 1253.0,67.8 1255.0,66.9 1257.0,66.9 1259.0,66.9 1261.0,69.7 1263.0,73.4 1265.0,77.6 1267.0,80.7 1269.0,82.7 1271.0,82.0 1273.0,80.8 1275.0,80.8 1277.0,80.8 1279.0,81.4 1281.0,88.1 1283.0,93.7 1285.0,98.9 1287.0,103.8 1289.0,107.4 1291.0,111.1 1293.0,115.2 1295.0,119.4 1297.0,124.2 1299.0,129.5 1301.0,134.8 1303.0,140.6 1305.0,146.5 1307.0,150.0 1309.0,152.6 1311.0,155.5 1313.0,159.0 1315.0,163.5 1317.0,170.1 1319.0,179.5 1321.0,189.0 1323.0,199.7 1325.0,211.4 1327.0,223.4 1329.0,235.8 1331.0,248.1 1333.0,260.5 1335.0,273.0 1337.0,285.4 1339.0,297.8 1341.0,310.3 1343.0,322.7 1345.0,336.2 1347.0,352.1 1349.0,368.0 1351.0,381.9 1353.0,395.3 1355.0,408.0 1357.0,418.8 1359.0,431.0 1361.0,442.8 1363.0,451.5 1365.0,459.0 1367.0,466.3 1369.0,472.2 1371.0,477.6 1373.0,480.9 1375.0,484.2 1377.0,486.7 1379.0,488.9 1381.0,491.1 1383.0,492.8 1385.0,494.1 1387.0,495.5 1389.0,497.2 1391.0,499.4 1393.0,501.5 1395.0,503.4 1397.0,504.5 1399.0,505.6 1401.0,506.8 1403.0,507.7 1405.0,508.4 1407.0,509.1 1409.0,509.8 1411.0,511.4 1413.0,513.0 1415.0,515.8 1417.0,520.2 1419.0,524.4 1421.0,528.3 1423.0,532.2 1425.0,534.5 1427.0,536.9 1429.0,539.3 1431.0,540.9 1433.0,542.6 1435.0,544.2 1437.0,545.8 1439.0,548.0 1441.0,551.2 1443.0,554.5 1445.0,557.8 1447.0,561.1 1449.0,563.8 1451.0,566.4 1453.0,569.0 1455.0,571.7 1457.0,574.4 1459.0,577.1 1461.0,579.8 1463.0,582.5 1465.0,585.1 1467.0,586.9 1469.0,588.7 1471.0,590.5 1473.0,592.4 1475.0,594.1 1477.0,595.4 1479.0,596.6 1481.0,597.8 1483.0,599.1 1485.0,600.3 1487.0,601.6 1489.0,602.8 1491.0,604.0 1493.0,605.3 1495.0,606.6 1497.0,607.8 1499.0,608.7 1501.0,609.5 1503.0,610.3 1505.0,611.1 1507.0,611.9 1509.0,612.7 1511.0,613.5 1513.0,614.2 1515.0,614.9 1517.0,615.6 1519.0,616.3 1521.0,617.0 1523.0,617.6 1525.0,618.2 1527.0,618.8 1529.0,619.3 1531.0,619.9 1533.0,620.5 1535.0,621.1 1537.0,621.4 1539.0,621.6 1541.0,621.9 1543.0,622.2 1545.0,622.5 1547.0,622.8 1549.0,623.1 1551.0,623.4 1553.0,623.7 1555.0,624.1 1557.0,624.4 1559.0,624.7 1561.0,625.0 1563.0,625.2 1565.0,625.4 1567.0,625.6 1569.0,625.8 1571.0,626.0 1573.0,626.2 1575.0,626.4 1577.0,626.5 1579.0,626.6 1581.0,626.8 1583.0,626.9 1585.0,627.1 1587.0,627.2 1589.0,627.3 1591.0,627.5 1593.0,627.6 1595.0,627.8 1597.0,627.9 1599.0,628.0 1601.0,628.1 1603.0,628.2 1605.0,628.3 1607.0,628.4 1609.0,628.5 1611.0,628.6 1613.0,628.7 1615.0,628.8 1617.0,629.0 1619.0,629.1 1621.0,629.2 1623.0,629.3 1625.0,629.3 1627.0,629.4 1629.0,629.5 1631.0,629.6 1633.0,629.6 1635.0,629.7 1637.0,629.8 1639.0,629.9 1641.0,630.0 1643.0,630.0 1645.0,630.1 1647.0,630.1 1649.0,630.1 1651.0,630.1 1653.0,630.1 1655.0,630.1 1657.0,630.1 1659.0,630.1 1661.0,630.1 1663.0,630.1 1665.0,630.1 1667.0,630.1 1669.0,630.1 1671.0,630.1 1673.0,630.1 1675.0,630.1 1677.0,630.1 1679.0,630.1 1681.0,630.1 1683.0,630.1 1685.0,630.1 1687.0,630.2 1689.0,630.2 1691.0,630.2 1693.0,630.2 1695.0,630.2 1697.0,630.2 1699.0,630.2 1701.0,630.2 1703.0,630.2 1705.0,630.2 1707.0,630.2 1709.0,630.2 1711.0,630.2 1713.0,630.2 1715.0,630.2 1717.0,630.2 1719.0,630.2 1721.0,630.2 1723.0,630.2 1725.0,630.2 1727.0,630.2 1729.0,630.2 1731.0,630.2 1733.0,630.2 1735.0,630.2 1737.0,630.3 1739.0,630.3 1741.0,630.3 1743.0,630.3 1745.0,630.3 1747.0,630.3 1749.0,630.3 L1749.0,635.9 1747.0,635.9 1745.0,635.9 1743.0,635.9 1741.0,635.9 1739.0,635.9 1737.0,635.9 1735.0,635.9 1733.0,635.9 1731.0,635.9 1729.0,635.9 1727.0,635.9 1725.0,635.9 1723.0,635.9 1721.0,635.9 1719.0,635.9 1717.0,635.9 1715.0,635.9 1713.0,635.9 1711.0,635.9 1709.0,635.9 1707.0,635.9 1705.0,635.9 1703.0,635.9 1701.0,635.9 1699.0,635.9 1697.0,635.9 1695.0,635.9 1693.0,635.9 1691.0,635.9 1689.0,635.9 1687.0,635.9 1685.0,635.9 1683.0,635.9 1681.0,635.9 1679.0,635.9 1677.0,635.9 1675.0,635.9 1673.0,635.9 1671.0,635.9 1669.0,635.9 1667.0,635.9 1665.0,635.9 1663.0,635.9 1661.0,635.9 1659.0,635.9 1657.0,635.9 1655.0,635.9 1653.0,635.9 1651.0,635.9 1649.0,635.9 1647.0,635.9 1645.0,635.9 1643.0,635.9 1641.0,635.9 1639.0,635.9 1637.0,635.9 1635.0,635.9 1633.0,635.9 1631.0,635.9 1629.0,635.9 1627.0,635.9 1625.0,635.9 1623.0,635.9 1621.0,635.9 1619.0,635.9 1617.0,635.9 1615.0,635.9 1613.0,635.9 1611.0,635.9 1609.0,635.9 1607.0,635.9 1605.0,635.9 1603.0,635.9 1601.0,635.9 1599.0,635.9 1597.0,635.9 1595.0,635.9 1593.0,635.9 1591.0,635.9 1589.0,635.9 1587.0,635.9 1585.0,635.9 1583.0,635.9 1581.0,635.9 1579.0,635.9 1577.0,635.9 1575.0,635.9 1573.0,635.9 1571.0,635.9 1569.0,635.9 1567.0,635.9 1565.0,635.9 1563.0,635.9 1561.0,635.9 1559.0,635.9 1557.0,635.9 1555.0,635.9 1553.0,635.9 1551.0,635.9 1549.0,635.9 1547.0,635.9 1545.0,635.9 1543.0,635.9 1541.0,635.9 1539.0,635.9 1537.0,635.9 1535.0,635.9 1533.0,635.9 1531.0,635.9 1529.0,635.7 1527.0,635.5 1525.0,635.3 1523.0,635.1 1521.0,634.8 1519.0,634.6 1517.0,634.3 1515.0,634.0 1513.0,633.7 1511.0,633.4 1509.0,633.1 1507.0,632.7 1505.0,632.4 1503.0,632.0 1501.0,631.5 1499.0,631.1 1497.0,630.7 1495.0,630.3 1493.0,629.8 1491.0,629.1 1489.0,628.4 1487.0,627.7 1485.0,627.0 1483.0,626.3 1481.0,625.5 1479.0,624.8 1477.0,624.0 1475.0,623.3 1473.0,622.5 1471.0,621.7 1469.0,620.6 1467.0,619.4 1465.0,618.2 1463.0,617.0 1461.0,615.8 1459.0,614.1 1457.0,612.2 1455.0,610.3 1453.0,608.4 1451.0,606.5 1449.0,604.7 1447.0,602.8 1445.0,600.8 1443.0,598.9 1441.0,596.4 1439.0,594.0 1437.0,591.6 1435.0,589.1 1433.0,587.5 1431.0,586.2 1429.0,585.0 1427.0,583.7 1425.0,582.4 1423.0,580.6 1421.0,578.8 1419.0,576.9 1417.0,573.9 1415.0,570.9 1413.0,567.6 1411.0,564.0 1409.0,561.9 1407.0,560.5 1405.0,559.3 1403.0,558.7 1401.0,558.1 1399.0,557.5 1397.0,556.8 1395.0,555.9 1393.0,555.0 1391.0,554.1 1389.0,552.6 1387.0,550.8 1385.0,549.1 1383.0,547.7 1381.0,546.6 1379.0,545.5 1377.0,544.2 1375.0,542.4 1373.0,540.6 1371.0,538.5 1369.0,535.8 1367.0,533.1 1365.0,528.6 1363.0,523.7 1361.0,517.6 1359.0,511.3 1357.0,504.0 1355.0,494.0 1353.0,483.6 1351.0,474.4 1349.0,463.5 1347.0,451.9 1345.0,439.9 1343.0,426.0 1341.0,412.0 1339.0,400.3 1337.0,389.3 1335.0,378.2 1333.0,367.2 1331.0,356.2 1329.0,345.1 1327.0,334.1 1325.0,323.0 1323.0,311.9 1321.0,301.1 1319.0,290.6 1317.0,280.9 1315.0,272.4 1313.0,263.9 1311.0,257.9 1309.0,253.8 1307.0,250.6 1305.0,248.1 1303.0,245.7 1301.0,242.5 1299.0,237.2 1297.0,231.9 1295.0,227.1 1293.0,222.3 1291.0,217.9 1289.0,214.1 1287.0,210.3 1285.0,207.0 1283.0,203.8 1281.0,199.3 1279.0,194.6 1277.0,189.4 1275.0,183.8 1273.0,184.5 1271.0,185.0 1269.0,185.1 1267.0,185.1 1265.0,185.1 1263.0,182.6 1261.0,179.8 1259.0,176.0 1257.0,172.6 1255.0,174.7 1253.0,178.1 1251.0,181.5 1249.0,184.4 1247.0,185.3 1245.0,186.3 1243.0,187.6 1241.0,189.2 1239.0,190.7 1237.0,191.7 1235.0,192.4 1233.0,193.0 1231.0,193.6 1229.0,194.3 1227.0,194.9 1225.0,195.6 1223.0,196.7 1221.0,201.1 1219.0,208.5 1217.0,216.9 1215.0,225.2 1213.0,233.9 1211.0,242.9 1209.0,251.9 1207.0,260.9 1205.0,267.8 1203.0,273.6 1201.0,279.3 1199.0,285.0 1197.0,289.0 1195.0,291.2 1193.0,292.4 1191.0,293.0 1189.0,293.6 1187.0,293.6 1185.0,293.6 1183.0,293.3 1181.0,292.0 1179.0,288.6 1177.0,285.1 1175.0,284.2 1173.0,286.5 1171.0,289.6 1169.0,294.2 1167.0,299.4 1165.0,305.4 1163.0,311.5 1161.0,318.0 1159.0,325.3 1157.0,332.5 1155.0,340.2 1153.0,349.1 1151.0,358.0 1149.0,367.3 1147.0,377.5 1145.0,389.4 1143.0,401.0 1141.0,411.7 1139.0,421.7 1137.0,431.1 1135.0,439.9 1133.0,449.0 1131.0,458.3 1129.0,464.4 1127.0,468.3 1125.0,469.9 1123.0,470.5 1121.0,471.6 1119.0,473.9 1117.0,476.2 1115.0,477.6 1113.0,478.9 1111.0,479.8 1109.0,480.7 1107.0,481.2 1105.0,481.6 1103.0,482.4 1101.0,483.3 1099.0,484.4 1097.0,487.0 1095.0,489.6 1093.0,492.8 1091.0,496.4 1089.0,502.2 1087.0,508.4 1085.0,514.5 1083.0,520.2 1081.0,525.6 1079.0,531.0 1077.0,536.0 1075.0,541.0 1073.0,546.6 1071.0,552.5 1069.0,557.4 1067.0,563.1 1065.0,570.6 1063.0,579.0 1061.0,586.1 1059.0,593.0 1057.0,599.8 1055.0,605.4 1053.0,609.7 1051.0,613.7 1049.0,617.3 1047.0,620.8 1045.0,623.1 1043.0,625.4 1041.0,627.0 1039.0,628.3 1037.0,629.5 1035.0,630.6 1033.0,631.4 1031.0,632.1 1029.0,632.7 1027.0,633.4 1025.0,634.0 1023.0,634.5 1021.0,635.0 1019.0,635.4 1017.0,635.8 1015.0,635.9 1013.0,635.9 1011.0,635.9 1009.0,635.9 1007.0,635.9 1005.0,635.9 1003.0,635.9 1001.0,635.9 999.0,635.9 997.0,635.9 995.0,635.9 993.0,635.9 991.0,635.9 989.0,635.9 987.0,635.9 985.0,635.9 983.0,635.9 981.0,635.9 979.0,635.9 977.0,635.9 975.0,635.9 973.0,635.9 971.0,635.9 969.0,635.9 967.0,635.9 965.0,635.9 963.0,635.9 961.0,635.9 959.0,635.9 957.0,635.9 955.0,635.9 953.0,635.9 951.0,635.9 949.0,635.9 947.0,635.9 945.0,635.9 Z" fill="#1ca434" fill-opacity="0.075" stroke="none"/>
</g>
<line x1="455.40" y1="3.0" x2="455.40" y2="635.9" stroke="#72cfc2" stroke-width="2.5"/>
<line x1="489.00" y1="3.0" x2="489.00" y2="635.9" stroke="#90d3e3" stroke-width="2.5"/>
<line x1="557.40" y1="3.0" x2="557.40" y2="635.9" stroke="#6cb6dc" stroke-width="2.5"/>
<line x1="1284.20" y1="3.0" x2="1284.20" y2="635.9" stroke="#72cfc2" stroke-width="2.5"/>
<line x1="1318.90" y1="3.0" x2="1318.90" y2="635.9" stroke="#90d3e3" stroke-width="2.5"/>
<line x1="1387.45" y1="3.0" x2="1387.45" y2="635.9" stroke="#6cb6dc" stroke-width="2.5"/>
<rect x="114.92" y="3.0" width="830.03" height="632.90" fill="none" stroke="#2a2a2a" stroke-width="1.5"/>
<rect x="944.95" y="3.0" width="828.05" height="632.90" fill="none" stroke="#2a2a2a" stroke-width="1.5"/>
<line x1="114.92" y1="635.9" x2="114.92" y2="641.6" stroke="#1c1c1c" stroke-width="1.25"/>
<text transform="translate(114.92,663.50) scale(1.0800,1)" font-family="DejaVu Sans, Liberation Sans, sans-serif" font-size="24.0" text-anchor="middle" fill="#000">0</text>
<line x1="228.51" y1="635.9" x2="228.51" y2="641.6" stroke="#1c1c1c" stroke-width="1.25"/>
<text transform="translate(228.51,663.50) scale(1.0800,1)" font-family="DejaVu Sans, Liberation Sans, sans-serif" font-size="24.0" text-anchor="middle" fill="#000">100</text>
<line x1="342.10" y1="635.9" x2="342.10" y2="641.6" stroke="#1c1c1c" stroke-width="1.25"/>
<text transform="translate(342.10,663.50) scale(1.0800,1)" font-family="DejaVu Sans, Liberation Sans, sans-serif" font-size="24.0" text-anchor="middle" fill="#000">200</text>
<line x1="455.69" y1="635.9" x2="455.69" y2="641.6" stroke="#1c1c1c" stroke-width="1.25"/>
<text transform="translate(455.69,663.50) scale(1.0800,1)" font-family="DejaVu Sans, Liberation Sans, sans-serif" font-size="24.0" text-anchor="middle" fill="#000">300</text>
<line x1="569.28" y1="635.9" x2="569.28" y2="641.6" stroke="#1c1c1c" stroke-width="1.25"/>
<text transform="translate(569.28,663.50) scale(1.0800,1)" font-family="DejaVu Sans, Liberation Sans, sans-serif" font-size="24.0" text-anchor="middle" fill="#000">400</text>
<line x1="682.87" y1="635.9" x2="682.87" y2="641.6" stroke="#1c1c1c" stroke-width="1.25"/>
<text transform="translate(682.87,663.50) scale(1.0800,1)" font-family="DejaVu Sans, Liberation Sans, sans-serif" font-size="24.0" text-anchor="middle" fill="#000">500</text>
<line x1="796.46" y1="635.9" x2="796.46" y2="641.6" stroke="#1c1c1c" stroke-width="1.25"/>
<text transform="translate(796.46,663.50) scale(1.0800,1)" font-family="DejaVu Sans, Liberation Sans, sans-serif" font-size="24.0" text-anchor="middle" fill="#000">600</text>
<line x1="910.05" y1="635.9" x2="910.05" y2="641.6" stroke="#1c1c1c" stroke-width="1.25"/>
<text transform="translate(910.05,663.50) scale(1.0800,1)" font-family="DejaVu Sans, Liberation Sans, sans-serif" font-size="24.0" text-anchor="middle" fill="#000">700</text>
<line x1="944.95" y1="635.9" x2="944.95" y2="641.6" stroke="#1c1c1c" stroke-width="1.25"/>
<text transform="translate(944.95,663.50) scale(1.0800,1)" font-family="DejaVu Sans, Liberation Sans, sans-serif" font-size="24.0" text-anchor="middle" fill="#000">0</text>
<line x1="1058.42" y1="635.9" x2="1058.42" y2="641.6" stroke="#1c1c1c" stroke-width="1.25"/>
<text transform="translate(1058.42,663.50) scale(1.0800,1)" font-family="DejaVu Sans, Liberation Sans, sans-serif" font-size="24.0" text-anchor="middle" fill="#000">100</text>
<line x1="1171.89" y1="635.9" x2="1171.89" y2="641.6" stroke="#1c1c1c" stroke-width="1.25"/>
<text transform="translate(1171.89,663.50) scale(1.0800,1)" font-family="DejaVu Sans, Liberation Sans, sans-serif" font-size="24.0" text-anchor="middle" fill="#000">200</text>
<line x1="1285.36" y1="635.9" x2="1285.36" y2="641.6" stroke="#1c1c1c" stroke-width="1.25"/>
<text transform="translate(1285.36,663.50) scale(1.0800,1)" font-family="DejaVu Sans, Liberation Sans, sans-serif" font-size="24.0" text-anchor="middle" fill="#000">300</text>
<line x1="1398.83" y1="635.9" x2="1398.83" y2="641.6" stroke="#1c1c1c" stroke-width="1.25"/>
<text transform="translate(1398.83,663.50) scale(1.0800,1)" font-family="DejaVu Sans, Liberation Sans, sans-serif" font-size="24.0" text-anchor="middle" fill="#000">400</text>
<line x1="1512.30" y1="635.9" x2="1512.30" y2="641.6" stroke="#1c1c1c" stroke-width="1.25"/>
<text transform="translate(1512.30,663.50) scale(1.0800,1)" font-family="DejaVu Sans, Liberation Sans, sans-serif" font-size="24.0" text-anchor="middle" fill="#000">500</text>
<line x1="1625.77" y1="635.9" x2="1625.77" y2="641.6" stroke="#1c1c1c" stroke-width="1.25"/>
<text transform="translate(1625.77,663.50) scale(1.0800,1)" font-family="DejaVu Sans, Liberation Sans, sans-serif" font-size="24.0" text-anchor="middle" fill="#000">600</text>
<line x1="1739.24" y1="635.9" x2="1739.24" y2="641.6" stroke="#1c1c1c" stroke-width="1.25"/>
<text transform="translate(1739.24,663.50) scale(1.0800,1)" font-family="DejaVu Sans, Liberation Sans, sans-serif" font-size="24.0" text-anchor="middle" fill="#000">700</text>
<line x1="110.1" y1="635.50" x2="114.92" y2="635.50" stroke="#1c1c1c" stroke-width="1.25"/>
<text transform="translate(104.20,645.40) scale(1.0620,1)" font-family="DejaVu Sans, Liberation Sans, sans-serif" font-size="24.0" text-anchor="end" fill="#000">0.00</text>
<line x1="110.1" y1="550.10" x2="114.92" y2="550.10" stroke="#1c1c1c" stroke-width="1.25"/>
<text transform="translate(104.20,560.00) scale(1.0620,1)" font-family="DejaVu Sans, Liberation Sans, sans-serif" font-size="24.0" text-anchor="end" fill="#000">0.25</text>
<line x1="110.1" y1="464.70" x2="114.92" y2="464.70" stroke="#1c1c1c" stroke-width="1.25"/>
<text transform="translate(104.20,474.60) scale(1.0620,1)" font-family="DejaVu Sans, Liberation Sans, sans-serif" font-size="24.0" text-anchor="end" fill="#000">0.50</text>
<line x1="110.1" y1="379.30" x2="114.92" y2="379.30" stroke="#1c1c1c" stroke-width="1.25"/>
<text transform="translate(104.20,389.20) scale(1.0620,1)" font-family="DejaVu Sans, Liberation Sans, sans-serif" font-size="24.0" text-anchor="end" fill="#000">0.75</text>
<line x1="110.1" y1="293.90" x2="114.92" y2="293.90" stroke="#1c1c1c" stroke-width="1.25"/>
<text transform="translate(104.20,303.80) scale(1.0620,1)" font-family="DejaVu Sans, Liberation Sans, sans-serif" font-size="24.0" text-anchor="end" fill="#000">1.00</text>
<line x1="110.1" y1="208.50" x2="114.92" y2="208.50" stroke="#1c1c1c" stroke-width="1.25"/>
<text transform="translate(104.20,218.40) scale(1.0620,1)" font-family="DejaVu Sans, Liberation Sans, sans-serif" font-size="24.0" text-anchor="end" fill="#000">1.25</text>
<line x1="110.1" y1="123.10" x2="114.92" y2="123.10" stroke="#1c1c1c" stroke-width="1.25"/>
<text transform="translate(104.20,133.00) scale(1.0620,1)" font-family="DejaVu Sans, Liberation Sans, sans-serif" font-size="24.0" text-anchor="end" fill="#000">1.50</text>
<line x1="110.1" y1="37.70" x2="114.92" y2="37.70" stroke="#1c1c1c" stroke-width="1.25"/>
<text transform="translate(104.20,47.60) scale(1.0620,1)" font-family="DejaVu Sans, Liberation Sans, sans-serif" font-size="24.0" text-anchor="end" fill="#000">1.75</text>
<text transform="translate(528.94,703.60) scale(1.0140,1)" font-family="DejaVu Sans, Liberation Sans, sans-serif" font-size="38.2" font-weight="bold" text-anchor="middle" fill="#000">Time (days)</text>
<text transform="translate(1357.97,703.60) scale(1.0140,1)" font-family="DejaVu Sans, Liberation Sans, sans-serif" font-size="38.2" font-weight="bold" text-anchor="middle" fill="#000">Time (days)</text>
<text transform="translate(32.60,319.85) rotate(-90) scale(1.0165,1)" font-family="DejaVu Sans, Liberation Sans, sans-serif" font-size="38.2" font-weight="bold" text-anchor="middle" fill="#000">Daily Cases/1e4</text>
<text x="138.2" y="55.4" font-family="DejaVu Sans, Liberation Sans, sans-serif" font-size="38.3" fill="#000"><tspan font-style="italic">δ</tspan><tspan font-weight="bold">=180</tspan></text>
<text x="968.2" y="55.4" font-family="DejaVu Sans, Liberation Sans, sans-serif" font-size="38.3" fill="#000"><tspan font-style="italic">δ</tspan><tspan font-weight="bold">=360</tspan></text>
<rect x="117.5" y="739.6" width="1571.9" height="101.7" rx="3" ry="3" fill="#fff" stroke="#dcdcdc" stroke-width="1.1"/>
<line x1="125.5" y1="764.8" x2="193.0" y2="764.8" stroke="#a056cf" stroke-width="5"/>
<text transform="translate(214.53,775.60) scale(0.9700,1)" font-family="DejaVu Sans, Liberation Sans, sans-serif" font-size="32.0" font-weight="bold" text-anchor="start" fill="#000">30% of the population</text>
<line x1="125.5" y1="811.2" x2="193.0" y2="811.2" stroke="#8b4535" stroke-width="5"/>
<text transform="translate(214.53,822.50) scale(0.9700,1)" font-family="DejaVu Sans, Liberation Sans, sans-serif" font-size="32.0" font-weight="bold" text-anchor="start" fill="#000">40% of the population</text>
<line x1="662.2" y1="764.8" x2="729.7" y2="764.8" stroke="#ef7404" stroke-width="5"/>
<text transform="translate(750.83,775.60) scale(0.9700,1)" font-family="DejaVu Sans, Liberation Sans, sans-serif" font-size="32.0" font-weight="bold" text-anchor="start" fill="#000">50% of the population</text>
<line x1="662.2" y1="811.2" x2="729.7" y2="811.2" stroke="#df3b12" stroke-width="5"/>
<text transform="translate(750.83,822.50) scale(0.9700,1)" font-family="DejaVu Sans, Liberation Sans, sans-serif" font-size="32.0" font-weight="bold" text-anchor="start" fill="#000">60% of the population</text>
<line x1="1198.7" y1="764.8" x2="1266.2" y2="764.8" stroke="#1ca434" stroke-width="5"/>
<text transform="translate(1286.83,775.60) scale(0.9700,1)" font-family="DejaVu Sans, Liberation Sans, sans-serif" font-size="32.0" font-weight="bold" text-anchor="start" fill="#000">70% of the population</text>
</svg>
</body></html>
